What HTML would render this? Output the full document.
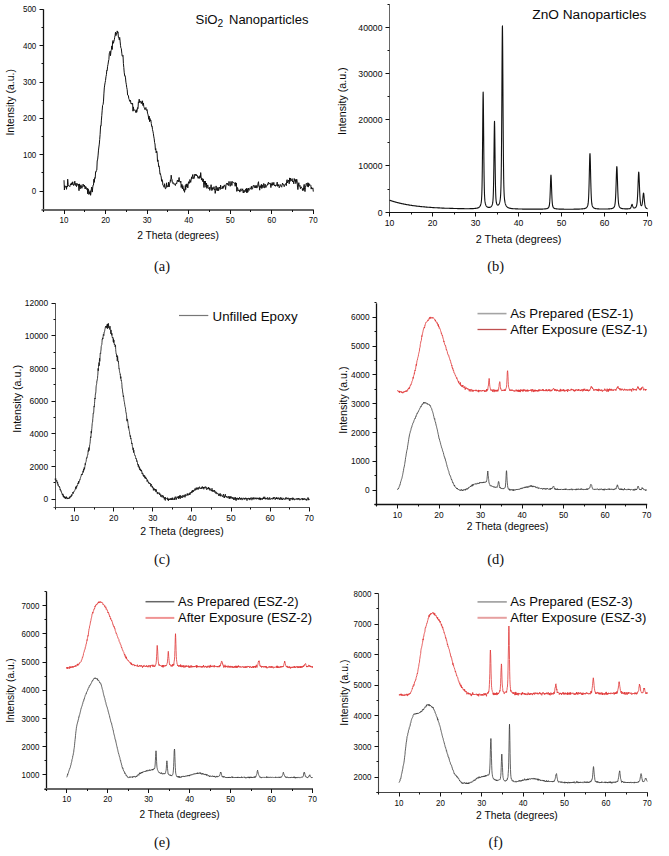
<!DOCTYPE html><html><head><meta charset="utf-8"><style>html,body{margin:0;padding:0;background:#fff;overflow:hidden;width:669px;height:856px}svg{display:block}text{font-family:"Liberation Sans", sans-serif;fill:#0a0a0a} text.cap{font-family:"Liberation Serif", serif;fill:#111}</style></head><body>
<svg width="669" height="856" viewBox="0 0 669 856">
<rect width="669" height="856" fill="#fff"/>
<line x1="43.5" y1="9.3" x2="43.5" y2="211.5" stroke="#111" stroke-width="1.3"/>
<line x1="41.5" y1="210" x2="313.8" y2="210" stroke="#666" stroke-width="1.8"/>
<line x1="39.5" y1="191.5" x2="43.5" y2="191.5" stroke="#111" stroke-width="1"/>
<text transform="translate(36.3,194.1) scale(1,1.12)" text-anchor="end" font-size="8">0</text>
<line x1="39.5" y1="154.5" x2="43.5" y2="154.5" stroke="#111" stroke-width="1"/>
<text transform="translate(36.3,157.7) scale(1,1.12)" text-anchor="end" font-size="8">100</text>
<line x1="39.5" y1="118.5" x2="43.5" y2="118.5" stroke="#111" stroke-width="1"/>
<text transform="translate(36.3,121.4) scale(1,1.12)" text-anchor="end" font-size="8">200</text>
<line x1="39.5" y1="82.5" x2="43.5" y2="82.5" stroke="#111" stroke-width="1"/>
<text transform="translate(36.3,85) scale(1,1.12)" text-anchor="end" font-size="8">300</text>
<line x1="39.5" y1="45.5" x2="43.5" y2="45.5" stroke="#111" stroke-width="1"/>
<text transform="translate(36.3,48.7) scale(1,1.12)" text-anchor="end" font-size="8">400</text>
<line x1="39.5" y1="9.5" x2="43.5" y2="9.5" stroke="#111" stroke-width="1"/>
<text transform="translate(36.3,12.3) scale(1,1.12)" text-anchor="end" font-size="8">500</text>
<line x1="41.5" y1="172.5" x2="43.5" y2="172.5" stroke="#111" stroke-width="1"/>
<line x1="41.5" y1="136.5" x2="43.5" y2="136.5" stroke="#111" stroke-width="1"/>
<line x1="41.5" y1="100.5" x2="43.5" y2="100.5" stroke="#111" stroke-width="1"/>
<line x1="41.5" y1="63.5" x2="43.5" y2="63.5" stroke="#111" stroke-width="1"/>
<line x1="41.5" y1="27.5" x2="43.5" y2="27.5" stroke="#111" stroke-width="1"/>
<line x1="64.5" y1="210" x2="64.5" y2="214" stroke="#111" stroke-width="1"/>
<text transform="translate(64,223.2) scale(1,1.12)" text-anchor="middle" font-size="8">10</text>
<line x1="105.5" y1="210" x2="105.5" y2="214" stroke="#111" stroke-width="1"/>
<text transform="translate(105.6,223.2) scale(1,1.12)" text-anchor="middle" font-size="8">20</text>
<line x1="147.5" y1="210" x2="147.5" y2="214" stroke="#111" stroke-width="1"/>
<text transform="translate(147.1,223.2) scale(1,1.12)" text-anchor="middle" font-size="8">30</text>
<line x1="188.5" y1="210" x2="188.5" y2="214" stroke="#111" stroke-width="1"/>
<text transform="translate(188.7,223.2) scale(1,1.12)" text-anchor="middle" font-size="8">40</text>
<line x1="230.5" y1="210" x2="230.5" y2="214" stroke="#111" stroke-width="1"/>
<text transform="translate(230.2,223.2) scale(1,1.12)" text-anchor="middle" font-size="8">50</text>
<line x1="271.5" y1="210" x2="271.5" y2="214" stroke="#111" stroke-width="1"/>
<text transform="translate(271.8,223.2) scale(1,1.12)" text-anchor="middle" font-size="8">60</text>
<line x1="313.5" y1="210" x2="313.5" y2="214" stroke="#111" stroke-width="1"/>
<text transform="translate(313.3,223.2) scale(1,1.12)" text-anchor="middle" font-size="8">70</text>
<line x1="43.5" y1="210" x2="43.5" y2="212" stroke="#111" stroke-width="1"/>
<line x1="84.5" y1="210" x2="84.5" y2="212" stroke="#111" stroke-width="1"/>
<line x1="126.5" y1="210" x2="126.5" y2="212" stroke="#111" stroke-width="1"/>
<line x1="167.5" y1="210" x2="167.5" y2="212" stroke="#111" stroke-width="1"/>
<line x1="209.5" y1="210" x2="209.5" y2="212" stroke="#111" stroke-width="1"/>
<line x1="250.5" y1="210" x2="250.5" y2="212" stroke="#111" stroke-width="1"/>
<line x1="292.5" y1="210" x2="292.5" y2="212" stroke="#111" stroke-width="1"/>
<polyline fill="none" stroke="#111" stroke-width="1.0" stroke-linejoin="round" points="64.0,180.2 64.4,190.0 64.8,185.6 65.2,187.2 65.7,186.8 66.1,186.2 66.5,189.3 66.9,186.0 67.3,187.0 67.7,179.2 68.2,184.7 68.6,185.7 69.0,185.5 69.4,186.1 69.8,186.7 70.2,185.4 70.6,183.8 71.1,185.0 71.5,182.8 71.9,184.9 72.3,184.5 72.7,181.8 73.1,183.6 73.6,185.5 74.0,185.0 74.4,183.7 74.8,181.2 75.2,185.3 75.6,185.3 76.0,183.1 76.5,186.6 76.9,185.7 77.3,183.6 77.7,184.3 78.1,185.2 78.5,184.3 79.0,190.7 79.4,183.9 79.8,187.6 80.2,188.9 80.6,185.5 81.0,184.8 81.5,187.0 81.9,188.3 82.3,186.4 82.7,186.6 83.1,184.1 83.5,185.4 83.9,186.5 84.4,185.0 84.8,187.6 85.2,189.0 85.6,186.5 86.0,186.7 86.4,188.3 86.9,189.6 87.3,188.2 87.7,193.8 88.1,188.8 88.5,189.9 88.9,194.5 89.3,191.9 89.8,193.9 90.2,190.7 90.6,195.3 91.0,192.6 91.4,188.8 91.8,187.0 92.3,192.1 92.7,187.9 93.1,185.0 93.5,185.0 93.9,179.2 94.3,182.4 94.7,177.7 95.2,178.3 95.6,171.8 96.0,172.2 96.4,170.4 96.8,170.2 97.2,161.0 97.7,159.1 98.1,155.1 98.5,150.1 98.9,147.0 99.3,144.1 99.7,139.5 100.1,134.6 100.6,125.8 101.0,126.2 101.4,120.1 101.8,115.3 102.2,110.2 102.6,105.3 103.1,104.4 103.5,101.1 103.9,93.9 104.3,87.9 104.7,85.1 105.1,82.7 105.5,80.6 106.0,76.5 106.4,74.7 106.8,70.1 107.2,70.5 107.6,66.3 108.0,64.4 108.5,61.0 108.9,59.5 109.3,53.2 109.7,53.1 110.1,51.2 110.5,55.7 111.0,50.8 111.4,49.6 111.8,45.9 112.2,49.5 112.6,41.7 113.0,40.5 113.4,43.3 113.9,41.4 114.3,39.8 114.7,37.3 115.1,35.4 115.5,32.2 115.9,35.7 116.4,33.4 116.8,34.1 117.2,30.9 117.6,32.7 118.0,31.9 118.4,37.4 118.8,37.2 119.3,39.9 119.7,37.4 120.1,41.1 120.5,45.3 120.9,47.9 121.3,48.6 121.8,53.2 122.2,56.1 122.6,56.2 123.0,55.4 123.4,63.4 123.8,67.5 124.2,72.2 124.7,75.9 125.1,75.6 125.5,77.9 125.9,82.2 126.3,84.3 126.7,87.3 127.2,89.7 127.6,95.0 128.0,95.0 128.4,95.6 128.8,98.7 129.2,99.4 129.6,101.2 130.1,101.4 130.5,100.3 130.9,103.5 131.3,104.0 131.7,103.1 132.1,104.3 132.6,103.3 133.0,111.2 133.4,106.9 133.8,110.4 134.2,110.3 134.6,110.0 135.1,110.3 135.5,110.9 135.9,112.6 136.3,109.7 136.7,112.3 137.1,110.8 137.5,107.6 138.0,108.5 138.4,101.9 138.8,102.5 139.2,99.2 139.6,102.4 140.0,102.7 140.5,101.8 140.9,100.9 141.3,103.6 141.7,102.2 142.1,103.3 142.5,100.8 142.9,105.5 143.4,103.0 143.8,106.6 144.2,107.8 144.6,108.0 145.0,109.7 145.4,108.1 145.9,107.5 146.3,110.2 146.7,110.4 147.1,109.6 147.5,113.1 147.9,114.2 148.3,116.0 148.8,119.4 149.2,116.1 149.6,121.7 150.0,118.5 150.4,120.9 150.8,120.0 151.3,123.6 151.7,126.4 152.1,126.0 152.5,129.7 152.9,131.2 153.3,133.3 153.7,136.1 154.2,138.8 154.6,142.6 155.0,144.0 155.4,149.9 155.8,148.6 156.2,152.9 156.7,151.0 157.1,153.1 157.5,161.4 157.9,159.9 158.3,162.7 158.7,166.6 159.1,165.9 159.6,169.8 160.0,174.2 160.4,173.6 160.8,175.5 161.2,177.0 161.6,181.3 162.1,179.6 162.5,180.7 162.9,185.3 163.3,185.6 163.7,185.6 164.1,187.3 164.6,183.7 165.0,186.7 165.4,188.9 165.8,188.5 166.2,187.1 166.6,182.8 167.0,187.2 167.5,186.5 167.9,185.6 168.3,186.5 168.7,182.1 169.1,187.0 169.5,183.7 170.0,182.9 170.4,179.8 170.8,181.3 171.2,175.2 171.6,178.9 172.0,179.5 172.4,182.5 172.9,183.5 173.3,182.6 173.7,183.0 174.1,184.3 174.5,183.8 174.9,184.6 175.4,185.5 175.8,183.6 176.2,183.4 176.6,184.0 177.0,181.8 177.4,180.1 177.8,181.4 178.3,182.0 178.7,179.7 179.1,177.5 179.5,181.5 179.9,181.7 180.3,182.5 180.8,181.0 181.2,187.5 181.6,184.6 182.0,184.2 182.4,188.9 182.8,185.6 183.2,188.0 183.7,190.5 184.1,189.3 184.5,192.3 184.9,190.3 185.3,185.4 185.7,189.7 186.2,184.0 186.6,186.7 187.0,183.8 187.4,184.7 187.8,187.9 188.2,184.0 188.6,181.7 189.1,183.4 189.5,183.1 189.9,179.5 190.3,180.9 190.7,182.4 191.1,180.2 191.6,176.9 192.0,178.9 192.4,176.0 192.8,174.5 193.2,176.9 193.6,178.6 194.1,178.6 194.5,176.0 194.9,174.1 195.3,175.0 195.7,174.3 196.1,176.0 196.5,174.6 197.0,176.0 197.4,175.7 197.8,177.6 198.2,178.4 198.6,176.7 199.0,178.1 199.5,178.3 199.9,175.7 200.3,177.6 200.7,172.6 201.1,176.8 201.5,180.1 201.9,178.1 202.4,179.3 202.8,181.7 203.2,178.9 203.6,182.8 204.0,187.5 204.4,181.1 204.9,184.3 205.3,181.1 205.7,185.7 206.1,187.3 206.5,183.0 206.9,188.4 207.3,186.6 207.8,184.9 208.2,187.8 208.6,188.5 209.0,188.5 209.4,187.3 209.8,190.4 210.3,187.8 210.7,187.9 211.1,184.7 211.5,189.5 211.9,190.6 212.3,187.5 212.7,189.6 213.2,188.3 213.6,188.6 214.0,186.7 214.4,190.0 214.8,189.0 215.2,193.4 215.7,190.4 216.1,185.9 216.5,189.9 216.9,189.9 217.3,190.8 217.7,187.5 218.2,188.2 218.6,190.7 219.0,187.2 219.4,187.9 219.8,187.0 220.2,189.5 220.6,185.1 221.1,187.5 221.5,188.4 221.9,189.0 222.3,188.5 222.7,186.4 223.1,188.4 223.6,185.9 224.0,186.6 224.4,184.9 224.8,185.5 225.2,186.6 225.6,189.5 226.0,184.9 226.5,183.5 226.9,184.2 227.3,183.1 227.7,184.8 228.1,184.5 228.5,185.5 229.0,181.4 229.4,183.6 229.8,184.8 230.2,186.3 230.6,184.2 231.0,181.4 231.4,183.2 231.9,185.5 232.3,181.6 232.7,181.7 233.1,182.6 233.5,183.0 233.9,182.5 234.4,183.7 234.8,183.4 235.2,186.3 235.6,182.5 236.0,185.4 236.4,183.0 236.8,191.4 237.3,187.4 237.7,187.8 238.1,191.0 238.5,190.1 238.9,189.7 239.3,190.0 239.8,192.1 240.2,191.3 240.6,189.2 241.0,188.7 241.4,190.7 241.8,190.7 242.2,190.4 242.7,188.8 243.1,192.6 243.5,193.0 243.9,190.2 244.3,192.4 244.7,191.3 245.2,190.0 245.6,189.2 246.0,191.9 246.4,188.3 246.8,192.9 247.2,188.5 247.7,192.3 248.1,191.6 248.5,188.0 248.9,189.8 249.3,190.3 249.7,189.6 250.1,187.8 250.6,188.6 251.0,188.4 251.4,186.3 251.8,189.4 252.2,188.8 252.6,188.8 253.1,185.6 253.5,185.8 253.9,185.2 254.3,187.5 254.7,187.6 255.1,185.6 255.5,187.8 256.0,185.5 256.4,185.6 256.8,188.1 257.2,186.9 257.6,186.8 258.0,183.4 258.5,181.7 258.9,186.5 259.3,186.2 259.7,190.2 260.1,185.6 260.5,185.9 260.9,187.8 261.4,184.3 261.8,188.5 262.2,185.9 262.6,185.2 263.0,187.7 263.4,183.8 263.9,183.4 264.3,187.8 264.7,187.8 265.1,184.2 265.5,185.3 265.9,187.5 266.3,185.8 266.8,185.5 267.2,185.6 267.6,183.8 268.0,184.6 268.4,182.1 268.8,182.8 269.3,184.1 269.7,183.4 270.1,183.0 270.5,184.1 270.9,187.6 271.3,183.8 271.7,185.3 272.2,182.5 272.6,185.3 273.0,184.5 273.4,184.9 273.8,182.4 274.2,185.2 274.7,186.0 275.1,184.9 275.5,186.3 275.9,185.2 276.3,185.6 276.7,185.1 277.2,182.1 277.6,186.3 278.0,185.5 278.4,186.0 278.8,184.4 279.2,187.8 279.6,186.9 280.1,185.7 280.5,184.6 280.9,185.7 281.3,186.6 281.7,187.2 282.1,184.7 282.6,183.0 283.0,184.9 283.4,185.0 283.8,184.4 284.2,186.7 284.6,185.3 285.0,184.9 285.5,183.6 285.9,183.9 286.3,185.7 286.7,181.1 287.1,179.7 287.5,182.9 288.0,181.3 288.4,181.2 288.8,180.0 289.2,183.8 289.6,177.9 290.0,181.5 290.4,178.1 290.9,180.2 291.3,180.9 291.7,180.4 292.1,178.6 292.5,181.9 292.9,181.1 293.4,181.4 293.8,183.8 294.2,178.5 294.6,180.1 295.0,181.4 295.4,179.5 295.8,183.6 296.3,182.3 296.7,179.2 297.1,180.9 297.5,187.1 297.9,189.6 298.3,186.0 298.8,182.7 299.2,186.1 299.6,186.3 300.0,185.4 300.4,188.7 300.8,187.3 301.3,186.8 301.7,187.9 302.1,188.4 302.5,190.5 302.9,188.6 303.3,190.4 303.7,187.1 304.2,184.4 304.6,189.8 305.0,191.6 305.4,187.7 305.8,185.5 306.2,183.6 306.7,183.1 307.1,186.3 307.5,186.4 307.9,182.7 308.3,187.1 308.7,183.2 309.1,185.8 309.6,184.3 310.0,184.7 310.4,184.9 310.8,185.3 311.2,189.1 311.6,187.3 312.1,188.5 312.5,188.7 312.9,187.9 313.3,191.6"/>
<text transform="translate(14.2,102.3) rotate(-90)" text-anchor="middle" font-size="10.5">Intensity (a.u.)</text>
<text x="178" y="239.1" text-anchor="middle" font-size="10.3">2 Theta (degrees)</text>
<text x="195.6" y="23.9" font-size="13.2">SiO<tspan font-size="10.2" dy="3.5">2</tspan></text>
<text x="229.0" y="23.9" font-size="13">Nanoparticles</text>
<text x="162" y="271" text-anchor="middle" class="cap" font-size="14.5">(a)</text>
<line x1="389.5" y1="4.3" x2="389.5" y2="214" stroke="#666" stroke-width="1.0"/>
<line x1="387.5" y1="212.5" x2="648" y2="212.5" stroke="#111" stroke-width="1.0"/>
<line x1="385.5" y1="212.5" x2="389.5" y2="212.5" stroke="#111" stroke-width="1"/>
<text transform="translate(382.5,215.5) scale(1,1.12)" text-anchor="end" font-size="8.7">0</text>
<line x1="385.5" y1="165.5" x2="389.5" y2="165.5" stroke="#111" stroke-width="1"/>
<text transform="translate(382.5,169.2) scale(1,1.12)" text-anchor="end" font-size="8.7">10000</text>
<line x1="385.5" y1="119.5" x2="389.5" y2="119.5" stroke="#111" stroke-width="1"/>
<text transform="translate(382.5,123) scale(1,1.12)" text-anchor="end" font-size="8.7">20000</text>
<line x1="385.5" y1="73.5" x2="389.5" y2="73.5" stroke="#111" stroke-width="1"/>
<text transform="translate(382.5,76.7) scale(1,1.12)" text-anchor="end" font-size="8.7">30000</text>
<line x1="385.5" y1="27.5" x2="389.5" y2="27.5" stroke="#111" stroke-width="1"/>
<text transform="translate(382.5,30.5) scale(1,1.12)" text-anchor="end" font-size="8.7">40000</text>
<line x1="387.5" y1="189.5" x2="389.5" y2="189.5" stroke="#111" stroke-width="1"/>
<line x1="387.5" y1="142.5" x2="389.5" y2="142.5" stroke="#111" stroke-width="1"/>
<line x1="387.5" y1="96.5" x2="389.5" y2="96.5" stroke="#111" stroke-width="1"/>
<line x1="387.5" y1="50.5" x2="389.5" y2="50.5" stroke="#111" stroke-width="1"/>
<line x1="387.5" y1="4.5" x2="389.5" y2="4.5" stroke="#111" stroke-width="1"/>
<line x1="389.5" y1="212.5" x2="389.5" y2="216.5" stroke="#111" stroke-width="1"/>
<text transform="translate(389.5,225.7) scale(1,1.12)" text-anchor="middle" font-size="8.7">10</text>
<line x1="432.5" y1="212.5" x2="432.5" y2="216.5" stroke="#111" stroke-width="1"/>
<text transform="translate(432.5,225.7) scale(1,1.12)" text-anchor="middle" font-size="8.7">20</text>
<line x1="475.5" y1="212.5" x2="475.5" y2="216.5" stroke="#111" stroke-width="1"/>
<text transform="translate(475.5,225.7) scale(1,1.12)" text-anchor="middle" font-size="8.7">30</text>
<line x1="518.5" y1="212.5" x2="518.5" y2="216.5" stroke="#111" stroke-width="1"/>
<text transform="translate(518.5,225.7) scale(1,1.12)" text-anchor="middle" font-size="8.7">40</text>
<line x1="561.5" y1="212.5" x2="561.5" y2="216.5" stroke="#111" stroke-width="1"/>
<text transform="translate(561.5,225.7) scale(1,1.12)" text-anchor="middle" font-size="8.7">50</text>
<line x1="604.5" y1="212.5" x2="604.5" y2="216.5" stroke="#111" stroke-width="1"/>
<text transform="translate(604.5,225.7) scale(1,1.12)" text-anchor="middle" font-size="8.7">60</text>
<line x1="647.5" y1="212.5" x2="647.5" y2="216.5" stroke="#111" stroke-width="1"/>
<text transform="translate(647.5,225.7) scale(1,1.12)" text-anchor="middle" font-size="8.7">70</text>
<line x1="411.5" y1="212.5" x2="411.5" y2="214.5" stroke="#111" stroke-width="1"/>
<line x1="454.5" y1="212.5" x2="454.5" y2="214.5" stroke="#111" stroke-width="1"/>
<line x1="497.5" y1="212.5" x2="497.5" y2="214.5" stroke="#111" stroke-width="1"/>
<line x1="540.5" y1="212.5" x2="540.5" y2="214.5" stroke="#111" stroke-width="1"/>
<line x1="583.5" y1="212.5" x2="583.5" y2="214.5" stroke="#111" stroke-width="1"/>
<line x1="626.5" y1="212.5" x2="626.5" y2="214.5" stroke="#111" stroke-width="1"/>
<polyline fill="none" stroke="#111" stroke-width="1.1" stroke-linejoin="round" points="389.50,200.2 389.59,200.2 389.67,200.2 389.76,200.3 389.84,200.3 389.93,200.3 390.02,200.3 390.10,200.4 390.19,200.4 390.27,200.4 390.36,200.5 390.45,200.5 390.53,200.5 390.62,200.6 390.70,200.6 390.79,200.6 390.88,200.6 390.96,200.7 391.05,200.7 391.13,200.7 391.22,200.8 391.31,200.8 391.39,200.8 391.48,200.8 391.56,200.9 391.65,200.9 391.74,200.9 391.82,200.9 391.91,201.0 391.99,201.0 392.08,201.0 392.17,201.1 392.25,201.1 392.34,201.1 392.42,201.1 392.51,201.2 392.60,201.2 392.68,201.2 392.77,201.2 392.85,201.3 392.94,201.3 393.03,201.3 393.11,201.4 393.20,201.4 393.28,201.4 393.37,201.4 393.46,201.5 393.54,201.5 393.63,201.5 393.71,201.5 393.80,201.6 393.89,201.6 393.97,201.6 394.06,201.6 394.14,201.7 394.23,201.7 394.32,201.7 394.40,201.7 394.49,201.8 394.57,201.8 394.66,201.8 394.75,201.8 394.83,201.9 394.92,201.9 395.00,201.9 395.09,201.9 395.18,202.0 395.26,202.0 395.35,202.0 395.43,202.0 395.52,202.1 395.61,202.1 395.69,202.1 395.78,202.1 395.86,202.2 395.95,202.2 396.04,202.2 396.12,202.2 396.21,202.2 396.29,202.3 396.38,202.3 396.47,202.3 396.55,202.3 396.64,202.4 396.72,202.4 396.81,202.4 396.90,202.4 396.98,202.5 397.07,202.5 397.15,202.5 397.24,202.5 397.33,202.5 397.41,202.6 397.50,202.6 397.58,202.6 397.67,202.6 397.76,202.7 397.84,202.7 397.93,202.7 398.01,202.7 398.10,202.7 398.19,202.8 398.27,202.8 398.36,202.8 398.44,202.8 398.53,202.9 398.62,202.9 398.70,202.9 398.79,202.9 398.87,202.9 398.96,203.0 399.05,203.0 399.13,203.0 399.22,203.0 399.30,203.0 399.39,203.1 399.48,203.1 399.56,203.1 399.65,203.1 399.73,203.1 399.82,203.2 399.91,203.2 399.99,203.2 400.08,203.2 400.16,203.2 400.25,203.3 400.34,203.3 400.42,203.3 400.51,203.3 400.59,203.3 400.68,203.4 400.77,203.4 400.85,203.4 400.94,203.4 401.02,203.4 401.11,203.5 401.20,203.5 401.28,203.5 401.37,203.5 401.45,203.5 401.54,203.6 401.63,203.6 401.71,203.6 401.80,203.6 401.88,203.6 401.97,203.7 402.06,203.7 402.14,203.7 402.23,203.7 402.31,203.7 402.40,203.7 402.49,203.8 402.57,203.8 402.66,203.8 402.74,203.8 402.83,203.8 402.92,203.9 403.00,203.9 403.09,203.9 403.17,203.9 403.26,203.9 403.35,203.9 403.43,204.0 403.52,204.0 403.60,204.0 403.69,204.0 403.78,204.0 403.86,204.1 403.95,204.1 404.03,204.1 404.12,204.1 404.21,204.1 404.29,204.1 404.38,204.2 404.46,204.2 404.55,204.2 404.64,204.2 404.72,204.2 404.81,204.2 404.89,204.3 404.98,204.3 405.07,204.3 405.15,204.3 405.24,204.3 405.32,204.3 405.41,204.4 405.50,204.4 405.58,204.4 405.67,204.4 405.75,204.4 405.84,204.4 405.93,204.5 406.01,204.5 406.10,204.5 406.18,204.5 406.27,204.5 406.36,204.5 406.44,204.5 406.53,204.6 406.61,204.6 406.70,204.6 406.79,204.6 406.87,204.6 406.96,204.6 407.04,204.7 407.13,204.7 407.22,204.7 407.30,204.7 407.39,204.7 407.47,204.7 407.56,204.7 407.65,204.8 407.73,204.8 407.82,204.8 407.90,204.8 407.99,204.8 408.08,204.8 408.16,204.9 408.25,204.9 408.33,204.9 408.42,204.9 408.51,204.9 408.59,204.9 408.68,204.9 408.76,205.0 408.85,205.0 408.94,205.0 409.02,205.0 409.11,205.0 409.19,205.0 409.28,205.0 409.37,205.1 409.45,205.1 409.54,205.1 409.62,205.1 409.71,205.1 409.80,205.1 409.88,205.1 409.97,205.1 410.05,205.2 410.14,205.2 410.23,205.2 410.31,205.2 410.40,205.2 410.48,205.2 410.57,205.2 410.66,205.3 410.74,205.3 410.83,205.3 410.91,205.3 411.00,205.3 411.09,205.3 411.17,205.3 411.26,205.4 411.34,205.4 411.43,205.4 411.52,205.4 411.60,205.4 411.69,205.4 411.77,205.4 411.86,205.4 411.95,205.5 412.03,205.5 412.12,205.5 412.20,205.5 412.29,205.5 412.38,205.5 412.46,205.5 412.55,205.5 412.63,205.6 412.72,205.6 412.81,205.6 412.89,205.6 412.98,205.6 413.06,205.6 413.15,205.6 413.24,205.6 413.32,205.7 413.41,205.7 413.49,205.7 413.58,205.7 413.67,205.7 413.75,205.7 413.84,205.7 413.92,205.7 414.01,205.7 414.10,205.8 414.18,205.8 414.27,205.8 414.35,205.8 414.44,205.8 414.53,205.8 414.61,205.8 414.70,205.8 414.78,205.8 414.87,205.9 414.96,205.9 415.04,205.9 415.13,205.9 415.21,205.9 415.30,205.9 415.39,205.9 415.47,205.9 415.56,206.0 415.64,206.0 415.73,206.0 415.82,206.0 415.90,206.0 415.99,206.0 416.07,206.0 416.16,206.0 416.25,206.0 416.33,206.0 416.42,206.1 416.50,206.1 416.59,206.1 416.68,206.1 416.76,206.1 416.85,206.1 416.93,206.1 417.02,206.1 417.11,206.1 417.19,206.2 417.28,206.2 417.36,206.2 417.45,206.2 417.54,206.2 417.62,206.2 417.71,206.2 417.79,206.2 417.88,206.2 417.97,206.2 418.05,206.3 418.14,206.3 418.22,206.3 418.31,206.3 418.40,206.3 418.48,206.3 418.57,206.3 418.65,206.3 418.74,206.3 418.83,206.3 418.91,206.4 419.00,206.4 419.08,206.4 419.17,206.4 419.26,206.4 419.34,206.4 419.43,206.4 419.51,206.4 419.60,206.4 419.69,206.4 419.77,206.4 419.86,206.5 419.94,206.5 420.03,206.5 420.12,206.5 420.20,206.5 420.29,206.5 420.37,206.5 420.46,206.5 420.55,206.5 420.63,206.5 420.72,206.5 420.80,206.6 420.89,206.6 420.98,206.6 421.06,206.6 421.15,206.6 421.23,206.6 421.32,206.6 421.41,206.6 421.49,206.6 421.58,206.6 421.66,206.6 421.75,206.7 421.84,206.7 421.92,206.7 422.01,206.7 422.09,206.7 422.18,206.7 422.27,206.7 422.35,206.7 422.44,206.7 422.52,206.7 422.61,206.7 422.70,206.7 422.78,206.8 422.87,206.8 422.95,206.8 423.04,206.8 423.13,206.8 423.21,206.8 423.30,206.8 423.38,206.8 423.47,206.8 423.56,206.8 423.64,206.8 423.73,206.8 423.81,206.9 423.90,206.9 423.99,206.9 424.07,206.9 424.16,206.9 424.24,206.9 424.33,206.9 424.42,206.9 424.50,206.9 424.59,206.9 424.67,206.9 424.76,206.9 424.85,206.9 424.93,207.0 425.02,207.0 425.10,207.0 425.19,207.0 425.28,207.0 425.36,207.0 425.45,207.0 425.53,207.0 425.62,207.0 425.71,207.0 425.79,207.0 425.88,207.0 425.96,207.0 426.05,207.1 426.14,207.1 426.22,207.1 426.31,207.1 426.39,207.1 426.48,207.1 426.57,207.1 426.65,207.1 426.74,207.1 426.82,207.1 426.91,207.1 427.00,207.1 427.08,207.1 427.17,207.1 427.25,207.2 427.34,207.2 427.43,207.2 427.51,207.2 427.60,207.2 427.68,207.2 427.77,207.2 427.86,207.2 427.94,207.2 428.03,207.2 428.11,207.2 428.20,207.2 428.29,207.2 428.37,207.2 428.46,207.2 428.54,207.3 428.63,207.3 428.72,207.3 428.80,207.3 428.89,207.3 428.97,207.3 429.06,207.3 429.15,207.3 429.23,207.3 429.32,207.3 429.40,207.3 429.49,207.3 429.58,207.3 429.66,207.3 429.75,207.3 429.83,207.4 429.92,207.4 430.01,207.4 430.09,207.4 430.18,207.4 430.26,207.4 430.35,207.4 430.44,207.4 430.52,207.4 430.61,207.4 430.69,207.4 430.78,207.4 430.87,207.4 430.95,207.4 431.04,207.4 431.12,207.4 431.21,207.5 431.30,207.5 431.38,207.5 431.47,207.5 431.55,207.5 431.64,207.5 431.73,207.5 431.81,207.5 431.90,207.5 431.98,207.5 432.07,207.5 432.16,207.5 432.24,207.5 432.33,207.5 432.41,207.5 432.50,207.5 432.59,207.5 432.67,207.5 432.76,207.6 432.84,207.6 432.93,207.6 433.02,207.6 433.10,207.6 433.19,207.6 433.27,207.6 433.36,207.6 433.45,207.6 433.53,207.6 433.62,207.6 433.70,207.6 433.79,207.6 433.88,207.6 433.96,207.6 434.05,207.6 434.13,207.6 434.22,207.6 434.31,207.7 434.39,207.7 434.48,207.7 434.56,207.7 434.65,207.7 434.74,207.7 434.82,207.7 434.91,207.7 434.99,207.7 435.08,207.7 435.17,207.7 435.25,207.7 435.34,207.7 435.42,207.7 435.51,207.7 435.60,207.7 435.68,207.7 435.77,207.7 435.85,207.7 435.94,207.7 436.03,207.8 436.11,207.8 436.20,207.8 436.28,207.8 436.37,207.8 436.46,207.8 436.54,207.8 436.63,207.8 436.71,207.8 436.80,207.8 436.89,207.8 436.97,207.8 437.06,207.8 437.14,207.8 437.23,207.8 437.32,207.8 437.40,207.8 437.49,207.8 437.57,207.8 437.66,207.8 437.75,207.8 437.83,207.9 437.92,207.9 438.00,207.9 438.09,207.9 438.18,207.9 438.26,207.9 438.35,207.9 438.43,207.9 438.52,207.9 438.61,207.9 438.69,207.9 438.78,207.9 438.86,207.9 438.95,207.9 439.04,207.9 439.12,207.9 439.21,207.9 439.29,207.9 439.38,207.9 439.47,207.9 439.55,207.9 439.64,207.9 439.72,207.9 439.81,208.0 439.90,208.0 439.98,208.0 440.07,208.0 440.15,208.0 440.24,208.0 440.33,208.0 440.41,208.0 440.50,208.0 440.58,208.0 440.67,208.0 440.76,208.0 440.84,208.0 440.93,208.0 441.01,208.0 441.10,208.0 441.19,208.0 441.27,208.0 441.36,208.0 441.44,208.0 441.53,208.0 441.62,208.0 441.70,208.0 441.79,208.0 441.87,208.1 441.96,208.1 442.05,208.1 442.13,208.1 442.22,208.1 442.30,208.1 442.39,208.1 442.48,208.1 442.56,208.1 442.65,208.1 442.73,208.1 442.82,208.1 442.91,208.1 442.99,208.1 443.08,208.1 443.16,208.1 443.25,208.1 443.34,208.1 443.42,208.1 443.51,208.1 443.59,208.1 443.68,208.1 443.77,208.1 443.85,208.1 443.94,208.1 444.02,208.1 444.11,208.1 444.20,208.1 444.28,208.2 444.37,208.2 444.45,208.2 444.54,208.2 444.63,208.2 444.71,208.2 444.80,208.2 444.88,208.2 444.97,208.2 445.06,208.2 445.14,208.2 445.23,208.2 445.31,208.2 445.40,208.2 445.49,208.2 445.57,208.2 445.66,208.2 445.74,208.2 445.83,208.2 445.92,208.2 446.00,208.2 446.09,208.2 446.17,208.2 446.26,208.2 446.35,208.2 446.43,208.2 446.52,208.2 446.60,208.2 446.69,208.2 446.78,208.2 446.86,208.3 446.95,208.3 447.03,208.3 447.12,208.3 447.21,208.3 447.29,208.3 447.38,208.3 447.46,208.3 447.55,208.3 447.64,208.3 447.72,208.3 447.81,208.3 447.89,208.3 447.98,208.3 448.07,208.3 448.15,208.3 448.24,208.3 448.32,208.3 448.41,208.3 448.50,208.3 448.58,208.3 448.67,208.3 448.75,208.3 448.84,208.3 448.93,208.3 449.01,208.3 449.10,208.3 449.18,208.3 449.27,208.3 449.36,208.3 449.44,208.3 449.53,208.3 449.61,208.3 449.70,208.3 449.79,208.4 449.87,208.4 449.96,208.4 450.04,208.4 450.13,208.4 450.22,208.4 450.30,208.4 450.39,208.4 450.47,208.4 450.56,208.4 450.65,208.4 450.73,208.4 450.82,208.4 450.90,208.4 450.99,208.4 451.08,208.4 451.16,208.4 451.25,208.4 451.33,208.4 451.42,208.4 451.51,208.4 451.59,208.4 451.68,208.4 451.76,208.4 451.85,208.4 451.94,208.4 452.02,208.4 452.11,208.4 452.19,208.4 452.28,208.4 452.37,208.4 452.45,208.4 452.54,208.4 452.62,208.4 452.71,208.4 452.80,208.4 452.88,208.4 452.97,208.4 453.05,208.4 453.14,208.4 453.23,208.5 453.31,208.5 453.40,208.5 453.48,208.5 453.57,208.5 453.66,208.5 453.74,208.5 453.83,208.5 453.91,208.5 454.00,208.5 454.09,208.5 454.17,208.5 454.26,208.5 454.34,208.5 454.43,208.5 454.52,208.5 454.60,208.5 454.69,208.5 454.77,208.5 454.86,208.5 454.95,208.5 455.03,208.5 455.12,208.5 455.20,208.5 455.29,208.5 455.38,208.5 455.46,208.5 455.55,208.5 455.63,208.5 455.72,208.5 455.81,208.5 455.89,208.5 455.98,208.5 456.06,208.5 456.15,208.5 456.24,208.5 456.32,208.5 456.41,208.5 456.49,208.5 456.58,208.5 456.67,208.5 456.75,208.5 456.84,208.5 456.92,208.5 457.01,208.5 457.10,208.5 457.18,208.5 457.27,208.5 457.35,208.5 457.44,208.5 457.53,208.6 457.61,208.6 457.70,208.6 457.78,208.6 457.87,208.6 457.96,208.6 458.04,208.6 458.13,208.6 458.21,208.6 458.30,208.6 458.39,208.6 458.47,208.6 458.56,208.6 458.64,208.6 458.73,208.6 458.82,208.6 458.90,208.6 458.99,208.6 459.07,208.6 459.16,208.6 459.25,208.6 459.33,208.6 459.42,208.6 459.50,208.6 459.59,208.6 459.68,208.6 459.76,208.6 459.85,208.6 459.93,208.6 460.02,208.6 460.11,208.6 460.19,208.6 460.28,208.6 460.36,208.6 460.45,208.6 460.54,208.6 460.62,208.6 460.71,208.6 460.79,208.6 460.88,208.6 460.97,208.6 461.05,208.6 461.14,208.6 461.22,208.6 461.31,208.6 461.40,208.6 461.48,208.6 461.57,208.6 461.65,208.6 461.74,208.6 461.83,208.6 461.91,208.6 462.00,208.6 462.08,208.6 462.17,208.6 462.26,208.6 462.34,208.6 462.43,208.6 462.51,208.6 462.60,208.6 462.69,208.6 462.77,208.6 462.86,208.6 462.94,208.6 463.03,208.6 463.12,208.6 463.20,208.6 463.29,208.6 463.37,208.6 463.46,208.6 463.55,208.6 463.63,208.6 463.72,208.6 463.80,208.6 463.89,208.6 463.98,208.6 464.06,208.6 464.15,208.6 464.23,208.7 464.32,208.7 464.41,208.7 464.49,208.7 464.58,208.7 464.66,208.7 464.75,208.7 464.84,208.7 464.92,208.7 465.01,208.7 465.09,208.7 465.18,208.7 465.27,208.7 465.35,208.7 465.44,208.7 465.52,208.7 465.61,208.7 465.70,208.7 465.78,208.7 465.87,208.7 465.95,208.7 466.04,208.7 466.13,208.7 466.21,208.7 466.30,208.7 466.38,208.7 466.47,208.7 466.56,208.7 466.64,208.7 466.73,208.7 466.81,208.7 466.90,208.7 466.99,208.7 467.07,208.7 467.16,208.7 467.24,208.7 467.33,208.7 467.42,208.7 467.50,208.7 467.59,208.7 467.67,208.7 467.76,208.7 467.85,208.7 467.93,208.7 468.02,208.7 468.10,208.7 468.19,208.7 468.28,208.7 468.36,208.7 468.45,208.7 468.53,208.7 468.62,208.7 468.71,208.7 468.79,208.7 468.88,208.7 468.96,208.7 469.05,208.7 469.14,208.7 469.22,208.7 469.31,208.7 469.39,208.7 469.48,208.7 469.57,208.7 469.65,208.7 469.74,208.7 469.82,208.6 469.91,208.6 470.00,208.6 470.08,208.6 470.17,208.6 470.25,208.6 470.34,208.6 470.43,208.6 470.51,208.6 470.60,208.6 470.68,208.6 470.77,208.6 470.86,208.6 470.94,208.6 471.03,208.6 471.11,208.6 471.20,208.6 471.29,208.6 471.37,208.6 471.46,208.6 471.54,208.6 471.63,208.6 471.72,208.6 471.80,208.6 471.89,208.6 471.97,208.6 472.06,208.6 472.15,208.6 472.23,208.6 472.32,208.6 472.40,208.6 472.49,208.6 472.58,208.6 472.66,208.6 472.75,208.6 472.83,208.6 472.92,208.6 473.01,208.6 473.09,208.6 473.18,208.6 473.26,208.6 473.35,208.6 473.44,208.5 473.52,208.5 473.61,208.5 473.69,208.5 473.78,208.5 473.87,208.5 473.95,208.5 474.04,208.5 474.12,208.5 474.21,208.5 474.30,208.5 474.38,208.5 474.47,208.5 474.55,208.5 474.64,208.5 474.73,208.5 474.81,208.5 474.90,208.4 474.98,208.4 475.07,208.4 475.16,208.4 475.24,208.4 475.33,208.4 475.41,208.4 475.50,208.4 475.59,208.4 475.67,208.4 475.76,208.4 475.84,208.3 475.93,208.3 476.02,208.3 476.10,208.3 476.19,208.3 476.27,208.3 476.36,208.3 476.45,208.2 476.53,208.2 476.62,208.2 476.70,208.2 476.79,208.2 476.88,208.2 476.96,208.1 477.05,208.1 477.13,208.1 477.22,208.1 477.31,208.1 477.39,208.0 477.48,208.0 477.56,208.0 477.65,208.0 477.74,207.9 477.82,207.9 477.91,207.9 477.99,207.8 478.08,207.8 478.17,207.8 478.25,207.7 478.34,207.7 478.42,207.7 478.51,207.6 478.60,207.6 478.68,207.5 478.77,207.5 478.85,207.4 478.94,207.4 479.03,207.3 479.11,207.2 479.20,207.2 479.28,207.1 479.37,207.0 479.46,206.9 479.54,206.8 479.63,206.7 479.71,206.6 479.80,206.5 479.89,206.4 479.97,206.3 480.06,206.1 480.14,206.0 480.23,205.8 480.32,205.7 480.40,205.5 480.49,205.3 480.57,205.0 480.66,204.8 480.75,204.5 480.83,204.2 480.92,203.9 481.00,203.5 481.09,203.0 481.18,202.6 481.26,202.0 481.35,201.3 481.43,200.5 481.52,199.5 481.61,198.3 481.69,196.8 481.78,195.0 481.86,192.7 481.95,189.8 482.04,186.2 482.12,181.8 482.21,176.6 482.29,170.3 482.38,163.1 482.47,154.8 482.55,145.7 482.64,135.9 482.72,125.7 482.81,115.6 482.90,106.4 482.98,98.8 483.07,93.7 483.15,92.0 483.24,93.7 483.33,98.8 483.41,106.3 483.50,115.6 483.58,125.7 483.67,135.9 483.76,145.7 483.84,154.8 483.93,163.0 484.01,170.3 484.10,176.5 484.19,181.8 484.27,186.1 484.36,189.7 484.44,192.6 484.53,194.9 484.62,196.7 484.70,198.2 484.79,199.4 484.87,200.4 484.96,201.2 485.05,201.9 485.13,202.4 485.22,202.9 485.30,203.3 485.39,203.7 485.48,204.0 485.56,204.3 485.65,204.6 485.73,204.9 485.82,205.1 485.91,205.3 485.99,205.5 486.08,205.6 486.16,205.8 486.25,205.9 486.34,206.1 486.42,206.2 486.51,206.3 486.59,206.4 486.68,206.5 486.77,206.6 486.85,206.6 486.94,206.7 487.02,206.8 487.11,206.8 487.20,206.9 487.28,207.0 487.37,207.0 487.45,207.1 487.54,207.1 487.63,207.1 487.71,207.2 487.80,207.2 487.88,207.2 487.97,207.3 488.06,207.3 488.14,207.3 488.23,207.3 488.31,207.3 488.40,207.4 488.49,207.4 488.57,207.4 488.66,207.4 488.74,207.4 488.83,207.4 488.92,207.4 489.00,207.4 489.09,207.4 489.17,207.4 489.26,207.4 489.35,207.4 489.43,207.4 489.52,207.4 489.60,207.4 489.69,207.3 489.78,207.3 489.86,207.3 489.95,207.3 490.03,207.3 490.12,207.2 490.21,207.2 490.29,207.2 490.38,207.1 490.46,207.1 490.55,207.0 490.64,207.0 490.72,206.9 490.81,206.9 490.89,206.8 490.98,206.8 491.07,206.7 491.15,206.6 491.24,206.5 491.32,206.4 491.41,206.3 491.50,206.2 491.58,206.1 491.67,206.0 491.75,205.8 491.84,205.7 491.93,205.5 492.01,205.3 492.10,205.1 492.18,204.9 492.27,204.7 492.36,204.4 492.44,204.1 492.53,203.7 492.61,203.3 492.70,202.8 492.79,202.2 492.87,201.4 492.96,200.5 493.04,199.4 493.13,198.0 493.22,196.3 493.30,194.2 493.39,191.5 493.47,188.3 493.56,184.3 493.65,179.7 493.73,174.3 493.82,168.2 493.90,161.4 493.99,154.1 494.08,146.5 494.16,139.0 494.25,132.2 494.33,126.5 494.42,122.8 494.51,121.4 494.59,122.7 494.68,126.5 494.76,132.1 494.85,138.9 494.94,146.4 495.02,153.9 495.11,161.2 495.19,168.0 495.28,174.1 495.37,179.4 495.45,184.1 495.54,187.9 495.62,191.2 495.71,193.8 495.80,195.9 495.88,197.6 495.97,199.0 496.05,200.0 496.14,200.9 496.23,201.6 496.31,202.2 496.40,202.6 496.48,203.0 496.57,203.3 496.66,203.6 496.74,203.9 496.83,204.1 496.91,204.3 497.00,204.4 497.09,204.5 497.17,204.7 497.26,204.8 497.34,204.8 497.43,204.9 497.52,205.0 497.60,205.0 497.69,205.0 497.77,205.1 497.86,205.1 497.95,205.1 498.03,205.1 498.12,205.0 498.20,205.0 498.29,205.0 498.38,204.9 498.46,204.8 498.55,204.8 498.63,204.7 498.72,204.6 498.81,204.5 498.89,204.3 498.98,204.2 499.06,204.0 499.15,203.9 499.24,203.7 499.32,203.5 499.41,203.2 499.49,203.0 499.58,202.7 499.67,202.4 499.75,202.1 499.84,201.7 499.92,201.3 500.01,200.8 500.10,200.3 500.18,199.7 500.27,199.0 500.35,198.3 500.44,197.4 500.53,196.3 500.61,195.1 500.70,193.6 500.78,191.8 500.87,189.5 500.96,186.8 501.04,183.3 501.13,179.1 501.21,174.0 501.30,167.8 501.39,160.4 501.47,151.7 501.56,141.6 501.64,130.1 501.73,117.2 501.82,103.3 501.90,88.6 501.99,73.6 502.07,59.0 502.16,45.9 502.25,35.2 502.33,28.3 502.42,25.9 502.50,28.3 502.59,35.3 502.68,45.9 502.76,59.1 502.85,73.7 502.93,88.7 503.02,103.4 503.11,117.4 503.19,130.2 503.28,141.7 503.36,151.8 503.45,160.6 503.54,168.0 503.62,174.2 503.71,179.4 503.79,183.6 503.88,187.0 503.97,189.8 504.05,192.1 504.14,193.9 504.22,195.5 504.31,196.7 504.40,197.8 504.48,198.7 504.57,199.5 504.65,200.2 504.74,200.8 504.83,201.3 504.91,201.8 505.00,202.3 505.08,202.7 505.17,203.0 505.26,203.4 505.34,203.7 505.43,204.0 505.51,204.2 505.60,204.5 505.69,204.7 505.77,204.9 505.86,205.1 505.94,205.3 506.03,205.5 506.12,205.6 506.20,205.8 506.29,205.9 506.37,206.0 506.46,206.2 506.55,206.3 506.63,206.4 506.72,206.5 506.80,206.6 506.89,206.7 506.98,206.8 507.06,206.8 507.15,206.9 507.23,207.0 507.32,207.1 507.41,207.1 507.49,207.2 507.58,207.3 507.66,207.3 507.75,207.4 507.84,207.4 507.92,207.5 508.01,207.5 508.09,207.6 508.18,207.6 508.27,207.7 508.35,207.7 508.44,207.7 508.52,207.8 508.61,207.8 508.70,207.9 508.78,207.9 508.87,207.9 508.95,207.9 509.04,208.0 509.13,208.0 509.21,208.0 509.30,208.1 509.38,208.1 509.47,208.1 509.56,208.1 509.64,208.2 509.73,208.2 509.81,208.2 509.90,208.2 509.99,208.2 510.07,208.3 510.16,208.3 510.24,208.3 510.33,208.3 510.42,208.3 510.50,208.4 510.59,208.4 510.67,208.4 510.76,208.4 510.85,208.4 510.93,208.4 511.02,208.4 511.10,208.5 511.19,208.5 511.28,208.5 511.36,208.5 511.45,208.5 511.53,208.5 511.62,208.5 511.71,208.5 511.79,208.6 511.88,208.6 511.96,208.6 512.05,208.6 512.14,208.6 512.22,208.6 512.31,208.6 512.39,208.6 512.48,208.6 512.57,208.6 512.65,208.7 512.74,208.7 512.82,208.7 512.91,208.7 513.00,208.7 513.08,208.7 513.17,208.7 513.25,208.7 513.34,208.7 513.43,208.7 513.51,208.7 513.60,208.7 513.68,208.7 513.77,208.7 513.86,208.8 513.94,208.8 514.03,208.8 514.11,208.8 514.20,208.8 514.29,208.8 514.37,208.8 514.46,208.8 514.54,208.8 514.63,208.8 514.72,208.8 514.80,208.8 514.89,208.8 514.97,208.8 515.06,208.8 515.15,208.8 515.23,208.8 515.32,208.8 515.40,208.8 515.49,208.9 515.58,208.9 515.66,208.9 515.75,208.9 515.83,208.9 515.92,208.9 516.01,208.9 516.09,208.9 516.18,208.9 516.26,208.9 516.35,208.9 516.44,208.9 516.52,208.9 516.61,208.9 516.69,208.9 516.78,208.9 516.87,208.9 516.95,208.9 517.04,208.9 517.12,208.9 517.21,208.9 517.30,208.9 517.38,208.9 517.47,208.9 517.55,208.9 517.64,208.9 517.73,208.9 517.81,208.9 517.90,208.9 517.98,209.0 518.07,209.0 518.16,209.0 518.24,209.0 518.33,209.0 518.41,209.0 518.50,209.0 518.59,209.0 518.67,209.0 518.76,209.0 518.84,209.0 518.93,209.0 519.02,209.0 519.10,209.0 519.19,209.0 519.27,209.0 519.36,209.0 519.45,209.0 519.53,209.0 519.62,209.0 519.70,209.0 519.79,209.0 519.88,209.0 519.96,209.0 520.05,209.0 520.13,209.0 520.22,209.0 520.31,209.0 520.39,209.0 520.48,209.0 520.56,209.0 520.65,209.0 520.74,209.0 520.82,209.0 520.91,209.0 520.99,209.0 521.08,209.0 521.17,209.0 521.25,209.0 521.34,209.0 521.42,209.0 521.51,209.0 521.60,209.0 521.68,209.0 521.77,209.0 521.85,209.0 521.94,209.0 522.03,209.0 522.11,209.0 522.20,209.0 522.28,209.0 522.37,209.0 522.46,209.1 522.54,209.1 522.63,209.1 522.71,209.1 522.80,209.1 522.89,209.1 522.97,209.1 523.06,209.1 523.14,209.1 523.23,209.1 523.32,209.1 523.40,209.1 523.49,209.1 523.57,209.1 523.66,209.1 523.75,209.1 523.83,209.1 523.92,209.1 524.00,209.1 524.09,209.1 524.18,209.1 524.26,209.1 524.35,209.1 524.43,209.1 524.52,209.1 524.61,209.1 524.69,209.1 524.78,209.1 524.86,209.1 524.95,209.1 525.04,209.1 525.12,209.1 525.21,209.1 525.29,209.1 525.38,209.1 525.47,209.1 525.55,209.1 525.64,209.1 525.72,209.1 525.81,209.1 525.90,209.1 525.98,209.1 526.07,209.1 526.15,209.1 526.24,209.1 526.33,209.1 526.41,209.1 526.50,209.1 526.58,209.1 526.67,209.1 526.76,209.1 526.84,209.1 526.93,209.1 527.01,209.1 527.10,209.1 527.19,209.1 527.27,209.1 527.36,209.1 527.44,209.1 527.53,209.1 527.62,209.1 527.70,209.1 527.79,209.1 527.87,209.1 527.96,209.1 528.05,209.1 528.13,209.1 528.22,209.1 528.30,209.1 528.39,209.1 528.48,209.1 528.56,209.1 528.65,209.1 528.73,209.1 528.82,209.1 528.91,209.1 528.99,209.1 529.08,209.1 529.16,209.1 529.25,209.1 529.34,209.1 529.42,209.1 529.51,209.1 529.59,209.1 529.68,209.1 529.77,209.1 529.85,209.1 529.94,209.1 530.02,209.1 530.11,209.1 530.20,209.1 530.28,209.1 530.37,209.1 530.45,209.1 530.54,209.1 530.63,209.1 530.71,209.1 530.80,209.1 530.88,209.1 530.97,209.1 531.06,209.1 531.14,209.1 531.23,209.1 531.31,209.1 531.40,209.1 531.49,209.1 531.57,209.1 531.66,209.1 531.74,209.1 531.83,209.1 531.92,209.1 532.00,209.1 532.09,209.1 532.17,209.1 532.26,209.1 532.35,209.1 532.43,209.1 532.52,209.1 532.60,209.1 532.69,209.1 532.78,209.1 532.86,209.1 532.95,209.1 533.03,209.1 533.12,209.1 533.21,209.1 533.29,209.1 533.38,209.1 533.46,209.1 533.55,209.1 533.64,209.1 533.72,209.1 533.81,209.1 533.89,209.1 533.98,209.1 534.07,209.1 534.15,209.1 534.24,209.1 534.32,209.1 534.41,209.1 534.50,209.1 534.58,209.1 534.67,209.1 534.75,209.1 534.84,209.1 534.93,209.1 535.01,209.1 535.10,209.1 535.18,209.1 535.27,209.1 535.36,209.1 535.44,209.1 535.53,209.1 535.61,209.1 535.70,209.1 535.79,209.1 535.87,209.1 535.96,209.1 536.04,209.1 536.13,209.1 536.22,209.1 536.30,209.1 536.39,209.1 536.47,209.1 536.56,209.1 536.65,209.1 536.73,209.1 536.82,209.1 536.90,209.1 536.99,209.1 537.08,209.1 537.16,209.1 537.25,209.1 537.33,209.1 537.42,209.1 537.51,209.1 537.59,209.1 537.68,209.1 537.76,209.1 537.85,209.1 537.94,209.1 538.02,209.1 538.11,209.1 538.19,209.1 538.28,209.1 538.37,209.1 538.45,209.1 538.54,209.1 538.62,209.1 538.71,209.1 538.80,209.1 538.88,209.1 538.97,209.1 539.05,209.1 539.14,209.1 539.23,209.1 539.31,209.1 539.40,209.1 539.48,209.1 539.57,209.1 539.66,209.1 539.74,209.1 539.83,209.1 539.91,209.1 540.00,209.1 540.09,209.1 540.17,209.1 540.26,209.1 540.34,209.1 540.43,209.1 540.52,209.1 540.60,209.1 540.69,209.1 540.77,209.1 540.86,209.1 540.95,209.1 541.03,209.1 541.12,209.1 541.20,209.1 541.29,209.1 541.38,209.1 541.46,209.1 541.55,209.1 541.63,209.1 541.72,209.1 541.81,209.1 541.89,209.1 541.98,209.1 542.06,209.1 542.15,209.1 542.24,209.1 542.32,209.1 542.41,209.1 542.49,209.1 542.58,209.1 542.67,209.0 542.75,209.0 542.84,209.0 542.92,209.0 543.01,209.0 543.10,209.0 543.18,209.0 543.27,209.0 543.35,209.0 543.44,209.0 543.53,209.0 543.61,209.0 543.70,209.0 543.78,209.0 543.87,209.0 543.96,209.0 544.04,209.0 544.13,209.0 544.21,209.0 544.30,209.0 544.39,209.0 544.47,209.0 544.56,208.9 544.64,208.9 544.73,208.9 544.82,208.9 544.90,208.9 544.99,208.9 545.07,208.9 545.16,208.9 545.25,208.9 545.33,208.9 545.42,208.9 545.50,208.9 545.59,208.8 545.68,208.8 545.76,208.8 545.85,208.8 545.93,208.8 546.02,208.8 546.11,208.8 546.19,208.8 546.28,208.7 546.36,208.7 546.45,208.7 546.54,208.7 546.62,208.7 546.71,208.6 546.79,208.6 546.88,208.6 546.97,208.6 547.05,208.5 547.14,208.5 547.22,208.5 547.31,208.4 547.40,208.4 547.48,208.4 547.57,208.3 547.65,208.3 547.74,208.2 547.83,208.2 547.91,208.1 548.00,208.1 548.08,208.0 548.17,207.9 548.26,207.9 548.34,207.8 548.43,207.7 548.51,207.6 548.60,207.5 548.69,207.3 548.77,207.2 548.86,207.0 548.94,206.8 549.03,206.6 549.12,206.3 549.20,206.0 549.29,205.6 549.37,205.1 549.46,204.5 549.55,203.8 549.63,202.9 549.72,201.9 549.80,200.7 549.89,199.3 549.98,197.7 550.06,195.8 550.15,193.8 550.23,191.5 550.32,189.1 550.41,186.6 550.49,184.0 550.58,181.5 550.66,179.2 550.75,177.3 550.84,175.8 550.92,175.1 551.01,175.1 551.09,175.8 551.18,177.3 551.27,179.2 551.35,181.5 551.44,184.0 551.52,186.6 551.61,189.1 551.70,191.5 551.78,193.8 551.87,195.8 551.95,197.7 552.04,199.3 552.13,200.7 552.21,201.9 552.30,202.9 552.38,203.8 552.47,204.5 552.56,205.1 552.64,205.6 552.73,206.0 552.81,206.3 552.90,206.6 552.99,206.8 553.07,207.0 553.16,207.2 553.24,207.3 553.33,207.5 553.42,207.6 553.50,207.7 553.59,207.8 553.67,207.9 553.76,207.9 553.85,208.0 553.93,208.1 554.02,208.1 554.10,208.2 554.19,208.2 554.28,208.3 554.36,208.3 554.45,208.4 554.53,208.4 554.62,208.5 554.71,208.5 554.79,208.5 554.88,208.5 554.96,208.6 555.05,208.6 555.14,208.6 555.22,208.6 555.31,208.7 555.39,208.7 555.48,208.7 555.57,208.7 555.65,208.7 555.74,208.8 555.82,208.8 555.91,208.8 556.00,208.8 556.08,208.8 556.17,208.8 556.25,208.8 556.34,208.9 556.43,208.9 556.51,208.9 556.60,208.9 556.68,208.9 556.77,208.9 556.86,208.9 556.94,208.9 557.03,208.9 557.11,208.9 557.20,208.9 557.29,209.0 557.37,209.0 557.46,209.0 557.54,209.0 557.63,209.0 557.72,209.0 557.80,209.0 557.89,209.0 557.97,209.0 558.06,209.0 558.15,209.0 558.23,209.0 558.32,209.0 558.40,209.0 558.49,209.0 558.58,209.0 558.66,209.0 558.75,209.0 558.83,209.0 558.92,209.1 559.01,209.1 559.09,209.1 559.18,209.1 559.26,209.1 559.35,209.1 559.44,209.1 559.52,209.1 559.61,209.1 559.69,209.1 559.78,209.1 559.87,209.1 559.95,209.1 560.04,209.1 560.12,209.1 560.21,209.1 560.30,209.1 560.38,209.1 560.47,209.1 560.55,209.1 560.64,209.1 560.73,209.1 560.81,209.1 560.90,209.1 560.98,209.1 561.07,209.1 561.16,209.1 561.24,209.1 561.33,209.1 561.41,209.1 561.50,209.1 561.59,209.1 561.67,209.1 561.76,209.1 561.84,209.1 561.93,209.1 562.02,209.1 562.10,209.1 562.19,209.1 562.27,209.1 562.36,209.1 562.45,209.1 562.53,209.1 562.62,209.1 562.70,209.1 562.79,209.1 562.88,209.1 562.96,209.1 563.05,209.1 563.13,209.1 563.22,209.1 563.31,209.1 563.39,209.1 563.48,209.1 563.56,209.1 563.65,209.1 563.74,209.1 563.82,209.2 563.91,209.2 563.99,209.2 564.08,209.2 564.17,209.2 564.25,209.2 564.34,209.2 564.42,209.2 564.51,209.2 564.60,209.2 564.68,209.2 564.77,209.2 564.85,209.2 564.94,209.2 565.03,209.2 565.11,209.2 565.20,209.2 565.28,209.2 565.37,209.2 565.46,209.2 565.54,209.2 565.63,209.2 565.71,209.2 565.80,209.2 565.89,209.2 565.97,209.2 566.06,209.2 566.14,209.2 566.23,209.2 566.32,209.2 566.40,209.2 566.49,209.2 566.57,209.2 566.66,209.2 566.75,209.2 566.83,209.2 566.92,209.2 567.00,209.2 567.09,209.2 567.18,209.2 567.26,209.2 567.35,209.2 567.43,209.2 567.52,209.2 567.61,209.2 567.69,209.2 567.78,209.2 567.86,209.2 567.95,209.2 568.04,209.2 568.12,209.2 568.21,209.2 568.29,209.2 568.38,209.2 568.47,209.2 568.55,209.2 568.64,209.2 568.72,209.2 568.81,209.2 568.90,209.2 568.98,209.2 569.07,209.2 569.15,209.2 569.24,209.2 569.33,209.2 569.41,209.2 569.50,209.2 569.58,209.2 569.67,209.2 569.76,209.2 569.84,209.2 569.93,209.2 570.01,209.2 570.10,209.2 570.19,209.2 570.27,209.2 570.36,209.2 570.44,209.2 570.53,209.2 570.62,209.2 570.70,209.2 570.79,209.2 570.87,209.2 570.96,209.2 571.05,209.2 571.13,209.2 571.22,209.2 571.30,209.2 571.39,209.2 571.48,209.2 571.56,209.2 571.65,209.2 571.73,209.2 571.82,209.2 571.91,209.2 571.99,209.2 572.08,209.2 572.16,209.2 572.25,209.2 572.34,209.2 572.42,209.2 572.51,209.2 572.59,209.2 572.68,209.2 572.77,209.2 572.85,209.2 572.94,209.2 573.02,209.2 573.11,209.2 573.20,209.2 573.28,209.2 573.37,209.2 573.45,209.2 573.54,209.2 573.63,209.2 573.71,209.2 573.80,209.1 573.88,209.1 573.97,209.1 574.06,209.1 574.14,209.1 574.23,209.1 574.31,209.1 574.40,209.1 574.49,209.1 574.57,209.1 574.66,209.1 574.74,209.1 574.83,209.1 574.92,209.1 575.00,209.1 575.09,209.1 575.17,209.1 575.26,209.1 575.35,209.1 575.43,209.1 575.52,209.1 575.60,209.1 575.69,209.1 575.78,209.1 575.86,209.1 575.95,209.1 576.03,209.1 576.12,209.1 576.21,209.1 576.29,209.1 576.38,209.1 576.46,209.1 576.55,209.1 576.64,209.1 576.72,209.1 576.81,209.1 576.89,209.1 576.98,209.1 577.07,209.1 577.15,209.1 577.24,209.1 577.32,209.1 577.41,209.1 577.50,209.1 577.58,209.1 577.67,209.1 577.75,209.1 577.84,209.1 577.93,209.1 578.01,209.1 578.10,209.1 578.18,209.1 578.27,209.1 578.36,209.1 578.44,209.1 578.53,209.1 578.61,209.1 578.70,209.1 578.79,209.1 578.87,209.1 578.96,209.1 579.04,209.1 579.13,209.1 579.22,209.1 579.30,209.1 579.39,209.1 579.47,209.0 579.56,209.0 579.65,209.0 579.73,209.0 579.82,209.0 579.90,209.0 579.99,209.0 580.08,209.0 580.16,209.0 580.25,209.0 580.33,209.0 580.42,209.0 580.51,209.0 580.59,209.0 580.68,209.0 580.76,209.0 580.85,209.0 580.94,209.0 581.02,209.0 581.11,209.0 581.19,209.0 581.28,209.0 581.37,209.0 581.45,209.0 581.54,208.9 581.62,208.9 581.71,208.9 581.80,208.9 581.88,208.9 581.97,208.9 582.05,208.9 582.14,208.9 582.23,208.9 582.31,208.9 582.40,208.9 582.48,208.9 582.57,208.9 582.66,208.9 582.74,208.8 582.83,208.8 582.91,208.8 583.00,208.8 583.09,208.8 583.17,208.8 583.26,208.8 583.34,208.8 583.43,208.8 583.52,208.8 583.60,208.7 583.69,208.7 583.77,208.7 583.86,208.7 583.95,208.7 584.03,208.7 584.12,208.6 584.20,208.6 584.29,208.6 584.38,208.6 584.46,208.6 584.55,208.6 584.63,208.5 584.72,208.5 584.81,208.5 584.89,208.5 584.98,208.4 585.06,208.4 585.15,208.4 585.24,208.3 585.32,208.3 585.41,208.3 585.49,208.2 585.58,208.2 585.67,208.2 585.75,208.1 585.84,208.1 585.92,208.0 586.01,208.0 586.10,207.9 586.18,207.9 586.27,207.8 586.35,207.7 586.44,207.7 586.53,207.6 586.61,207.5 586.70,207.4 586.78,207.3 586.87,207.2 586.96,207.1 587.04,207.0 587.13,206.9 587.21,206.7 587.30,206.6 587.39,206.4 587.47,206.2 587.56,206.0 587.64,205.8 587.73,205.5 587.82,205.2 587.90,204.8 587.99,204.3 588.07,203.8 588.16,203.2 588.25,202.4 588.33,201.5 588.42,200.5 588.50,199.2 588.59,197.7 588.68,196.0 588.76,194.0 588.85,191.7 588.93,189.1 589.02,186.2 589.11,183.1 589.19,179.6 589.28,176.0 589.36,172.2 589.45,168.3 589.54,164.5 589.62,161.0 589.71,158.0 589.79,155.6 589.88,154.0 589.97,153.5 590.05,154.0 590.14,155.6 590.22,158.0 590.31,161.0 590.40,164.5 590.48,168.3 590.57,172.1 590.65,176.0 590.74,179.6 590.83,183.1 590.91,186.2 591.00,189.1 591.08,191.7 591.17,194.0 591.26,196.0 591.34,197.7 591.43,199.2 591.51,200.5 591.60,201.5 591.69,202.4 591.77,203.2 591.86,203.8 591.94,204.3 592.03,204.8 592.12,205.2 592.20,205.5 592.29,205.8 592.37,206.0 592.46,206.2 592.55,206.4 592.63,206.6 592.72,206.7 592.80,206.9 592.89,207.0 592.98,207.1 593.06,207.2 593.15,207.3 593.23,207.4 593.32,207.5 593.41,207.6 593.49,207.7 593.58,207.7 593.66,207.8 593.75,207.9 593.84,207.9 593.92,208.0 594.01,208.0 594.09,208.1 594.18,208.1 594.27,208.2 594.35,208.2 594.44,208.2 594.52,208.3 594.61,208.3 594.70,208.3 594.78,208.4 594.87,208.4 594.95,208.4 595.04,208.4 595.13,208.5 595.21,208.5 595.30,208.5 595.38,208.5 595.47,208.6 595.56,208.6 595.64,208.6 595.73,208.6 595.81,208.6 595.90,208.6 595.99,208.7 596.07,208.7 596.16,208.7 596.24,208.7 596.33,208.7 596.42,208.7 596.50,208.7 596.59,208.8 596.67,208.8 596.76,208.8 596.85,208.8 596.93,208.8 597.02,208.8 597.10,208.8 597.19,208.8 597.28,208.8 597.36,208.8 597.45,208.8 597.53,208.9 597.62,208.9 597.71,208.9 597.79,208.9 597.88,208.9 597.96,208.9 598.05,208.9 598.14,208.9 598.22,208.9 598.31,208.9 598.39,208.9 598.48,208.9 598.57,208.9 598.65,208.9 598.74,208.9 598.82,208.9 598.91,208.9 599.00,209.0 599.08,209.0 599.17,209.0 599.25,209.0 599.34,209.0 599.43,209.0 599.51,209.0 599.60,209.0 599.68,209.0 599.77,209.0 599.86,209.0 599.94,209.0 600.03,209.0 600.11,209.0 600.20,209.0 600.29,209.0 600.37,209.0 600.46,209.0 600.54,209.0 600.63,209.0 600.72,209.0 600.80,209.0 600.89,209.0 600.97,209.0 601.06,209.0 601.15,209.0 601.23,209.0 601.32,209.0 601.40,209.0 601.49,209.0 601.58,209.0 601.66,209.0 601.75,209.0 601.83,209.0 601.92,209.0 602.01,209.0 602.09,209.0 602.18,209.0 602.26,209.0 602.35,209.0 602.44,209.0 602.52,209.0 602.61,209.0 602.69,209.0 602.78,209.0 602.87,209.0 602.95,209.0 603.04,209.0 603.12,209.0 603.21,209.0 603.30,209.0 603.38,209.0 603.47,209.0 603.55,209.0 603.64,209.0 603.73,209.0 603.81,209.0 603.90,209.0 603.98,209.0 604.07,209.0 604.16,209.0 604.24,209.0 604.33,209.0 604.41,209.0 604.50,209.0 604.59,209.0 604.67,209.0 604.76,209.0 604.84,209.0 604.93,209.0 605.02,209.0 605.10,209.0 605.19,209.0 605.27,209.0 605.36,209.0 605.45,209.0 605.53,209.0 605.62,209.0 605.70,209.0 605.79,209.0 605.88,209.0 605.96,209.0 606.05,209.0 606.13,209.0 606.22,209.0 606.31,209.0 606.39,209.0 606.48,209.0 606.56,209.0 606.65,209.0 606.74,209.0 606.82,209.0 606.91,209.0 606.99,209.0 607.08,209.0 607.17,209.0 607.25,209.0 607.34,209.0 607.42,209.0 607.51,209.0 607.60,209.0 607.68,209.0 607.77,209.0 607.85,209.0 607.94,209.0 608.03,209.0 608.11,209.0 608.20,209.0 608.28,209.0 608.37,208.9 608.46,208.9 608.54,208.9 608.63,208.9 608.71,208.9 608.80,208.9 608.89,208.9 608.97,208.9 609.06,208.9 609.14,208.9 609.23,208.9 609.32,208.9 609.40,208.9 609.49,208.9 609.57,208.9 609.66,208.9 609.75,208.9 609.83,208.8 609.92,208.8 610.00,208.8 610.09,208.8 610.18,208.8 610.26,208.8 610.35,208.8 610.43,208.8 610.52,208.8 610.61,208.8 610.69,208.7 610.78,208.7 610.86,208.7 610.95,208.7 611.04,208.7 611.12,208.7 611.21,208.7 611.29,208.6 611.38,208.6 611.47,208.6 611.55,208.6 611.64,208.6 611.72,208.6 611.81,208.5 611.90,208.5 611.98,208.5 612.07,208.5 612.15,208.4 612.24,208.4 612.33,208.4 612.41,208.3 612.50,208.3 612.58,208.3 612.67,208.2 612.76,208.2 612.84,208.2 612.93,208.1 613.01,208.1 613.10,208.0 613.19,208.0 613.27,207.9 613.36,207.8 613.44,207.8 613.53,207.7 613.62,207.6 613.70,207.6 613.79,207.5 613.87,207.4 613.96,207.3 614.05,207.2 614.13,207.0 614.22,206.9 614.30,206.7 614.39,206.6 614.48,206.3 614.56,206.1 614.65,205.9 614.73,205.5 614.82,205.2 614.91,204.7 614.99,204.2 615.08,203.6 615.16,202.9 615.25,202.1 615.34,201.1 615.42,200.0 615.51,198.6 615.59,197.1 615.68,195.4 615.77,193.5 615.85,191.4 615.94,189.0 616.02,186.5 616.11,183.9 616.20,181.1 616.28,178.3 616.37,175.5 616.45,172.9 616.54,170.6 616.63,168.6 616.71,167.2 616.80,166.5 616.88,166.5 616.97,167.2 617.06,168.6 617.14,170.5 617.23,172.9 617.31,175.5 617.40,178.3 617.49,181.1 617.57,183.9 617.66,186.5 617.74,189.0 617.83,191.4 617.92,193.5 618.00,195.4 618.09,197.1 618.17,198.6 618.26,200.0 618.35,201.1 618.43,202.1 618.52,202.9 618.60,203.6 618.69,204.2 618.78,204.7 618.86,205.2 618.95,205.5 619.03,205.8 619.12,206.1 619.21,206.3 619.29,206.5 619.38,206.7 619.46,206.9 619.55,207.0 619.64,207.1 619.72,207.3 619.81,207.4 619.89,207.5 619.98,207.5 620.07,207.6 620.15,207.7 620.24,207.8 620.32,207.8 620.41,207.9 620.50,207.9 620.58,208.0 620.67,208.0 620.75,208.1 620.84,208.1 620.93,208.2 621.01,208.2 621.10,208.3 621.18,208.3 621.27,208.3 621.36,208.3 621.44,208.4 621.53,208.4 621.61,208.4 621.70,208.5 621.79,208.5 621.87,208.5 621.96,208.5 622.04,208.5 622.13,208.6 622.22,208.6 622.30,208.6 622.39,208.6 622.47,208.6 622.56,208.6 622.65,208.7 622.73,208.7 622.82,208.7 622.90,208.7 622.99,208.7 623.08,208.7 623.16,208.7 623.25,208.7 623.33,208.7 623.42,208.8 623.51,208.8 623.59,208.8 623.68,208.8 623.76,208.8 623.85,208.8 623.94,208.8 624.02,208.8 624.11,208.8 624.19,208.8 624.28,208.8 624.37,208.8 624.45,208.8 624.54,208.8 624.62,208.8 624.71,208.8 624.80,208.9 624.88,208.9 624.97,208.9 625.05,208.9 625.14,208.9 625.23,208.9 625.31,208.9 625.40,208.9 625.48,208.9 625.57,208.9 625.66,208.9 625.74,208.9 625.83,208.9 625.91,208.9 626.00,208.9 626.09,208.9 626.17,208.9 626.26,208.9 626.34,208.9 626.43,208.9 626.52,208.9 626.60,208.9 626.69,208.9 626.77,208.9 626.86,208.9 626.95,208.9 627.03,208.9 627.12,208.9 627.20,208.9 627.29,208.9 627.38,208.9 627.46,208.9 627.55,208.9 627.63,208.9 627.72,208.9 627.81,208.9 627.89,208.9 627.98,208.8 628.06,208.8 628.15,208.8 628.24,208.8 628.32,208.8 628.41,208.8 628.49,208.8 628.58,208.8 628.67,208.8 628.75,208.8 628.84,208.8 628.92,208.8 629.01,208.8 629.10,208.7 629.18,208.7 629.27,208.7 629.35,208.7 629.44,208.7 629.53,208.7 629.61,208.6 629.70,208.6 629.78,208.6 629.87,208.6 629.96,208.5 630.04,208.5 630.13,208.4 630.21,208.4 630.30,208.3 630.39,208.2 630.47,208.1 630.56,208.0 630.64,207.9 630.73,207.7 630.82,207.6 630.90,207.4 630.99,207.1 631.07,206.9 631.16,206.7 631.25,206.4 631.33,206.1 631.42,205.8 631.50,205.5 631.59,205.2 631.68,205.0 631.76,204.7 631.85,204.6 631.93,204.4 632.02,204.4 632.11,204.4 632.19,204.5 632.28,204.7 632.36,204.9 632.45,205.1 632.54,205.4 632.62,205.7 632.71,206.0 632.79,206.2 632.88,206.5 632.97,206.7 633.05,206.9 633.14,207.1 633.22,207.3 633.31,207.4 633.40,207.6 633.48,207.7 633.57,207.8 633.65,207.8 633.74,207.9 633.83,207.9 633.91,208.0 634.00,208.0 634.08,208.0 634.17,208.0 634.26,208.0 634.34,208.0 634.43,208.0 634.51,208.0 634.60,208.0 634.69,207.9 634.77,207.9 634.86,207.9 634.94,207.8 635.03,207.8 635.12,207.8 635.20,207.7 635.29,207.7 635.37,207.6 635.46,207.5 635.55,207.5 635.63,207.4 635.72,207.3 635.80,207.2 635.89,207.1 635.98,207.0 636.06,206.9 636.15,206.7 636.23,206.6 636.32,206.4 636.41,206.2 636.49,205.9 636.58,205.6 636.66,205.3 636.75,204.9 636.84,204.5 636.92,203.9 637.01,203.3 637.09,202.6 637.18,201.7 637.27,200.7 637.35,199.6 637.44,198.3 637.52,196.9 637.61,195.3 637.70,193.5 637.78,191.6 637.87,189.5 637.95,187.4 638.04,185.1 638.13,182.8 638.21,180.5 638.30,178.3 638.38,176.3 638.47,174.6 638.56,173.3 638.64,172.4 638.73,172.1 638.81,172.4 638.90,173.2 638.99,174.5 639.07,176.2 639.16,178.2 639.24,180.4 639.33,182.7 639.42,185.0 639.50,187.2 639.59,189.4 639.67,191.4 639.76,193.3 639.85,195.0 639.93,196.6 640.02,198.0 640.10,199.3 640.19,200.4 640.28,201.3 640.36,202.1 640.45,202.8 640.53,203.4 640.62,203.9 640.71,204.3 640.79,204.7 640.88,205.0 640.96,205.2 641.05,205.4 641.14,205.5 641.22,205.6 641.31,205.7 641.39,205.7 641.48,205.7 641.57,205.6 641.65,205.5 641.74,205.4 641.82,205.2 641.91,205.0 642.00,204.7 642.08,204.4 642.17,204.0 642.25,203.5 642.34,202.9 642.43,202.3 642.51,201.6 642.60,200.9 642.68,200.0 642.77,199.2 642.86,198.3 642.94,197.3 643.03,196.4 643.11,195.5 643.20,194.7 643.29,194.0 643.37,193.5 643.46,193.2 643.54,193.1 643.63,193.2 643.72,193.6 643.80,194.1 643.89,194.9 643.97,195.8 644.06,196.7 644.15,197.7 644.23,198.7 644.32,199.6 644.40,200.6 644.49,201.4 644.58,202.3 644.66,203.0 644.75,203.7 644.83,204.3 644.92,204.9 645.01,205.3 645.09,205.8 645.18,206.1 645.26,206.5 645.35,206.7 645.44,207.0 645.52,207.2 645.61,207.3 645.69,207.5 645.78,207.6 645.87,207.7 645.95,207.8 646.04,207.9 646.12,208.0 646.21,208.1 646.30,208.1 646.38,208.2 646.47,208.2 646.55,208.3 646.64,208.3 646.73,208.4 646.81,208.4 646.90,208.4 646.98,208.5 647.07,208.5 647.16,208.5 647.24,208.5 647.33,208.6 647.41,208.6 647.50,208.6"/>
<text transform="translate(346.2,101.2) rotate(-90)" text-anchor="middle" font-size="10.7">Intensity (a.u.)</text>
<text x="518.6" y="243.2" text-anchor="middle" font-size="10.8">2 Theta (degrees)</text>
<text x="532.3" y="18.9" font-size="13.7">ZnO Nanoparticles</text>
<text x="495.7" y="271" text-anchor="middle" class="cap" font-size="14.5">(b)</text>
<line x1="55.5" y1="303.3" x2="55.5" y2="509" stroke="#555" stroke-width="1.0"/>
<line x1="53.5" y1="507.5" x2="309.7" y2="507.5" stroke="#555" stroke-width="1.0"/>
<line x1="51.5" y1="499.5" x2="55.5" y2="499.5" stroke="#111" stroke-width="1"/>
<text transform="translate(48.2,502.3) scale(1,1.12)" text-anchor="end" font-size="8.4">0</text>
<line x1="51.5" y1="466.5" x2="55.5" y2="466.5" stroke="#111" stroke-width="1"/>
<text transform="translate(48.2,469.7) scale(1,1.12)" text-anchor="end" font-size="8.4">2000</text>
<line x1="51.5" y1="433.5" x2="55.5" y2="433.5" stroke="#111" stroke-width="1"/>
<text transform="translate(48.2,437) scale(1,1.12)" text-anchor="end" font-size="8.4">4000</text>
<line x1="51.5" y1="401.5" x2="55.5" y2="401.5" stroke="#111" stroke-width="1"/>
<text transform="translate(48.2,404.4) scale(1,1.12)" text-anchor="end" font-size="8.4">6000</text>
<line x1="51.5" y1="368.5" x2="55.5" y2="368.5" stroke="#111" stroke-width="1"/>
<text transform="translate(48.2,371.8) scale(1,1.12)" text-anchor="end" font-size="8.4">8000</text>
<line x1="51.5" y1="335.5" x2="55.5" y2="335.5" stroke="#111" stroke-width="1"/>
<text transform="translate(48.2,339.1) scale(1,1.12)" text-anchor="end" font-size="8.4">10000</text>
<line x1="51.5" y1="303.5" x2="55.5" y2="303.5" stroke="#111" stroke-width="1"/>
<text transform="translate(48.2,306.4) scale(1,1.12)" text-anchor="end" font-size="8.4">12000</text>
<line x1="53.5" y1="482.5" x2="55.5" y2="482.5" stroke="#111" stroke-width="1"/>
<line x1="53.5" y1="450.5" x2="55.5" y2="450.5" stroke="#111" stroke-width="1"/>
<line x1="53.5" y1="417.5" x2="55.5" y2="417.5" stroke="#111" stroke-width="1"/>
<line x1="53.5" y1="384.5" x2="55.5" y2="384.5" stroke="#111" stroke-width="1"/>
<line x1="53.5" y1="352.5" x2="55.5" y2="352.5" stroke="#111" stroke-width="1"/>
<line x1="53.5" y1="319.5" x2="55.5" y2="319.5" stroke="#111" stroke-width="1"/>
<line x1="74.5" y1="507.5" x2="74.5" y2="511.5" stroke="#111" stroke-width="1"/>
<text transform="translate(74.6,520.5) scale(1,1.12)" text-anchor="middle" font-size="8.4">10</text>
<line x1="113.5" y1="507.5" x2="113.5" y2="511.5" stroke="#111" stroke-width="1"/>
<text transform="translate(113.7,520.5) scale(1,1.12)" text-anchor="middle" font-size="8.4">20</text>
<line x1="152.5" y1="507.5" x2="152.5" y2="511.5" stroke="#111" stroke-width="1"/>
<text transform="translate(152.8,520.5) scale(1,1.12)" text-anchor="middle" font-size="8.4">30</text>
<line x1="191.5" y1="507.5" x2="191.5" y2="511.5" stroke="#111" stroke-width="1"/>
<text transform="translate(191.9,520.5) scale(1,1.12)" text-anchor="middle" font-size="8.4">40</text>
<line x1="231.5" y1="507.5" x2="231.5" y2="511.5" stroke="#111" stroke-width="1"/>
<text transform="translate(231,520.5) scale(1,1.12)" text-anchor="middle" font-size="8.4">50</text>
<line x1="270.5" y1="507.5" x2="270.5" y2="511.5" stroke="#111" stroke-width="1"/>
<text transform="translate(270.1,520.5) scale(1,1.12)" text-anchor="middle" font-size="8.4">60</text>
<line x1="309.5" y1="507.5" x2="309.5" y2="511.5" stroke="#111" stroke-width="1"/>
<text transform="translate(309.2,520.5) scale(1,1.12)" text-anchor="middle" font-size="8.4">70</text>
<line x1="55.5" y1="507.5" x2="55.5" y2="509.5" stroke="#111" stroke-width="1"/>
<line x1="94.5" y1="507.5" x2="94.5" y2="509.5" stroke="#111" stroke-width="1"/>
<line x1="133.5" y1="507.5" x2="133.5" y2="509.5" stroke="#111" stroke-width="1"/>
<line x1="172.5" y1="507.5" x2="172.5" y2="509.5" stroke="#111" stroke-width="1"/>
<line x1="211.5" y1="507.5" x2="211.5" y2="509.5" stroke="#111" stroke-width="1"/>
<line x1="250.5" y1="507.5" x2="250.5" y2="509.5" stroke="#111" stroke-width="1"/>
<line x1="289.5" y1="507.5" x2="289.5" y2="509.5" stroke="#111" stroke-width="1"/>
<polyline fill="none" stroke="#111" stroke-width="0.8" stroke-linejoin="round" points="55.0,478.7 55.2,479.5 55.4,479.0 55.6,478.8 55.8,478.6 56.0,479.9 56.2,480.8 56.4,481.4 56.6,480.5 56.8,480.2 57.0,481.7 57.2,483.4 57.4,483.5 57.6,481.9 57.8,483.4 58.0,485.4 58.2,484.5 58.4,485.7 58.6,485.7 58.8,486.0 59.0,486.6 59.2,486.0 59.4,486.9 59.5,487.7 59.7,487.4 59.9,487.4 60.1,489.8 60.3,489.1 60.5,490.2 60.7,490.0 60.9,491.3 61.1,490.8 61.3,491.3 61.5,492.0 61.7,493.1 61.9,493.1 62.1,494.1 62.3,494.7 62.5,493.9 62.7,495.3 62.9,493.9 63.1,494.6 63.3,496.9 63.5,495.4 63.7,496.7 63.8,496.1 64.0,496.3 64.2,498.0 64.4,496.9 64.6,497.2 64.8,496.5 65.0,498.3 65.2,497.0 65.4,498.6 65.6,498.1 65.8,498.7 66.0,497.1 66.2,497.9 66.4,496.6 66.6,498.1 66.8,498.0 67.0,498.0 67.2,499.1 67.4,498.8 67.6,497.7 67.8,499.0 68.0,498.5 68.1,498.5 68.3,498.0 68.5,498.6 68.7,498.3 68.9,497.8 69.1,497.8 69.3,498.3 69.5,496.8 69.7,498.3 69.9,498.0 70.1,497.9 70.3,496.1 70.5,496.8 70.7,497.1 70.9,496.9 71.1,495.5 71.3,496.4 71.5,496.2 71.7,494.5 71.9,495.6 72.1,494.6 72.3,494.1 72.4,494.1 72.6,493.5 72.8,492.1 73.0,493.2 73.2,493.4 73.4,493.6 73.6,492.0 73.8,491.8 74.0,491.0 74.2,491.2 74.4,490.9 74.6,490.8 74.8,490.3 75.0,489.5 75.2,489.5 75.4,488.8 75.6,487.1 75.8,487.8 76.0,489.1 76.2,486.1 76.4,486.9 76.6,487.5 76.8,485.7 76.9,486.0 77.1,486.2 77.3,485.8 77.5,485.7 77.7,484.5 77.9,483.2 78.1,483.9 78.3,482.9 78.5,481.3 78.7,483.4 78.9,481.7 79.1,481.7 79.3,481.8 79.5,481.4 79.7,480.0 79.9,479.2 80.1,479.5 80.3,478.5 80.5,477.5 80.7,477.4 80.9,476.4 81.1,476.3 81.2,475.8 81.4,474.2 81.6,474.8 81.8,474.8 82.0,473.9 82.2,474.8 82.4,473.9 82.6,472.4 82.8,472.1 83.0,470.8 83.2,471.6 83.4,472.4 83.6,468.9 83.8,469.0 84.0,470.3 84.2,467.5 84.4,468.0 84.6,468.9 84.8,466.8 85.0,466.1 85.2,463.4 85.4,464.7 85.5,463.4 85.7,462.6 85.9,461.9 86.1,461.5 86.3,459.7 86.5,458.0 86.7,457.6 86.9,458.2 87.1,457.6 87.3,455.6 87.5,455.5 87.7,454.6 87.9,454.7 88.1,450.4 88.3,450.5 88.5,451.5 88.7,448.8 88.9,447.6 89.1,450.6 89.3,448.0 89.5,446.9 89.7,444.8 89.8,444.4 90.0,443.3 90.2,441.8 90.4,438.4 90.6,436.6 90.8,437.8 91.0,436.6 91.2,431.1 91.4,433.2 91.6,431.0 91.8,428.5 92.0,426.2 92.2,423.7 92.4,422.5 92.6,422.0 92.8,418.6 93.0,417.0 93.2,413.2 93.4,413.5 93.6,413.2 93.8,411.0 94.0,406.3 94.1,406.9 94.3,407.1 94.5,403.6 94.7,401.2 94.9,398.0 95.1,399.0 95.3,395.2 95.5,393.4 95.7,393.5 95.9,391.2 96.1,386.9 96.3,385.3 96.5,384.6 96.7,383.6 96.9,380.8 97.1,380.8 97.3,379.0 97.5,378.4 97.7,375.5 97.9,374.0 98.1,368.4 98.3,370.8 98.5,367.2 98.6,365.5 98.8,366.0 99.0,362.5 99.2,365.6 99.4,360.9 99.6,358.2 99.8,361.4 100.0,358.2 100.2,353.5 100.4,354.0 100.6,353.8 100.8,351.2 101.0,350.0 101.2,346.7 101.4,345.6 101.6,345.3 101.8,344.6 102.0,342.3 102.2,339.0 102.4,339.3 102.6,337.8 102.8,338.0 102.9,338.9 103.1,337.2 103.3,334.3 103.5,334.4 103.7,335.2 103.9,335.6 104.1,332.1 104.3,332.2 104.5,331.6 104.7,330.9 104.9,329.4 105.1,328.9 105.3,327.4 105.5,327.0 105.7,326.0 105.9,326.5 106.1,328.0 106.3,327.3 106.5,326.2 106.7,327.2 106.9,325.6 107.1,324.4 107.2,327.4 107.4,328.8 107.6,323.9 107.8,325.8 108.0,324.7 108.2,328.1 108.4,323.3 108.6,325.1 108.8,326.6 109.0,327.2 109.2,326.8 109.4,327.5 109.6,327.9 109.8,329.6 110.0,326.1 110.2,328.6 110.4,328.9 110.6,329.4 110.8,333.9 111.0,330.0 111.2,332.1 111.4,332.7 111.5,332.9 111.7,335.3 111.9,333.3 112.1,336.4 112.3,337.5 112.5,338.1 112.7,337.3 112.9,337.1 113.1,339.8 113.3,341.9 113.5,338.7 113.7,342.7 113.9,340.0 114.1,342.6 114.3,344.4 114.5,345.0 114.7,344.2 114.9,344.3 115.1,346.8 115.3,346.0 115.5,345.2 115.7,349.5 115.9,351.8 116.0,352.6 116.2,354.1 116.4,354.0 116.6,355.1 116.8,357.0 117.0,355.3 117.2,360.9 117.4,360.1 117.6,356.4 117.8,358.9 118.0,360.8 118.2,362.0 118.4,361.3 118.6,364.2 118.8,366.0 119.0,368.9 119.2,368.5 119.4,370.5 119.6,371.7 119.8,372.8 120.0,373.1 120.2,374.6 120.3,374.2 120.5,378.4 120.7,378.0 120.9,376.6 121.1,380.3 121.3,380.0 121.5,381.4 121.7,382.5 121.9,384.5 122.1,388.6 122.3,388.5 122.5,389.9 122.7,392.7 122.9,392.6 123.1,394.9 123.3,396.8 123.5,395.7 123.7,397.3 123.9,399.4 124.1,401.0 124.3,401.7 124.5,402.8 124.6,404.0 124.8,404.8 125.0,406.5 125.2,406.7 125.4,407.8 125.6,409.2 125.8,411.7 126.0,412.8 126.2,412.8 126.4,414.8 126.6,415.8 126.8,419.8 127.0,421.2 127.2,418.9 127.4,420.1 127.6,420.1 127.8,422.0 128.0,423.7 128.2,425.1 128.4,427.8 128.6,426.3 128.8,429.0 128.9,428.9 129.1,430.2 129.3,431.2 129.5,431.5 129.7,434.0 129.9,434.8 130.1,436.3 130.3,436.8 130.5,435.6 130.7,438.7 130.9,438.0 131.1,439.4 131.3,440.4 131.5,441.2 131.7,444.0 131.9,443.5 132.1,443.1 132.3,446.3 132.5,446.5 132.7,447.9 132.9,447.7 133.1,449.9 133.2,448.0 133.4,450.7 133.6,452.6 133.8,450.1 134.0,451.6 134.2,452.7 134.4,453.3 134.6,454.8 134.8,455.4 135.0,455.1 135.2,455.6 135.4,456.2 135.6,457.5 135.8,458.7 136.0,459.0 136.2,458.4 136.4,458.7 136.6,460.9 136.8,461.6 137.0,460.6 137.2,461.6 137.4,462.2 137.6,464.5 137.7,464.2 137.9,464.8 138.1,464.6 138.3,466.8 138.5,464.6 138.7,466.0 138.9,466.3 139.1,468.2 139.3,467.6 139.5,466.8 139.7,469.8 139.9,468.6 140.1,468.6 140.3,470.2 140.5,469.3 140.7,470.7 140.9,469.7 141.1,470.7 141.3,471.3 141.5,470.1 141.7,471.5 141.9,471.4 142.0,473.9 142.2,473.8 142.4,472.8 142.6,473.1 142.8,474.2 143.0,473.8 143.2,475.7 143.4,474.9 143.6,476.4 143.8,475.4 144.0,476.4 144.2,476.9 144.4,476.6 144.6,475.4 144.8,478.1 145.0,478.0 145.2,476.9 145.4,478.4 145.6,476.8 145.8,478.4 146.0,478.8 146.2,478.8 146.3,477.9 146.5,479.1 146.7,479.5 146.9,480.0 147.1,481.7 147.3,481.4 147.5,479.7 147.7,480.5 147.9,481.1 148.1,481.2 148.3,482.4 148.5,482.0 148.7,483.2 148.9,482.4 149.1,483.6 149.3,483.4 149.5,483.1 149.7,484.0 149.9,483.4 150.1,483.8 150.3,484.2 150.5,483.6 150.6,486.1 150.8,486.4 151.0,484.9 151.2,484.9 151.4,484.2 151.6,485.5 151.8,485.6 152.0,487.2 152.2,486.1 152.4,486.4 152.6,488.0 152.8,488.1 153.0,487.7 153.2,487.6 153.4,490.4 153.6,488.2 153.8,488.3 154.0,488.8 154.2,488.7 154.4,488.7 154.6,490.1 154.8,489.2 155.0,489.9 155.1,490.6 155.3,489.9 155.5,489.1 155.7,491.6 155.9,492.0 156.1,492.1 156.3,489.5 156.5,491.4 156.7,491.5 156.9,492.2 157.1,492.5 157.3,493.6 157.5,492.0 157.7,492.2 157.9,494.1 158.1,493.5 158.3,493.5 158.5,493.1 158.7,493.1 158.9,492.6 159.1,492.6 159.3,493.0 159.4,493.0 159.6,495.0 159.8,494.7 160.0,493.6 160.2,494.4 160.4,494.8 160.6,496.5 160.8,496.5 161.0,494.7 161.2,495.2 161.4,495.8 161.6,496.1 161.8,497.2 162.0,495.7 162.2,495.4 162.4,495.1 162.6,496.4 162.8,496.7 163.0,497.5 163.2,495.9 163.4,495.7 163.6,497.5 163.7,497.0 163.9,497.2 164.1,497.8 164.3,499.4 164.5,497.9 164.7,497.3 164.9,498.9 165.1,498.6 165.3,500.5 165.5,497.2 165.7,497.9 165.9,498.3 166.1,498.6 166.3,499.0 166.5,498.6 166.7,498.8 166.9,498.9 167.1,498.8 167.3,498.7 167.5,497.7 167.7,500.0 167.9,498.8 168.0,499.5 168.2,499.9 168.4,500.9 168.6,498.7 168.8,499.9 169.0,499.8 169.2,498.9 169.4,500.0 169.6,499.2 169.8,499.3 170.0,498.6 170.2,498.4 170.4,499.8 170.6,498.5 170.8,499.2 171.0,499.1 171.2,499.3 171.4,498.5 171.6,500.0 171.8,498.9 172.0,498.2 172.2,499.3 172.3,497.6 172.5,499.6 172.7,498.8 172.9,499.3 173.1,499.4 173.3,499.7 173.5,499.3 173.7,498.9 173.9,499.4 174.1,498.1 174.3,497.6 174.5,499.8 174.7,498.0 174.9,498.4 175.1,498.3 175.3,496.6 175.5,497.5 175.7,498.1 175.9,498.2 176.1,499.9 176.3,497.6 176.5,498.7 176.7,498.0 176.8,498.0 177.0,497.3 177.2,496.5 177.4,497.2 177.6,497.0 177.8,498.0 178.0,497.5 178.2,497.2 178.4,498.8 178.6,496.2 178.8,498.2 179.0,498.5 179.2,496.3 179.4,495.9 179.6,498.0 179.8,497.9 180.0,495.1 180.2,497.2 180.4,498.7 180.6,497.7 180.8,495.7 181.0,496.6 181.1,496.5 181.3,496.1 181.5,496.5 181.7,497.2 181.9,498.0 182.1,496.5 182.3,497.6 182.5,496.7 182.7,495.3 182.9,496.1 183.1,496.4 183.3,496.4 183.5,495.8 183.7,495.6 183.9,497.2 184.1,496.0 184.3,494.8 184.5,495.4 184.7,496.5 184.9,496.4 185.1,497.3 185.3,496.3 185.4,494.4 185.6,495.6 185.8,496.1 186.0,495.8 186.2,495.3 186.4,495.2 186.6,495.3 186.8,495.5 187.0,494.4 187.2,493.6 187.4,495.1 187.6,495.0 187.8,493.6 188.0,495.5 188.2,494.7 188.4,494.4 188.6,493.9 188.8,494.1 189.0,494.5 189.2,493.5 189.4,494.5 189.6,494.8 189.7,494.9 189.9,492.7 190.1,494.5 190.3,492.7 190.5,492.4 190.7,492.2 190.9,492.8 191.1,493.0 191.3,492.4 191.5,492.8 191.7,493.1 191.9,491.0 192.1,492.5 192.3,490.3 192.5,491.1 192.7,491.7 192.9,490.8 193.1,490.0 193.3,491.9 193.5,491.4 193.7,491.3 193.9,490.2 194.1,489.9 194.2,490.0 194.4,490.5 194.6,490.2 194.8,488.7 195.0,488.6 195.2,489.3 195.4,490.3 195.6,488.7 195.8,488.9 196.0,488.9 196.2,487.7 196.4,488.3 196.6,489.7 196.8,489.6 197.0,487.7 197.2,488.6 197.4,488.0 197.6,488.8 197.8,489.4 198.0,488.3 198.2,487.3 198.4,488.2 198.5,489.3 198.7,488.6 198.9,488.7 199.1,488.2 199.3,487.4 199.5,486.7 199.7,488.0 199.9,488.5 200.1,488.0 200.3,488.0 200.5,488.4 200.7,488.0 200.9,488.0 201.1,488.9 201.3,487.5 201.5,488.2 201.7,488.6 201.9,487.4 202.1,488.2 202.3,486.4 202.5,487.4 202.7,487.7 202.8,488.3 203.0,488.0 203.2,487.0 203.4,488.2 203.6,487.0 203.8,489.3 204.0,487.5 204.2,487.0 204.4,487.3 204.6,487.6 204.8,486.8 205.0,488.2 205.2,488.3 205.4,487.5 205.6,486.6 205.8,487.2 206.0,487.7 206.2,487.3 206.4,487.2 206.6,488.6 206.8,489.9 207.0,488.5 207.1,489.0 207.3,488.3 207.5,488.9 207.7,488.7 207.9,487.8 208.1,488.2 208.3,488.4 208.5,487.1 208.7,488.9 208.9,489.0 209.1,487.8 209.3,489.8 209.5,490.3 209.7,488.2 209.9,489.0 210.1,489.0 210.3,489.0 210.5,489.0 210.7,490.1 210.9,489.9 211.1,490.8 211.3,490.0 211.4,490.0 211.6,490.6 211.8,489.9 212.0,488.2 212.2,491.5 212.4,490.0 212.6,490.1 212.8,490.1 213.0,491.6 213.2,490.2 213.4,490.7 213.6,491.4 213.8,491.7 214.0,491.4 214.2,490.9 214.4,491.1 214.6,490.1 214.8,492.3 215.0,491.6 215.2,492.5 215.4,491.7 215.6,492.3 215.8,493.0 215.9,493.7 216.1,493.4 216.3,492.7 216.5,491.9 216.7,492.5 216.9,494.1 217.1,493.7 217.3,493.4 217.5,493.6 217.7,493.6 217.9,493.1 218.1,493.6 218.3,494.4 218.5,495.5 218.7,494.4 218.9,495.5 219.1,494.4 219.3,494.1 219.5,495.5 219.7,494.6 219.9,494.9 220.1,493.2 220.2,494.4 220.4,496.3 220.6,494.6 220.8,494.7 221.0,495.2 221.2,495.4 221.4,494.7 221.6,494.8 221.8,495.0 222.0,496.2 222.2,495.7 222.4,496.7 222.6,496.7 222.8,496.1 223.0,496.5 223.2,496.1 223.4,494.0 223.6,495.5 223.8,496.6 224.0,497.7 224.2,496.7 224.4,497.2 224.5,497.9 224.7,495.7 224.9,496.7 225.1,496.1 225.3,494.1 225.5,496.3 225.7,496.5 225.9,496.4 226.1,496.9 226.3,497.3 226.5,496.9 226.7,496.0 226.9,497.1 227.1,497.9 227.3,497.9 227.5,497.8 227.7,497.1 227.9,496.7 228.1,496.8 228.3,496.3 228.5,497.4 228.7,496.7 228.8,497.1 229.0,496.8 229.2,498.8 229.4,496.5 229.6,498.6 229.8,498.4 230.0,497.0 230.2,497.9 230.4,496.3 230.6,497.6 230.8,498.5 231.0,497.7 231.2,498.1 231.4,496.7 231.6,496.7 231.8,497.4 232.0,498.3 232.2,498.0 232.4,497.3 232.6,498.7 232.8,498.8 233.0,497.6 233.2,497.7 233.3,498.5 233.5,498.6 233.7,499.9 233.9,497.6 234.1,498.6 234.3,499.6 234.5,499.4 234.7,499.3 234.9,497.4 235.1,498.2 235.3,499.7 235.5,497.4 235.7,497.8 235.9,499.6 236.1,500.8 236.3,498.1 236.5,499.3 236.7,499.0 236.9,499.3 237.1,497.9 237.3,497.8 237.5,498.3 237.6,499.0 237.8,498.7 238.0,498.4 238.2,500.0 238.4,498.0 238.6,499.1 238.8,498.7 239.0,498.8 239.2,498.2 239.4,498.1 239.6,497.2 239.8,499.1 240.0,499.5 240.2,498.8 240.4,499.3 240.6,498.2 240.8,499.4 241.0,498.7 241.2,498.2 241.4,498.1 241.6,498.7 241.8,497.8 241.9,497.9 242.1,500.1 242.3,498.6 242.5,498.7 242.7,499.0 242.9,499.3 243.1,498.8 243.3,498.5 243.5,498.6 243.7,497.8 243.9,498.1 244.1,499.2 244.3,499.4 244.5,498.2 244.7,499.3 244.9,498.7 245.1,498.4 245.3,498.0 245.5,498.4 245.7,497.7 245.9,499.1 246.1,498.3 246.2,499.3 246.4,498.6 246.6,498.7 246.8,499.5 247.0,500.7 247.2,498.1 247.4,498.5 247.6,498.7 247.8,499.3 248.0,499.0 248.2,498.4 248.4,498.7 248.6,497.9 248.8,498.7 249.0,499.3 249.2,498.3 249.4,499.2 249.6,498.6 249.8,500.1 250.0,499.0 250.2,498.3 250.4,499.2 250.5,498.7 250.7,498.3 250.9,498.7 251.1,497.4 251.3,498.9 251.5,498.9 251.7,498.8 251.9,500.2 252.1,499.8 252.3,498.3 252.5,499.0 252.7,497.7 252.9,498.8 253.1,498.8 253.3,497.9 253.5,498.5 253.7,497.5 253.9,499.5 254.1,498.4 254.3,498.2 254.5,498.3 254.7,497.8 254.9,497.9 255.0,498.7 255.2,499.1 255.4,497.9 255.6,498.6 255.8,498.0 256.0,497.7 256.2,498.5 256.4,499.3 256.6,498.8 256.8,498.1 257.0,498.8 257.2,497.8 257.4,498.6 257.6,498.5 257.8,499.1 258.0,498.7 258.2,497.8 258.4,498.9 258.6,498.8 258.8,499.2 259.0,498.0 259.2,499.7 259.3,499.1 259.5,497.9 259.7,497.5 259.9,498.8 260.1,497.9 260.3,500.1 260.5,498.0 260.7,498.4 260.9,499.5 261.1,499.9 261.3,499.0 261.5,498.4 261.7,498.3 261.9,498.5 262.1,498.0 262.3,498.1 262.5,499.6 262.7,498.9 262.9,499.0 263.1,497.8 263.3,498.9 263.5,497.8 263.6,498.5 263.8,496.8 264.0,498.6 264.2,498.6 264.4,498.6 264.6,498.5 264.8,496.8 265.0,498.9 265.2,499.2 265.4,498.7 265.6,498.1 265.8,499.3 266.0,498.0 266.2,498.0 266.4,498.7 266.6,498.7 266.8,499.1 267.0,498.7 267.2,499.1 267.4,497.6 267.6,497.3 267.8,498.7 267.9,498.6 268.1,499.9 268.3,498.9 268.5,498.3 268.7,498.3 268.9,498.4 269.1,497.9 269.3,498.5 269.5,498.8 269.7,497.4 269.9,499.9 270.1,499.4 270.3,499.1 270.5,499.1 270.7,499.1 270.9,498.7 271.1,499.1 271.3,498.6 271.5,498.1 271.7,498.5 271.9,498.4 272.1,499.2 272.3,499.4 272.4,498.8 272.6,497.9 272.8,498.3 273.0,497.7 273.2,497.8 273.4,497.7 273.6,499.1 273.8,497.6 274.0,498.0 274.2,497.0 274.4,498.1 274.6,498.3 274.8,498.6 275.0,498.4 275.2,499.8 275.4,498.7 275.6,498.6 275.8,497.8 276.0,499.0 276.2,498.5 276.4,497.2 276.6,499.0 276.7,498.0 276.9,499.0 277.1,498.7 277.3,498.3 277.5,497.9 277.7,499.0 277.9,499.4 278.1,497.5 278.3,498.5 278.5,498.0 278.7,498.0 278.9,498.1 279.1,498.8 279.3,498.7 279.5,499.8 279.7,498.5 279.9,499.0 280.1,498.7 280.3,497.3 280.5,498.2 280.7,498.7 280.9,499.7 281.0,498.2 281.2,497.6 281.4,499.3 281.6,498.4 281.8,499.1 282.0,498.8 282.2,499.0 282.4,499.9 282.6,499.1 282.8,499.9 283.0,497.8 283.2,498.0 283.4,498.8 283.6,498.6 283.8,498.8 284.0,498.7 284.2,498.7 284.4,499.0 284.6,498.9 284.8,499.8 285.0,499.6 285.2,499.3 285.3,498.7 285.5,499.1 285.7,497.5 285.9,499.0 286.1,499.1 286.3,498.6 286.5,498.1 286.7,497.5 286.9,498.2 287.1,499.3 287.3,499.0 287.5,498.1 287.7,498.7 287.9,498.3 288.1,499.0 288.3,497.8 288.5,497.9 288.7,498.1 288.9,498.8 289.1,500.1 289.3,499.9 289.5,498.7 289.6,498.5 289.8,501.0 290.0,499.3 290.2,498.1 290.4,498.3 290.6,499.3 290.8,498.5 291.0,498.9 291.2,499.1 291.4,498.2 291.6,498.1 291.8,499.3 292.0,499.6 292.2,499.9 292.4,500.0 292.6,498.0 292.8,497.6 293.0,498.8 293.2,498.2 293.4,499.5 293.6,499.0 293.8,498.3 294.0,498.8 294.1,499.0 294.3,500.2 294.5,500.0 294.7,499.3 294.9,499.4 295.1,499.0 295.3,499.5 295.5,499.2 295.7,499.0 295.9,498.6 296.1,499.0 296.3,499.4 296.5,499.2 296.7,498.4 296.9,499.2 297.1,499.7 297.3,499.7 297.5,498.8 297.7,498.6 297.9,498.2 298.1,499.3 298.3,498.0 298.4,499.3 298.6,499.2 298.8,499.4 299.0,498.7 299.2,498.3 299.4,499.1 299.6,499.4 299.8,500.2 300.0,498.9 300.2,499.3 300.4,499.2 300.6,499.5 300.8,499.7 301.0,499.4 301.2,498.7 301.4,498.4 301.6,499.1 301.8,498.8 302.0,499.2 302.2,499.2 302.4,500.1 302.6,498.4 302.7,498.7 302.9,498.0 303.1,499.5 303.3,499.0 303.5,499.7 303.7,498.9 303.9,499.2 304.1,498.6 304.3,499.2 304.5,498.6 304.7,499.4 304.9,498.7 305.1,499.3 305.3,499.4 305.5,499.0 305.7,498.8 305.9,500.1 306.1,500.2 306.3,499.0 306.5,499.1 306.7,500.5 306.9,500.3 307.0,499.6 307.2,498.9 307.4,499.0 307.6,498.4 307.8,498.3 308.0,497.4 308.2,500.1 308.4,499.1 308.6,498.3 308.8,500.0 309.0,500.1 309.2,499.0"/>
<text transform="translate(20.7,398.9) rotate(-90)" text-anchor="middle" font-size="10.7">Intensity (a.u.)</text>
<text x="182" y="535" text-anchor="middle" font-size="10.5">2 Theta (degrees)</text>
<line x1="179" y1="315.5" x2="208.3" y2="315.5" stroke="#777" stroke-width="1.2"/>
<text x="212.6" y="320.7" font-size="13.3">Unfilled Epoxy</text>
<text x="162" y="563.6" text-anchor="middle" class="cap" font-size="14.5">(c)</text>
<line x1="376.5" y1="303.3" x2="376.5" y2="506" stroke="#111" stroke-width="1.3"/>
<line x1="374.5" y1="504.5" x2="647.2" y2="504.5" stroke="#111" stroke-width="1.3"/>
<line x1="372.5" y1="490.5" x2="376.5" y2="490.5" stroke="#111" stroke-width="1"/>
<text transform="translate(369.6,493.1) scale(1,1.12)" text-anchor="end" font-size="8.35">0</text>
<line x1="372.5" y1="461.5" x2="376.5" y2="461.5" stroke="#111" stroke-width="1"/>
<text transform="translate(369.6,464.3) scale(1,1.12)" text-anchor="end" font-size="8.35">1000</text>
<line x1="372.5" y1="432.5" x2="376.5" y2="432.5" stroke="#111" stroke-width="1"/>
<text transform="translate(369.6,435.5) scale(1,1.12)" text-anchor="end" font-size="8.35">2000</text>
<line x1="372.5" y1="403.5" x2="376.5" y2="403.5" stroke="#111" stroke-width="1"/>
<text transform="translate(369.6,406.7) scale(1,1.12)" text-anchor="end" font-size="8.35">3000</text>
<line x1="372.5" y1="374.5" x2="376.5" y2="374.5" stroke="#111" stroke-width="1"/>
<text transform="translate(369.6,377.9) scale(1,1.12)" text-anchor="end" font-size="8.35">4000</text>
<line x1="372.5" y1="346.5" x2="376.5" y2="346.5" stroke="#111" stroke-width="1"/>
<text transform="translate(369.6,349.1) scale(1,1.12)" text-anchor="end" font-size="8.35">5000</text>
<line x1="372.5" y1="317.5" x2="376.5" y2="317.5" stroke="#111" stroke-width="1"/>
<text transform="translate(369.6,320.3) scale(1,1.12)" text-anchor="end" font-size="8.35">6000</text>
<line x1="374.5" y1="504.5" x2="376.5" y2="504.5" stroke="#111" stroke-width="1"/>
<line x1="374.5" y1="475.5" x2="376.5" y2="475.5" stroke="#111" stroke-width="1"/>
<line x1="374.5" y1="446.5" x2="376.5" y2="446.5" stroke="#111" stroke-width="1"/>
<line x1="374.5" y1="418.5" x2="376.5" y2="418.5" stroke="#111" stroke-width="1"/>
<line x1="374.5" y1="389.5" x2="376.5" y2="389.5" stroke="#111" stroke-width="1"/>
<line x1="374.5" y1="360.5" x2="376.5" y2="360.5" stroke="#111" stroke-width="1"/>
<line x1="374.5" y1="331.5" x2="376.5" y2="331.5" stroke="#111" stroke-width="1"/>
<line x1="374.5" y1="302.5" x2="376.5" y2="302.5" stroke="#111" stroke-width="1"/>
<line x1="397.5" y1="504.5" x2="397.5" y2="508.5" stroke="#111" stroke-width="1"/>
<text transform="translate(397.5,517.8) scale(1,1.12)" text-anchor="middle" font-size="8.35">10</text>
<line x1="439.5" y1="504.5" x2="439.5" y2="508.5" stroke="#111" stroke-width="1"/>
<text transform="translate(439,517.8) scale(1,1.12)" text-anchor="middle" font-size="8.35">20</text>
<line x1="480.5" y1="504.5" x2="480.5" y2="508.5" stroke="#111" stroke-width="1"/>
<text transform="translate(480.6,517.8) scale(1,1.12)" text-anchor="middle" font-size="8.35">30</text>
<line x1="522.5" y1="504.5" x2="522.5" y2="508.5" stroke="#111" stroke-width="1"/>
<text transform="translate(522.1,517.8) scale(1,1.12)" text-anchor="middle" font-size="8.35">40</text>
<line x1="563.5" y1="504.5" x2="563.5" y2="508.5" stroke="#111" stroke-width="1"/>
<text transform="translate(563.6,517.8) scale(1,1.12)" text-anchor="middle" font-size="8.35">50</text>
<line x1="605.5" y1="504.5" x2="605.5" y2="508.5" stroke="#111" stroke-width="1"/>
<text transform="translate(605.1,517.8) scale(1,1.12)" text-anchor="middle" font-size="8.35">60</text>
<line x1="646.5" y1="504.5" x2="646.5" y2="508.5" stroke="#111" stroke-width="1"/>
<text transform="translate(646.7,517.8) scale(1,1.12)" text-anchor="middle" font-size="8.35">70</text>
<line x1="376.5" y1="504.5" x2="376.5" y2="506.5" stroke="#111" stroke-width="1"/>
<line x1="418.5" y1="504.5" x2="418.5" y2="506.5" stroke="#111" stroke-width="1"/>
<line x1="459.5" y1="504.5" x2="459.5" y2="506.5" stroke="#111" stroke-width="1"/>
<line x1="501.5" y1="504.5" x2="501.5" y2="506.5" stroke="#111" stroke-width="1"/>
<line x1="542.5" y1="504.5" x2="542.5" y2="506.5" stroke="#111" stroke-width="1"/>
<line x1="584.5" y1="504.5" x2="584.5" y2="506.5" stroke="#111" stroke-width="1"/>
<line x1="625.5" y1="504.5" x2="625.5" y2="506.5" stroke="#111" stroke-width="1"/>
<polyline fill="none" stroke="#e03535" stroke-width="0.8" stroke-linejoin="round" points="397.5,390.9 397.7,390.3 397.9,390.5 398.1,391.6 398.3,391.5 398.5,391.7 398.7,391.2 399.0,391.6 399.2,391.2 399.4,392.8 399.6,390.9 399.8,391.9 400.0,391.5 400.2,392.0 400.4,392.2 400.6,391.7 400.8,391.5 401.0,392.1 401.2,392.1 401.4,391.6 401.7,392.6 401.9,392.9 402.1,391.8 402.3,392.5 402.5,393.2 402.7,392.5 402.9,392.3 403.1,392.8 403.3,392.9 403.5,392.1 403.7,391.5 403.9,392.2 404.1,392.4 404.4,391.7 404.6,391.4 404.8,391.9 405.0,391.4 405.2,391.0 405.4,391.6 405.6,391.8 405.8,391.0 406.0,391.0 406.2,390.3 406.4,391.6 406.6,391.1 406.8,391.0 407.1,391.4 407.3,390.1 407.5,389.8 407.7,390.3 407.9,388.9 408.1,389.0 408.3,388.9 408.5,388.7 408.7,388.1 408.9,389.1 409.1,387.7 409.3,387.4 409.5,388.4 409.8,386.8 410.0,386.7 410.2,385.7 410.4,386.0 410.6,385.4 410.8,384.7 411.0,385.0 411.2,383.7 411.4,383.6 411.6,382.7 411.8,382.7 412.0,381.2 412.2,380.8 412.5,380.5 412.7,379.4 412.9,378.3 413.1,377.2 413.3,378.4 413.5,376.2 413.7,375.7 413.9,375.3 414.1,375.0 414.3,372.9 414.5,373.5 414.7,371.6 414.9,370.3 415.2,371.0 415.4,369.4 415.6,369.1 415.8,367.2 416.0,365.6 416.2,364.3 416.4,365.6 416.6,363.9 416.8,362.2 417.0,360.7 417.2,360.4 417.4,360.1 417.6,358.5 417.8,357.7 418.1,356.8 418.3,356.2 418.5,354.5 418.7,353.6 418.9,352.8 419.1,351.9 419.3,351.5 419.5,350.0 419.7,347.9 419.9,347.6 420.1,347.2 420.3,344.4 420.5,343.7 420.8,341.6 421.0,341.6 421.2,340.8 421.4,340.2 421.6,337.5 421.8,335.6 422.0,336.5 422.2,335.3 422.4,333.6 422.6,333.5 422.8,332.2 423.0,331.4 423.2,330.3 423.5,329.1 423.7,329.0 423.9,327.9 424.1,328.0 424.3,327.0 424.5,327.9 424.7,326.9 424.9,325.1 425.1,325.3 425.3,324.1 425.5,323.6 425.7,322.7 425.9,322.6 426.2,322.0 426.4,322.2 426.6,322.2 426.8,321.9 427.0,321.4 427.2,321.4 427.4,320.8 427.6,320.3 427.8,319.9 428.0,320.1 428.2,320.8 428.4,319.6 428.6,319.2 428.9,318.5 429.1,318.7 429.3,319.2 429.5,319.1 429.7,317.4 429.9,318.0 430.1,317.2 430.3,316.9 430.5,318.5 430.7,317.7 430.9,317.6 431.1,317.4 431.3,317.4 431.6,317.5 431.8,317.5 432.0,318.5 432.2,317.7 432.4,318.1 432.6,317.6 432.8,318.0 433.0,317.5 433.2,317.6 433.4,318.0 433.6,318.2 433.8,318.5 434.0,319.0 434.3,319.1 434.5,319.5 434.7,319.3 434.9,319.8 435.1,319.7 435.3,321.1 435.5,320.1 435.7,321.4 435.9,321.6 436.1,321.6 436.3,322.1 436.5,321.9 436.7,322.7 437.0,323.3 437.2,323.6 437.4,322.7 437.6,323.8 437.8,324.9 438.0,324.7 438.2,326.0 438.4,324.5 438.6,326.9 438.8,326.2 439.0,326.7 439.2,328.3 439.4,327.8 439.7,327.9 439.9,328.7 440.1,329.4 440.3,329.5 440.5,330.5 440.7,330.9 440.9,331.8 441.1,331.9 441.3,333.4 441.5,333.0 441.7,334.4 441.9,335.3 442.1,335.1 442.4,335.0 442.6,336.1 442.8,337.6 443.0,337.5 443.2,338.9 443.4,339.4 443.6,339.9 443.8,342.0 444.0,341.2 444.2,342.6 444.4,343.1 444.6,344.2 444.8,344.9 445.1,345.3 445.3,345.0 445.5,345.2 445.7,346.8 445.9,346.8 446.1,348.3 446.3,349.9 446.5,349.4 446.7,349.9 446.9,351.0 447.1,351.2 447.3,351.7 447.5,353.2 447.8,354.1 448.0,354.0 448.2,354.7 448.4,355.4 448.6,355.2 448.8,355.5 449.0,357.3 449.2,357.3 449.4,357.8 449.6,358.6 449.8,359.1 450.0,360.6 450.2,360.6 450.5,360.5 450.7,361.8 450.9,363.3 451.1,363.2 451.3,363.5 451.5,364.6 451.7,365.8 451.9,365.2 452.1,367.4 452.3,367.1 452.5,368.0 452.7,369.2 452.9,368.5 453.2,369.6 453.4,371.0 453.6,370.6 453.8,371.7 454.0,373.1 454.2,373.0 454.4,373.0 454.6,373.3 454.8,374.0 455.0,374.6 455.2,374.9 455.4,375.7 455.6,375.4 455.8,376.4 456.1,376.8 456.3,377.0 456.5,378.4 456.7,378.6 456.9,377.7 457.1,378.8 457.3,379.6 457.5,379.6 457.7,380.5 457.9,380.5 458.1,381.4 458.3,381.2 458.5,382.7 458.8,381.3 459.0,382.8 459.2,383.7 459.4,383.2 459.6,383.6 459.8,383.6 460.0,384.7 460.2,384.0 460.4,382.4 460.6,385.5 460.8,384.8 461.0,385.3 461.2,385.2 461.5,386.6 461.7,386.4 461.9,385.6 462.1,386.1 462.3,385.3 462.5,386.8 462.7,386.4 462.9,385.0 463.1,387.3 463.3,387.5 463.5,387.2 463.7,387.3 463.9,386.9 464.2,387.5 464.4,388.1 464.6,387.7 464.8,386.4 465.0,387.3 465.2,389.7 465.4,388.3 465.6,388.9 465.8,388.1 466.0,388.6 466.2,387.5 466.4,388.2 466.6,388.3 466.9,388.8 467.1,389.0 467.3,388.9 467.5,388.4 467.7,388.9 467.9,389.5 468.1,388.6 468.3,389.3 468.5,389.5 468.7,390.0 468.9,389.9 469.1,390.0 469.3,391.3 469.6,389.2 469.8,389.5 470.0,390.0 470.2,389.3 470.4,389.7 470.6,389.8 470.8,391.5 471.0,390.2 471.2,389.8 471.4,389.3 471.6,389.2 471.8,389.5 472.0,391.0 472.3,391.6 472.5,390.1 472.7,390.4 472.9,389.9 473.1,390.6 473.3,390.4 473.5,391.4 473.7,390.3 473.9,390.8 474.1,390.4 474.3,390.4 474.5,390.7 474.7,390.5 475.0,390.7 475.2,390.2 475.4,390.4 475.6,391.0 475.8,391.1 476.0,389.7 476.2,390.8 476.4,390.2 476.6,390.5 476.8,391.1 477.0,391.2 477.2,390.7 477.4,390.7 477.7,390.5 477.9,391.6 478.1,391.2 478.3,390.9 478.5,389.9 478.7,392.2 478.9,390.6 479.1,391.2 479.3,390.6 479.5,391.2 479.7,390.7 479.9,390.0 480.1,390.7 480.4,390.6 480.6,390.7 480.8,391.3 481.0,390.6 481.2,391.0 481.4,391.3 481.6,390.9 481.8,391.0 482.0,390.4 482.2,390.9 482.4,391.2 482.6,390.0 482.8,390.3 483.1,390.1 483.3,390.5 483.5,390.9 483.7,391.0 483.9,391.0 484.1,390.2 484.3,390.7 484.5,391.6 484.7,390.8 484.9,391.6 485.1,390.6 485.3,391.4 485.5,391.4 485.8,390.6 486.0,390.6 486.2,391.5 486.4,390.1 486.6,389.2 486.8,391.2 487.0,389.2 487.2,390.5 487.4,390.2 487.6,389.7 487.8,389.9 488.0,387.4 488.2,386.4 488.5,385.0 488.7,382.0 488.9,380.2 489.1,378.4 489.3,378.8 489.5,382.9 489.7,384.8 489.9,386.6 490.1,387.5 490.3,388.2 490.5,389.8 490.7,390.3 490.9,389.8 491.2,390.4 491.4,390.5 491.6,389.8 491.8,389.5 492.0,390.3 492.2,390.6 492.4,390.2 492.6,391.7 492.8,390.6 493.0,391.2 493.2,389.3 493.4,390.2 493.6,390.6 493.8,390.8 494.1,392.1 494.3,390.3 494.5,389.7 494.7,391.1 494.9,390.3 495.1,390.2 495.3,391.5 495.5,390.1 495.7,389.9 495.9,390.5 496.1,390.6 496.3,390.1 496.5,391.4 496.8,390.5 497.0,389.9 497.2,391.2 497.4,389.8 497.6,390.5 497.8,391.4 498.0,390.1 498.2,390.4 498.4,389.2 498.6,389.4 498.8,387.1 499.0,386.6 499.2,384.0 499.5,382.7 499.7,381.7 499.9,381.7 500.1,384.1 500.3,386.3 500.5,388.4 500.7,388.0 500.9,388.9 501.1,389.9 501.3,389.8 501.5,390.7 501.7,390.8 501.9,390.7 502.2,390.1 502.4,390.2 502.6,390.8 502.8,390.0 503.0,389.9 503.2,390.3 503.4,389.8 503.6,390.5 503.8,390.4 504.0,390.0 504.2,390.3 504.4,389.8 504.6,390.9 504.9,389.3 505.1,390.5 505.3,390.0 505.5,390.5 505.7,389.2 505.9,388.5 506.1,388.1 506.3,387.4 506.5,387.3 506.7,384.6 506.9,381.0 507.1,377.2 507.3,372.0 507.6,370.7 507.8,372.6 508.0,376.3 508.2,381.3 508.4,384.6 508.6,386.9 508.8,387.6 509.0,388.5 509.2,388.9 509.4,388.9 509.6,390.5 509.8,390.2 510.0,389.9 510.3,390.9 510.5,390.5 510.7,389.7 510.9,389.7 511.1,389.7 511.3,390.4 511.5,390.5 511.7,389.8 511.9,390.7 512.1,390.3 512.3,389.7 512.5,390.7 512.7,390.9 513.0,390.5 513.2,390.2 513.4,390.3 513.6,390.5 513.8,390.3 514.0,391.5 514.2,391.1 514.4,390.5 514.6,391.1 514.8,391.4 515.0,391.3 515.2,391.1 515.4,390.7 515.7,391.2 515.9,390.5 516.1,389.6 516.3,390.7 516.5,389.9 516.7,390.4 516.9,391.3 517.1,390.8 517.3,391.2 517.5,390.2 517.7,391.3 517.9,389.9 518.1,390.3 518.4,391.8 518.6,390.2 518.8,389.7 519.0,391.1 519.2,390.0 519.4,391.7 519.6,390.5 519.8,391.6 520.0,390.3 520.2,391.6 520.4,392.1 520.6,390.4 520.8,389.3 521.1,391.0 521.3,390.1 521.5,390.5 521.7,390.8 521.9,390.3 522.1,389.7 522.3,391.3 522.5,390.3 522.7,390.4 522.9,391.4 523.1,389.7 523.3,389.5 523.5,391.2 523.8,389.6 524.0,390.6 524.2,390.7 524.4,389.7 524.6,390.5 524.8,390.4 525.0,389.7 525.2,389.9 525.4,390.1 525.6,391.4 525.8,391.5 526.0,389.9 526.2,391.1 526.5,390.5 526.7,391.2 526.9,390.7 527.1,391.3 527.3,389.6 527.5,391.2 527.7,390.7 527.9,390.7 528.1,389.9 528.3,391.4 528.5,390.6 528.7,390.7 528.9,390.3 529.2,390.3 529.4,390.8 529.6,390.4 529.8,390.8 530.0,390.3 530.2,390.6 530.4,390.9 530.6,390.6 530.8,390.4 531.0,389.3 531.2,390.8 531.4,390.4 531.6,389.7 531.8,391.8 532.1,391.6 532.3,391.2 532.5,390.6 532.7,389.1 532.9,390.3 533.1,389.9 533.3,390.7 533.5,392.0 533.7,391.9 533.9,390.0 534.1,390.4 534.3,391.3 534.5,389.9 534.8,391.4 535.0,389.9 535.2,389.7 535.4,391.0 535.6,391.2 535.8,390.0 536.0,391.2 536.2,390.0 536.4,391.2 536.6,390.1 536.8,390.5 537.0,390.8 537.2,391.0 537.5,390.4 537.7,391.6 537.9,390.7 538.1,390.7 538.3,390.1 538.5,391.2 538.7,389.5 538.9,390.7 539.1,391.2 539.3,389.7 539.5,389.5 539.7,390.6 539.9,391.0 540.2,390.5 540.4,390.9 540.6,390.7 540.8,389.6 541.0,390.3 541.2,390.4 541.4,390.3 541.6,390.5 541.8,390.0 542.0,390.0 542.2,390.7 542.4,390.4 542.6,389.1 542.9,390.2 543.1,390.6 543.3,389.3 543.5,390.5 543.7,391.1 543.9,390.1 544.1,391.0 544.3,390.8 544.5,390.3 544.7,390.5 544.9,390.9 545.1,390.8 545.3,390.8 545.6,389.8 545.8,390.9 546.0,390.8 546.2,389.3 546.4,390.8 546.6,389.6 546.8,389.7 547.0,390.5 547.2,391.3 547.4,390.2 547.6,390.1 547.8,389.9 548.0,390.4 548.3,389.7 548.5,389.6 548.7,391.0 548.9,389.6 549.1,390.3 549.3,390.7 549.5,390.6 549.7,389.3 549.9,389.8 550.1,391.4 550.3,390.3 550.5,390.4 550.7,390.5 551.0,390.6 551.2,391.2 551.4,389.8 551.6,390.8 551.8,390.5 552.0,390.5 552.2,390.5 552.4,389.5 552.6,389.6 552.8,389.9 553.0,389.8 553.2,389.3 553.4,388.2 553.7,388.6 553.9,388.6 554.1,389.2 554.3,389.4 554.5,389.4 554.7,390.8 554.9,389.0 555.1,390.5 555.3,390.5 555.5,389.4 555.7,390.1 555.9,390.3 556.1,390.6 556.4,391.2 556.6,390.2 556.8,389.6 557.0,390.9 557.2,389.6 557.4,391.0 557.6,390.8 557.8,390.1 558.0,390.3 558.2,390.0 558.4,390.8 558.6,390.9 558.8,391.4 559.1,391.0 559.3,391.0 559.5,391.2 559.7,390.2 559.9,390.7 560.1,391.5 560.3,388.9 560.5,390.8 560.7,391.1 560.9,389.6 561.1,389.7 561.3,391.0 561.5,391.2 561.8,390.9 562.0,389.7 562.2,390.5 562.4,390.8 562.6,390.4 562.8,389.7 563.0,391.1 563.2,390.6 563.4,391.1 563.6,389.1 563.8,389.3 564.0,389.8 564.2,390.4 564.5,390.0 564.7,391.5 564.9,390.2 565.1,391.1 565.3,391.1 565.5,390.7 565.7,390.5 565.9,390.0 566.1,389.9 566.3,390.2 566.5,390.9 566.7,389.9 566.9,390.4 567.2,389.6 567.4,390.8 567.6,391.9 567.8,390.6 568.0,389.1 568.2,390.0 568.4,390.4 568.6,389.8 568.8,390.0 569.0,390.0 569.2,390.6 569.4,390.3 569.6,390.2 569.8,390.7 570.1,390.9 570.3,390.2 570.5,389.7 570.7,389.9 570.9,390.0 571.1,390.0 571.3,388.8 571.5,390.1 571.7,389.7 571.9,389.2 572.1,390.3 572.3,390.1 572.5,389.7 572.8,389.3 573.0,390.1 573.2,390.1 573.4,390.2 573.6,391.0 573.8,389.6 574.0,390.4 574.2,391.3 574.4,390.4 574.6,391.3 574.8,390.8 575.0,390.3 575.2,390.8 575.5,389.6 575.7,391.1 575.9,390.1 576.1,389.9 576.3,389.4 576.5,389.7 576.7,390.1 576.9,390.2 577.1,390.3 577.3,389.6 577.5,390.6 577.7,389.9 577.9,390.3 578.2,390.1 578.4,390.4 578.6,389.0 578.8,390.6 579.0,390.1 579.2,390.1 579.4,389.9 579.6,390.0 579.8,390.0 580.0,389.7 580.2,391.1 580.4,390.2 580.6,390.9 580.9,390.1 581.1,390.9 581.3,390.8 581.5,390.2 581.7,389.4 581.9,389.9 582.1,390.0 582.3,389.4 582.5,390.7 582.7,391.4 582.9,390.4 583.1,390.4 583.3,389.5 583.6,389.0 583.8,391.0 584.0,388.8 584.2,389.3 584.4,389.7 584.6,390.0 584.8,388.8 585.0,390.1 585.2,390.4 585.4,390.1 585.6,390.9 585.8,389.9 586.0,390.2 586.3,389.9 586.5,389.9 586.7,390.7 586.9,389.4 587.1,390.7 587.3,389.6 587.5,391.0 587.7,389.9 587.9,390.5 588.1,390.0 588.3,390.4 588.5,391.3 588.7,390.6 589.0,389.9 589.2,389.5 589.4,390.7 589.6,391.0 589.8,390.1 590.0,389.6 590.2,389.5 590.4,389.2 590.6,387.8 590.8,387.2 591.0,386.7 591.2,387.2 591.4,386.4 591.7,386.7 591.9,387.9 592.1,387.2 592.3,388.2 592.5,389.0 592.7,388.3 592.9,389.0 593.1,389.1 593.3,389.0 593.5,389.4 593.7,390.6 593.9,390.1 594.1,389.4 594.4,390.4 594.6,390.0 594.8,389.8 595.0,389.2 595.2,389.3 595.4,389.5 595.6,390.2 595.8,389.5 596.0,389.8 596.2,390.2 596.4,389.3 596.6,389.8 596.8,390.5 597.1,389.3 597.3,390.2 597.5,389.7 597.7,391.0 597.9,390.1 598.1,390.6 598.3,390.6 598.5,391.2 598.7,388.8 598.9,390.2 599.1,389.9 599.3,389.4 599.5,390.1 599.8,389.8 600.0,390.9 600.2,390.0 600.4,390.3 600.6,389.8 600.8,390.0 601.0,390.9 601.2,391.1 601.4,390.7 601.6,389.6 601.8,389.8 602.0,389.8 602.2,391.2 602.5,391.6 602.7,390.4 602.9,390.3 603.1,390.4 603.3,389.9 603.5,390.2 603.7,390.7 603.9,390.6 604.1,390.0 604.3,390.0 604.5,390.1 604.7,388.7 604.9,390.2 605.2,390.0 605.4,390.6 605.6,390.2 605.8,389.7 606.0,389.7 606.2,390.1 606.4,389.8 606.6,390.0 606.8,391.1 607.0,391.9 607.2,388.7 607.4,389.5 607.6,390.1 607.8,391.0 608.1,390.7 608.3,389.2 608.5,391.6 608.7,390.2 608.9,389.5 609.1,389.9 609.3,389.6 609.5,390.1 609.7,388.6 609.9,390.6 610.1,390.8 610.3,389.8 610.5,389.2 610.8,390.0 611.0,389.4 611.2,390.3 611.4,390.6 611.6,389.1 611.8,389.0 612.0,389.1 612.2,390.2 612.4,390.6 612.6,390.6 612.8,390.1 613.0,389.6 613.2,389.6 613.5,390.7 613.7,389.8 613.9,389.9 614.1,389.8 614.3,389.9 614.5,389.9 614.7,389.5 614.9,389.7 615.1,389.6 615.3,390.1 615.5,389.4 615.7,389.7 615.9,390.7 616.2,389.0 616.4,389.2 616.6,388.2 616.8,388.4 617.0,387.9 617.2,387.2 617.4,386.9 617.6,387.0 617.8,387.9 618.0,386.3 618.2,388.7 618.4,388.5 618.6,388.4 618.9,388.8 619.1,389.0 619.3,389.0 619.5,388.8 619.7,389.4 619.9,388.0 620.1,390.3 620.3,389.6 620.5,389.9 620.7,390.1 620.9,389.6 621.1,388.9 621.3,390.2 621.6,390.2 621.8,389.4 622.0,389.5 622.2,388.7 622.4,389.2 622.6,389.7 622.8,390.0 623.0,389.7 623.2,389.9 623.4,390.6 623.6,389.8 623.8,389.9 624.0,389.9 624.3,390.0 624.5,388.8 624.7,389.4 624.9,389.3 625.1,390.1 625.3,390.4 625.5,390.0 625.7,389.6 625.9,390.0 626.1,389.9 626.3,389.2 626.5,389.6 626.7,390.3 627.0,390.0 627.2,390.2 627.4,389.7 627.6,390.4 627.8,389.9 628.0,389.4 628.2,389.7 628.4,390.3 628.6,390.1 628.8,389.7 629.0,389.5 629.2,389.3 629.4,389.8 629.7,390.5 629.9,388.9 630.1,389.6 630.3,389.5 630.5,389.5 630.7,390.3 630.9,389.9 631.1,389.6 631.3,389.1 631.5,389.7 631.7,391.5 631.9,389.8 632.1,389.5 632.4,388.9 632.6,389.3 632.8,388.2 633.0,388.8 633.2,388.9 633.4,389.1 633.6,390.4 633.8,389.1 634.0,389.3 634.2,389.9 634.4,389.3 634.6,389.3 634.8,389.8 635.1,389.6 635.3,389.7 635.5,389.4 635.7,389.7 635.9,389.1 636.1,390.5 636.3,389.5 636.5,390.2 636.7,389.3 636.9,388.5 637.1,388.5 637.3,388.2 637.5,387.7 637.8,386.5 638.0,387.9 638.2,386.9 638.4,388.6 638.6,388.3 638.8,388.3 639.0,389.2 639.2,388.8 639.4,388.7 639.6,389.9 639.8,389.3 640.0,389.5 640.2,390.4 640.5,389.4 640.7,389.7 640.9,388.4 641.1,389.6 641.3,388.0 641.5,389.1 641.7,387.4 641.9,387.9 642.1,387.6 642.3,387.1 642.5,387.0 642.7,386.8 642.9,386.9 643.1,388.4 643.4,389.2 643.6,390.3 643.8,389.2 644.0,388.7 644.2,389.0 644.4,389.2 644.6,389.5 644.8,389.7 645.0,389.5 645.2,389.2 645.4,390.4 645.6,389.0 645.8,390.3 646.1,389.5 646.3,389.8 646.5,389.6 646.7,390.0"/>
<polyline fill="none" stroke="#3a3a3a" stroke-width="0.8" stroke-linejoin="round" points="397.5,490.0 397.7,489.3 397.9,489.1 398.1,488.8 398.3,488.1 398.5,488.6 398.7,487.9 399.0,487.7 399.2,486.8 399.4,485.8 399.6,485.6 399.8,484.9 400.0,485.1 400.2,483.8 400.4,483.5 400.6,481.9 400.8,481.6 401.0,480.9 401.2,480.5 401.4,479.6 401.7,478.8 401.9,478.3 402.1,477.4 402.3,476.4 402.5,475.6 402.7,474.6 402.9,473.4 403.1,472.5 403.3,470.9 403.5,470.7 403.7,468.7 403.9,468.1 404.1,467.0 404.4,466.1 404.6,464.6 404.8,463.4 405.0,462.0 405.2,461.0 405.4,459.5 405.6,457.6 405.8,456.8 406.0,455.9 406.2,454.1 406.4,453.2 406.6,451.8 406.8,450.6 407.1,449.7 407.3,449.0 407.5,447.3 407.7,445.7 407.9,444.8 408.1,443.3 408.3,441.9 408.5,441.2 408.7,439.4 408.9,438.1 409.1,437.1 409.3,436.0 409.5,434.9 409.8,433.5 410.0,433.2 410.2,432.3 410.4,431.2 410.6,430.9 410.8,430.3 411.0,429.4 411.2,428.2 411.4,427.5 411.6,427.6 411.8,427.1 412.0,425.9 412.2,425.3 412.5,424.7 412.7,423.9 412.9,423.1 413.1,422.9 413.3,422.3 413.5,422.4 413.7,421.9 413.9,420.9 414.1,420.3 414.3,419.8 414.5,419.3 414.7,418.8 414.9,418.3 415.2,418.7 415.4,417.9 415.6,417.0 415.8,416.4 416.0,416.7 416.2,415.3 416.4,415.4 416.6,414.9 416.8,414.2 417.0,413.6 417.2,413.9 417.4,412.7 417.6,412.6 417.8,412.5 418.1,411.9 418.3,412.1 418.5,411.2 418.7,410.6 418.9,410.5 419.1,410.0 419.3,409.6 419.5,409.2 419.7,408.5 419.9,408.5 420.1,408.2 420.3,407.6 420.5,406.7 420.8,407.1 421.0,406.5 421.2,406.8 421.4,405.4 421.6,405.3 421.8,404.8 422.0,404.9 422.2,405.0 422.4,404.0 422.6,403.8 422.8,404.1 423.0,404.1 423.2,403.2 423.5,403.2 423.7,402.1 423.9,403.1 424.1,403.0 424.3,402.8 424.5,403.3 424.7,403.0 424.9,402.2 425.1,402.8 425.3,403.0 425.5,403.3 425.7,402.7 425.9,402.7 426.2,402.9 426.4,403.2 426.6,403.1 426.8,403.1 427.0,403.6 427.2,403.2 427.4,404.3 427.6,404.1 427.8,403.9 428.0,404.0 428.2,404.5 428.4,404.1 428.6,404.0 428.9,404.3 429.1,404.6 429.3,404.5 429.5,404.8 429.7,405.5 429.9,405.4 430.1,405.1 430.3,406.2 430.5,406.1 430.7,406.7 430.9,407.3 431.1,407.8 431.3,408.0 431.6,408.5 431.8,409.1 432.0,410.3 432.2,410.6 432.4,411.1 432.6,411.6 432.8,412.4 433.0,413.1 433.2,413.7 433.4,414.6 433.6,415.9 433.8,416.4 434.0,417.4 434.3,418.7 434.5,419.2 434.7,418.6 434.9,420.4 435.1,421.6 435.3,421.8 435.5,421.9 435.7,423.3 435.9,424.0 436.1,425.1 436.3,425.9 436.5,426.4 436.7,427.4 437.0,428.7 437.2,429.3 437.4,430.1 437.6,431.5 437.8,432.2 438.0,433.2 438.2,434.4 438.4,434.7 438.6,436.0 438.8,437.1 439.0,438.3 439.2,439.0 439.4,438.9 439.7,440.6 439.9,440.9 440.1,441.9 440.3,442.4 440.5,443.1 440.7,444.4 440.9,444.9 441.1,445.5 441.3,446.3 441.5,447.0 441.7,447.9 441.9,448.2 442.1,448.7 442.4,449.7 442.6,450.8 442.8,451.1 443.0,452.0 443.2,452.5 443.4,452.7 443.6,454.1 443.8,454.7 444.0,455.7 444.2,456.2 444.4,457.0 444.6,456.9 444.8,458.1 445.1,459.0 445.3,458.9 445.5,460.7 445.7,460.6 445.9,461.3 446.1,462.1 446.3,463.1 446.5,463.8 446.7,464.6 446.9,465.0 447.1,466.8 447.3,466.9 447.5,467.4 447.8,468.4 448.0,469.5 448.2,469.7 448.4,470.6 448.6,470.8 448.8,471.3 449.0,472.5 449.2,473.8 449.4,473.9 449.6,474.8 449.8,474.9 450.0,475.2 450.2,476.2 450.5,476.2 450.7,476.9 450.9,477.7 451.1,478.8 451.3,478.9 451.5,479.9 451.7,479.5 451.9,480.3 452.1,480.4 452.3,481.2 452.5,482.5 452.7,482.0 452.9,482.4 453.2,482.6 453.4,483.9 453.6,484.3 453.8,484.4 454.0,485.2 454.2,485.7 454.4,486.0 454.6,485.0 454.8,486.5 455.0,487.0 455.2,487.1 455.4,487.2 455.6,487.0 455.8,487.4 456.1,487.6 456.3,488.1 456.5,488.2 456.7,488.6 456.9,489.0 457.1,488.0 457.3,489.0 457.5,488.6 457.7,489.2 457.9,489.2 458.1,489.4 458.3,489.9 458.5,489.6 458.8,489.5 459.0,489.5 459.2,489.7 459.4,489.6 459.6,489.9 459.8,490.1 460.0,490.8 460.2,490.3 460.4,489.7 460.6,490.2 460.8,490.0 461.0,490.3 461.2,490.5 461.5,489.5 461.7,490.1 461.9,489.7 462.1,490.0 462.3,490.3 462.5,490.9 462.7,490.1 462.9,490.6 463.1,490.8 463.3,489.5 463.5,489.7 463.7,489.7 463.9,489.8 464.2,489.8 464.4,489.6 464.6,489.6 464.8,489.6 465.0,489.3 465.2,490.4 465.4,489.1 465.6,489.6 465.8,489.0 466.0,488.8 466.2,489.5 466.4,488.8 466.6,488.7 466.9,489.1 467.1,489.0 467.3,488.6 467.5,489.3 467.7,488.6 467.9,488.2 468.1,488.3 468.3,488.6 468.5,488.0 468.7,487.2 468.9,487.1 469.1,487.5 469.3,487.5 469.6,487.1 469.8,486.9 470.0,487.0 470.2,486.7 470.4,486.3 470.6,486.0 470.8,487.0 471.0,485.7 471.2,485.8 471.4,485.3 471.6,485.6 471.8,485.3 472.0,484.7 472.3,486.2 472.5,484.5 472.7,484.8 472.9,485.4 473.1,485.6 473.3,484.5 473.5,484.9 473.7,484.1 473.9,484.3 474.1,484.3 474.3,483.9 474.5,484.1 474.7,483.9 475.0,483.8 475.2,483.9 475.4,483.7 475.6,483.6 475.8,484.3 476.0,483.9 476.2,483.8 476.4,483.8 476.6,484.2 476.8,483.8 477.0,483.4 477.2,483.5 477.4,482.9 477.7,483.6 477.9,483.5 478.1,483.5 478.3,483.4 478.5,483.5 478.7,483.9 478.9,483.0 479.1,482.8 479.3,482.7 479.5,483.4 479.7,483.1 479.9,482.3 480.1,483.0 480.4,482.8 480.6,482.9 480.8,482.5 481.0,482.5 481.2,482.0 481.4,482.6 481.6,482.5 481.8,483.1 482.0,482.8 482.2,482.8 482.4,482.7 482.6,483.0 482.8,482.1 483.1,482.8 483.3,482.4 483.5,482.9 483.7,482.3 483.9,481.8 484.1,482.6 484.3,482.2 484.5,482.3 484.7,482.1 484.9,482.0 485.1,482.3 485.3,482.1 485.5,482.2 485.8,482.2 486.0,482.2 486.2,481.3 486.4,481.7 486.6,480.8 486.8,480.0 487.0,479.3 487.2,476.7 487.4,475.0 487.6,472.2 487.8,471.0 488.0,473.0 488.2,475.7 488.5,478.4 488.7,479.4 488.9,481.9 489.1,483.3 489.3,483.3 489.5,484.1 489.7,484.4 489.9,485.0 490.1,485.7 490.3,485.4 490.5,485.7 490.7,486.1 490.9,486.0 491.2,486.1 491.4,485.6 491.6,485.7 491.8,485.9 492.0,486.4 492.2,486.7 492.4,486.3 492.6,486.3 492.8,486.2 493.0,486.6 493.2,486.7 493.4,486.6 493.6,487.1 493.8,487.1 494.1,486.7 494.3,487.4 494.5,487.1 494.7,486.8 494.9,487.1 495.1,487.0 495.3,487.6 495.5,487.3 495.7,487.4 495.9,487.1 496.1,487.2 496.3,487.4 496.5,486.7 496.8,487.1 497.0,487.4 497.2,487.3 497.4,486.9 497.6,486.6 497.8,485.1 498.0,484.3 498.2,483.1 498.4,481.8 498.6,481.4 498.8,481.8 499.0,482.7 499.2,484.4 499.5,486.0 499.7,486.8 499.9,488.0 500.1,487.5 500.3,488.0 500.5,487.6 500.7,488.3 500.9,488.5 501.1,488.3 501.3,488.7 501.5,488.0 501.7,488.4 501.9,488.4 502.2,488.5 502.4,488.7 502.6,488.5 502.8,488.6 503.0,488.0 503.2,488.6 503.4,488.5 503.6,488.8 503.8,488.7 504.0,488.6 504.2,488.0 504.4,488.2 504.6,487.8 504.9,487.9 505.1,487.5 505.3,487.2 505.5,485.0 505.7,482.4 505.9,480.0 506.1,475.5 506.3,471.9 506.5,470.7 506.7,472.0 506.9,476.4 507.1,480.2 507.3,482.9 507.6,485.5 507.8,487.3 508.0,487.3 508.2,488.7 508.4,488.7 508.6,489.0 508.8,489.1 509.0,489.5 509.2,489.9 509.4,488.8 509.6,489.9 509.8,490.0 510.0,490.6 510.3,489.8 510.5,489.4 510.7,489.4 510.9,489.0 511.1,489.5 511.3,489.9 511.5,490.0 511.7,489.6 511.9,490.1 512.1,490.0 512.3,490.4 512.5,490.1 512.7,489.4 513.0,490.1 513.2,489.9 513.4,490.9 513.6,489.6 513.8,489.9 514.0,489.5 514.2,489.9 514.4,490.2 514.6,490.4 514.8,489.7 515.0,489.9 515.2,490.2 515.4,489.8 515.7,490.0 515.9,489.5 516.1,489.8 516.3,490.0 516.5,489.6 516.7,489.7 516.9,489.0 517.1,489.6 517.3,489.9 517.5,489.4 517.7,489.4 517.9,489.2 518.1,489.1 518.4,489.5 518.6,489.1 518.8,489.1 519.0,489.4 519.2,489.1 519.4,488.8 519.6,489.4 519.8,489.2 520.0,488.9 520.2,488.7 520.4,488.5 520.6,489.1 520.8,488.4 521.1,488.3 521.3,487.9 521.5,488.6 521.7,488.7 521.9,488.8 522.1,488.1 522.3,487.8 522.5,488.4 522.7,488.0 522.9,487.8 523.1,487.7 523.3,488.1 523.5,487.7 523.8,487.9 524.0,488.1 524.2,487.6 524.4,487.5 524.6,487.9 524.8,487.4 525.0,486.8 525.2,487.9 525.4,487.1 525.6,487.0 525.8,487.2 526.0,487.1 526.2,487.2 526.5,486.6 526.7,487.3 526.9,487.0 527.1,487.6 527.3,486.7 527.5,486.7 527.7,487.3 527.9,487.0 528.1,486.5 528.3,486.8 528.5,487.0 528.7,487.4 528.9,486.4 529.2,485.8 529.4,486.6 529.6,486.2 529.8,486.2 530.0,486.4 530.2,486.3 530.4,486.3 530.6,486.6 530.8,485.4 531.0,485.3 531.2,486.2 531.4,485.6 531.6,486.6 531.8,486.4 532.1,485.9 532.3,486.7 532.5,486.8 532.7,486.2 532.9,487.1 533.1,485.8 533.3,486.2 533.5,486.4 533.7,486.3 533.9,486.9 534.1,487.0 534.3,486.4 534.5,486.4 534.8,486.7 535.0,486.9 535.2,487.1 535.4,486.5 535.6,487.5 535.8,487.4 536.0,487.3 536.2,487.7 536.4,487.7 536.6,487.7 536.8,487.0 537.0,486.8 537.2,487.4 537.5,488.2 537.7,487.9 537.9,487.8 538.1,487.9 538.3,488.0 538.5,487.7 538.7,488.7 538.9,488.2 539.1,488.0 539.3,487.9 539.5,488.1 539.7,488.3 539.9,488.4 540.2,488.6 540.4,488.4 540.6,488.6 540.8,488.8 541.0,488.2 541.2,488.2 541.4,488.8 541.6,488.5 541.8,488.3 542.0,488.7 542.2,488.7 542.4,488.6 542.6,489.4 542.9,489.3 543.1,488.6 543.3,488.7 543.5,488.4 543.7,489.0 543.9,488.5 544.1,488.5 544.3,488.2 544.5,489.2 544.7,489.0 544.9,488.8 545.1,488.8 545.3,489.3 545.6,489.1 545.8,489.4 546.0,488.2 546.2,489.0 546.4,489.0 546.6,489.2 546.8,489.0 547.0,488.7 547.2,489.1 547.4,489.0 547.6,488.3 547.8,488.7 548.0,488.9 548.3,489.2 548.5,489.0 548.7,489.3 548.9,488.9 549.1,489.3 549.3,489.3 549.5,489.2 549.7,489.4 549.9,489.0 550.1,488.2 550.3,489.2 550.5,489.6 550.7,488.7 551.0,489.0 551.2,488.2 551.4,488.7 551.6,488.4 551.8,488.9 552.0,488.9 552.2,488.1 552.4,487.4 552.6,487.5 552.8,487.2 553.0,486.5 553.2,486.3 553.4,486.4 553.7,486.7 553.9,486.4 554.1,487.7 554.3,488.3 554.5,488.8 554.7,488.4 554.9,489.4 555.1,488.5 555.3,489.1 555.5,489.6 555.7,489.1 555.9,489.2 556.1,488.8 556.4,489.8 556.6,489.2 556.8,489.3 557.0,489.0 557.2,489.7 557.4,489.6 557.6,488.6 557.8,489.1 558.0,489.9 558.2,489.2 558.4,489.6 558.6,489.6 558.8,489.8 559.1,489.0 559.3,489.6 559.5,489.3 559.7,489.4 559.9,489.9 560.1,489.7 560.3,489.1 560.5,489.9 560.7,489.3 560.9,489.4 561.1,489.2 561.3,489.2 561.5,489.1 561.8,489.4 562.0,489.3 562.2,489.7 562.4,489.6 562.6,489.1 562.8,489.6 563.0,489.1 563.2,489.1 563.4,489.7 563.6,489.2 563.8,489.7 564.0,489.3 564.2,489.7 564.5,489.3 564.7,489.4 564.9,489.8 565.1,488.7 565.3,489.1 565.5,490.0 565.7,489.3 565.9,489.6 566.1,488.7 566.3,489.4 566.5,489.3 566.7,489.5 566.9,489.2 567.2,489.6 567.4,489.7 567.6,489.6 567.8,489.6 568.0,489.2 568.2,489.4 568.4,489.6 568.6,489.6 568.8,489.7 569.0,489.4 569.2,490.1 569.4,489.5 569.6,489.0 569.8,489.5 570.1,489.6 570.3,489.4 570.5,489.7 570.7,489.7 570.9,489.2 571.1,489.6 571.3,488.7 571.5,489.2 571.7,489.5 571.9,489.6 572.1,489.5 572.3,490.2 572.5,489.3 572.8,489.1 573.0,489.2 573.2,489.6 573.4,489.2 573.6,489.2 573.8,489.5 574.0,489.3 574.2,489.1 574.4,489.3 574.6,489.6 574.8,489.4 575.0,489.4 575.2,490.0 575.5,489.4 575.7,489.5 575.9,490.2 576.1,490.0 576.3,488.8 576.5,489.4 576.7,489.0 576.9,489.5 577.1,488.9 577.3,489.2 577.5,489.7 577.7,489.3 577.9,488.9 578.2,488.6 578.4,489.2 578.6,489.6 578.8,489.7 579.0,489.2 579.2,489.0 579.4,489.4 579.6,489.4 579.8,489.1 580.0,489.2 580.2,489.3 580.4,489.9 580.6,489.5 580.9,488.7 581.1,489.4 581.3,488.6 581.5,489.3 581.7,489.5 581.9,489.3 582.1,489.2 582.3,489.6 582.5,489.3 582.7,489.5 582.9,488.9 583.1,489.5 583.3,489.3 583.6,489.9 583.8,489.8 584.0,489.4 584.2,489.7 584.4,489.5 584.6,489.3 584.8,489.2 585.0,489.8 585.2,489.4 585.4,489.1 585.6,489.6 585.8,489.8 586.0,489.6 586.3,488.8 586.5,489.3 586.7,488.8 586.9,489.4 587.1,488.9 587.3,489.8 587.5,489.3 587.7,489.2 587.9,488.6 588.1,489.0 588.3,488.7 588.5,489.2 588.7,489.1 589.0,488.5 589.2,488.3 589.4,488.2 589.6,487.9 589.8,488.0 590.0,486.5 590.2,486.5 590.4,485.2 590.6,484.5 590.8,484.6 591.0,484.3 591.2,484.5 591.4,484.7 591.7,485.3 591.9,486.6 592.1,487.0 592.3,488.3 592.5,488.5 592.7,488.9 592.9,488.8 593.1,489.3 593.3,489.0 593.5,488.9 593.7,489.3 593.9,489.5 594.1,489.3 594.4,489.6 594.6,489.6 594.8,489.0 595.0,489.2 595.2,489.8 595.4,489.4 595.6,489.1 595.8,489.0 596.0,489.1 596.2,489.0 596.4,489.3 596.6,489.3 596.8,489.4 597.1,489.0 597.3,489.1 597.5,488.7 597.7,489.0 597.9,489.6 598.1,489.9 598.3,489.9 598.5,489.7 598.7,489.2 598.9,489.9 599.1,490.1 599.3,489.4 599.5,489.1 599.8,489.1 600.0,488.8 600.2,489.4 600.4,489.6 600.6,489.5 600.8,489.9 601.0,489.6 601.2,489.0 601.4,488.7 601.6,489.0 601.8,489.3 602.0,489.5 602.2,489.3 602.5,490.1 602.7,489.2 602.9,489.1 603.1,489.5 603.3,489.4 603.5,490.0 603.7,489.1 603.9,489.1 604.1,490.4 604.3,489.6 604.5,489.3 604.7,488.8 604.9,489.7 605.2,489.4 605.4,488.9 605.6,489.2 605.8,489.5 606.0,489.6 606.2,489.4 606.4,489.7 606.6,489.1 606.8,489.7 607.0,489.2 607.2,489.1 607.4,489.0 607.6,489.4 607.8,489.4 608.1,489.3 608.3,489.3 608.5,489.0 608.7,489.4 608.9,488.7 609.1,488.4 609.3,489.6 609.5,489.2 609.7,489.8 609.9,489.1 610.1,489.2 610.3,489.4 610.5,489.7 610.8,489.4 611.0,488.7 611.2,488.8 611.4,489.2 611.6,489.6 611.8,489.4 612.0,489.6 612.2,489.8 612.4,489.7 612.6,489.1 612.8,489.2 613.0,489.3 613.2,489.7 613.5,489.8 613.7,489.0 613.9,489.4 614.1,488.9 614.3,489.5 614.5,488.9 614.7,489.1 614.9,489.3 615.1,489.3 615.3,488.4 615.5,488.7 615.7,488.9 615.9,488.6 616.2,488.8 616.4,487.3 616.6,486.8 616.8,486.8 617.0,485.8 617.2,486.3 617.4,484.8 617.6,485.2 617.8,485.9 618.0,486.4 618.2,487.2 618.4,488.2 618.6,488.6 618.9,488.7 619.1,488.6 619.3,489.0 619.5,489.4 619.7,489.1 619.9,489.7 620.1,488.6 620.3,489.2 620.5,489.7 620.7,489.3 620.9,489.0 621.1,489.2 621.3,488.7 621.6,489.9 621.8,488.9 622.0,489.5 622.2,489.2 622.4,488.9 622.6,489.9 622.8,490.0 623.0,489.6 623.2,490.1 623.4,490.2 623.6,489.5 623.8,489.1 624.0,489.7 624.3,489.4 624.5,488.3 624.7,489.4 624.9,489.6 625.1,489.6 625.3,489.4 625.5,489.7 625.7,489.3 625.9,489.5 626.1,489.2 626.3,489.5 626.5,489.6 626.7,489.9 627.0,490.1 627.2,489.7 627.4,489.7 627.6,489.5 627.8,489.6 628.0,489.7 628.2,488.8 628.4,489.5 628.6,489.2 628.8,490.0 629.0,489.3 629.2,489.2 629.4,489.5 629.7,489.9 629.9,489.2 630.1,489.9 630.3,490.2 630.5,490.2 630.7,489.6 630.9,489.8 631.1,489.4 631.3,489.4 631.5,489.2 631.7,489.5 631.9,489.6 632.1,489.7 632.4,489.9 632.6,489.9 632.8,489.9 633.0,489.6 633.2,490.0 633.4,489.7 633.6,489.3 633.8,490.5 634.0,490.0 634.2,490.0 634.4,489.7 634.6,490.2 634.8,489.9 635.1,488.8 635.3,490.1 635.5,489.6 635.7,489.5 635.9,489.6 636.1,489.9 636.3,489.1 636.5,490.0 636.7,489.5 636.9,489.0 637.1,488.8 637.3,487.8 637.5,487.8 637.8,486.6 638.0,486.8 638.2,486.1 638.4,486.7 638.6,487.3 638.8,487.8 639.0,487.9 639.2,488.8 639.4,489.0 639.6,489.5 639.8,490.0 640.0,489.2 640.2,489.3 640.5,489.9 640.7,489.4 640.9,489.6 641.1,490.1 641.3,489.7 641.5,488.9 641.7,488.6 641.9,488.6 642.1,487.5 642.3,488.1 642.5,488.4 642.7,488.8 642.9,488.0 643.1,488.9 643.4,489.2 643.6,489.6 643.8,489.7 644.0,489.7 644.2,489.5 644.4,489.6 644.6,489.7 644.8,489.5 645.0,490.0 645.2,490.2 645.4,489.9 645.6,490.6 645.8,489.6 646.1,489.7 646.3,489.7 646.5,490.3 646.7,490.1"/>
<text transform="translate(346.6,400.1) rotate(-90)" text-anchor="middle" font-size="10.6">Intensity (a.u.)</text>
<text x="507.6" y="530.1" text-anchor="middle" font-size="10.3">2 Theta (degrees)</text>
<line x1="477.5" y1="313.6" x2="506.5" y2="313.6" stroke="#a4a4a4" stroke-width="1.6"/>
<text x="510.3" y="317.8" font-size="13.2">As Prepared (ESZ-1)</text>
<line x1="477.5" y1="329.5" x2="506.5" y2="329.5" stroke="#c05050" stroke-width="1.3"/>
<text x="510.3" y="334.3" font-size="13.2">After Exposure (ESZ-1)</text>
<text x="495.7" y="563.6" text-anchor="middle" class="cap" font-size="14.5">(d)</text>
<line x1="46.5" y1="591.5" x2="46.5" y2="790.5" stroke="#111" stroke-width="1.3"/>
<line x1="44.5" y1="789" x2="313" y2="789" stroke="#666" stroke-width="1.8"/>
<line x1="42.5" y1="774.5" x2="46.5" y2="774.5" stroke="#111" stroke-width="1"/>
<text transform="translate(39.4,777.9) scale(1,1.12)" text-anchor="end" font-size="8">1000</text>
<line x1="42.5" y1="746.5" x2="46.5" y2="746.5" stroke="#111" stroke-width="1"/>
<text transform="translate(39.4,749.7) scale(1,1.12)" text-anchor="end" font-size="8">2000</text>
<line x1="42.5" y1="718.5" x2="46.5" y2="718.5" stroke="#111" stroke-width="1"/>
<text transform="translate(39.4,721.5) scale(1,1.12)" text-anchor="end" font-size="8">3000</text>
<line x1="42.5" y1="690.5" x2="46.5" y2="690.5" stroke="#111" stroke-width="1"/>
<text transform="translate(39.4,693.3) scale(1,1.12)" text-anchor="end" font-size="8">4000</text>
<line x1="42.5" y1="662.5" x2="46.5" y2="662.5" stroke="#111" stroke-width="1"/>
<text transform="translate(39.4,665.1) scale(1,1.12)" text-anchor="end" font-size="8">5000</text>
<line x1="42.5" y1="633.5" x2="46.5" y2="633.5" stroke="#111" stroke-width="1"/>
<text transform="translate(39.4,636.8) scale(1,1.12)" text-anchor="end" font-size="8">6000</text>
<line x1="42.5" y1="605.5" x2="46.5" y2="605.5" stroke="#111" stroke-width="1"/>
<text transform="translate(39.4,608.6) scale(1,1.12)" text-anchor="end" font-size="8">7000</text>
<line x1="44.5" y1="789.5" x2="46.5" y2="789.5" stroke="#111" stroke-width="1"/>
<line x1="44.5" y1="760.5" x2="46.5" y2="760.5" stroke="#111" stroke-width="1"/>
<line x1="44.5" y1="732.5" x2="46.5" y2="732.5" stroke="#111" stroke-width="1"/>
<line x1="44.5" y1="704.5" x2="46.5" y2="704.5" stroke="#111" stroke-width="1"/>
<line x1="44.5" y1="676.5" x2="46.5" y2="676.5" stroke="#111" stroke-width="1"/>
<line x1="44.5" y1="647.5" x2="46.5" y2="647.5" stroke="#111" stroke-width="1"/>
<line x1="44.5" y1="619.5" x2="46.5" y2="619.5" stroke="#111" stroke-width="1"/>
<line x1="44.5" y1="591.5" x2="46.5" y2="591.5" stroke="#111" stroke-width="1"/>
<line x1="66.5" y1="789" x2="66.5" y2="793" stroke="#111" stroke-width="1"/>
<text transform="translate(66.7,802.2) scale(1,1.12)" text-anchor="middle" font-size="8">10</text>
<line x1="107.5" y1="789" x2="107.5" y2="793" stroke="#111" stroke-width="1"/>
<text transform="translate(107.7,802.2) scale(1,1.12)" text-anchor="middle" font-size="8">20</text>
<line x1="148.5" y1="789" x2="148.5" y2="793" stroke="#111" stroke-width="1"/>
<text transform="translate(148.6,802.2) scale(1,1.12)" text-anchor="middle" font-size="8">30</text>
<line x1="189.5" y1="789" x2="189.5" y2="793" stroke="#111" stroke-width="1"/>
<text transform="translate(189.6,802.2) scale(1,1.12)" text-anchor="middle" font-size="8">40</text>
<line x1="230.5" y1="789" x2="230.5" y2="793" stroke="#111" stroke-width="1"/>
<text transform="translate(230.6,802.2) scale(1,1.12)" text-anchor="middle" font-size="8">50</text>
<line x1="271.5" y1="789" x2="271.5" y2="793" stroke="#111" stroke-width="1"/>
<text transform="translate(271.6,802.2) scale(1,1.12)" text-anchor="middle" font-size="8">60</text>
<line x1="312.5" y1="789" x2="312.5" y2="793" stroke="#111" stroke-width="1"/>
<text transform="translate(312.5,802.2) scale(1,1.12)" text-anchor="middle" font-size="8">70</text>
<line x1="46.5" y1="789" x2="46.5" y2="791" stroke="#111" stroke-width="1"/>
<line x1="87.5" y1="789" x2="87.5" y2="791" stroke="#111" stroke-width="1"/>
<line x1="128.5" y1="789" x2="128.5" y2="791" stroke="#111" stroke-width="1"/>
<line x1="169.5" y1="789" x2="169.5" y2="791" stroke="#111" stroke-width="1"/>
<line x1="210.5" y1="789" x2="210.5" y2="791" stroke="#111" stroke-width="1"/>
<line x1="251.5" y1="789" x2="251.5" y2="791" stroke="#111" stroke-width="1"/>
<line x1="292.5" y1="789" x2="292.5" y2="791" stroke="#111" stroke-width="1"/>
<polyline fill="none" stroke="#e03535" stroke-width="0.8" stroke-linejoin="round" points="66.7,667.8 66.9,667.1 67.1,669.0 67.3,667.0 67.5,668.0 67.7,668.4 67.9,668.4 68.1,668.5 68.3,668.0 68.5,667.4 68.7,667.5 69.0,667.4 69.2,668.7 69.4,668.6 69.6,666.8 69.8,667.1 70.0,666.4 70.2,666.9 70.4,668.1 70.6,666.8 70.8,667.1 71.0,667.3 71.2,667.8 71.4,667.3 71.6,667.4 71.8,666.7 72.0,667.1 72.2,666.2 72.4,667.5 72.6,666.7 72.8,666.7 73.1,667.4 73.3,667.5 73.5,666.2 73.7,666.4 73.9,666.8 74.1,666.4 74.3,666.9 74.5,666.3 74.7,666.7 74.9,666.1 75.1,665.6 75.3,666.2 75.5,665.5 75.7,666.4 75.9,665.9 76.1,666.4 76.3,665.6 76.5,665.3 76.7,665.4 76.9,665.3 77.1,664.2 77.4,664.1 77.6,665.4 77.8,663.9 78.0,665.4 78.2,664.7 78.4,664.3 78.6,663.9 78.8,664.4 79.0,664.1 79.2,663.4 79.4,663.7 79.6,663.4 79.8,662.5 80.0,662.1 80.2,662.4 80.4,662.1 80.6,661.9 80.8,661.8 81.0,661.5 81.2,661.5 81.4,660.1 81.7,660.0 81.9,659.5 82.1,658.8 82.3,658.0 82.5,656.9 82.7,657.2 82.9,656.6 83.1,655.5 83.3,655.4 83.5,653.5 83.7,653.0 83.9,652.4 84.1,652.1 84.3,650.9 84.5,650.0 84.7,649.6 84.9,649.2 85.1,649.2 85.3,646.9 85.5,646.8 85.8,646.2 86.0,644.3 86.2,643.7 86.4,643.8 86.6,642.1 86.8,641.3 87.0,639.7 87.2,640.4 87.4,638.6 87.6,637.5 87.8,635.6 88.0,636.1 88.2,636.1 88.4,634.1 88.6,632.1 88.8,630.7 89.0,629.0 89.2,628.6 89.4,628.2 89.6,626.1 89.8,625.5 90.1,624.5 90.3,623.2 90.5,621.4 90.7,621.6 90.9,620.6 91.1,619.1 91.3,618.2 91.5,617.7 91.7,616.8 91.9,615.3 92.1,614.0 92.3,613.7 92.5,613.1 92.7,612.1 92.9,613.3 93.1,612.4 93.3,611.3 93.5,611.0 93.7,610.3 93.9,609.2 94.1,609.4 94.4,608.4 94.6,608.8 94.8,607.7 95.0,606.0 95.2,606.7 95.4,605.8 95.6,605.2 95.8,605.6 96.0,604.7 96.2,604.7 96.4,604.2 96.6,604.7 96.8,604.9 97.0,604.5 97.2,604.0 97.4,603.2 97.6,603.5 97.8,603.4 98.0,603.1 98.2,602.2 98.5,603.0 98.7,601.7 98.9,603.1 99.1,602.6 99.3,601.7 99.5,601.8 99.7,602.5 99.9,602.1 100.1,602.4 100.3,601.5 100.5,601.7 100.7,602.4 100.9,601.9 101.1,602.4 101.3,602.3 101.5,602.4 101.7,602.9 101.9,602.5 102.1,602.7 102.3,602.9 102.5,602.7 102.8,603.8 103.0,604.7 103.2,604.4 103.4,604.2 103.6,604.6 103.8,604.5 104.0,604.7 104.2,605.5 104.4,605.7 104.6,606.5 104.8,605.6 105.0,606.6 105.2,607.4 105.4,607.7 105.6,607.6 105.8,606.8 106.0,607.6 106.2,609.4 106.4,608.9 106.6,609.0 106.9,609.2 107.1,609.8 107.3,610.8 107.5,610.6 107.7,611.6 107.9,613.0 108.1,612.5 108.3,613.0 108.5,612.5 108.7,612.9 108.9,614.5 109.1,614.3 109.3,614.8 109.5,616.1 109.7,616.9 109.9,616.3 110.1,616.6 110.3,617.5 110.5,619.2 110.7,618.2 110.9,619.0 111.2,619.7 111.4,619.9 111.6,620.9 111.8,620.5 112.0,621.3 112.2,622.2 112.4,622.2 112.6,622.9 112.8,624.3 113.0,624.1 113.2,624.8 113.4,626.1 113.6,626.1 113.8,626.0 114.0,627.2 114.2,626.6 114.4,627.0 114.6,628.7 114.8,628.8 115.0,628.5 115.2,630.4 115.5,631.3 115.7,631.6 115.9,632.7 116.1,633.3 116.3,632.9 116.5,633.9 116.7,634.0 116.9,634.5 117.1,635.7 117.3,635.9 117.5,636.5 117.7,637.3 117.9,637.9 118.1,637.8 118.3,638.6 118.5,638.9 118.7,639.1 118.9,639.6 119.1,641.4 119.3,641.8 119.6,642.0 119.8,642.4 120.0,642.5 120.2,644.1 120.4,644.4 120.6,644.5 120.8,644.5 121.0,645.0 121.2,646.9 121.4,647.0 121.6,647.9 121.8,647.5 122.0,648.2 122.2,649.2 122.4,649.8 122.6,649.8 122.8,649.9 123.0,651.3 123.2,651.5 123.4,651.7 123.6,652.2 123.9,652.5 124.1,653.7 124.3,653.9 124.5,655.2 124.7,654.4 124.9,654.3 125.1,656.5 125.3,656.1 125.5,655.7 125.7,656.7 125.9,658.1 126.1,656.7 126.3,658.6 126.5,657.4 126.7,658.9 126.9,659.3 127.1,659.2 127.3,659.6 127.5,659.6 127.7,659.9 128.0,660.6 128.2,660.1 128.4,660.7 128.6,661.1 128.8,661.4 129.0,661.8 129.2,662.0 129.4,661.8 129.6,662.1 129.8,662.5 130.0,662.1 130.2,663.1 130.4,662.8 130.6,662.8 130.8,664.1 131.0,663.8 131.2,662.8 131.4,664.5 131.6,663.4 131.8,664.8 132.0,664.2 132.3,665.1 132.5,665.0 132.7,665.0 132.9,665.2 133.1,664.4 133.3,664.6 133.5,664.7 133.7,665.1 133.9,664.4 134.1,664.8 134.3,665.2 134.5,666.1 134.7,665.1 134.9,665.2 135.1,665.6 135.3,665.2 135.5,665.3 135.7,665.9 135.9,665.5 136.1,665.6 136.3,665.7 136.6,666.1 136.8,666.2 137.0,665.9 137.2,665.2 137.4,664.7 137.6,666.3 137.8,666.7 138.0,666.3 138.2,666.6 138.4,666.4 138.6,665.9 138.8,666.7 139.0,665.9 139.2,665.8 139.4,665.4 139.6,665.2 139.8,665.7 140.0,665.0 140.2,666.5 140.4,666.1 140.7,666.2 140.9,666.0 141.1,665.7 141.3,666.4 141.5,665.3 141.7,665.5 141.9,666.1 142.1,666.0 142.3,666.8 142.5,667.7 142.7,666.3 142.9,666.1 143.1,666.1 143.3,666.9 143.5,666.5 143.7,665.3 143.9,665.8 144.1,665.9 144.3,666.4 144.5,665.8 144.7,665.5 145.0,665.8 145.2,666.5 145.4,666.1 145.6,666.7 145.8,666.4 146.0,665.9 146.2,666.5 146.4,666.4 146.6,665.4 146.8,666.3 147.0,665.8 147.2,666.4 147.4,666.9 147.6,666.2 147.8,666.4 148.0,667.3 148.2,666.9 148.4,666.4 148.6,665.4 148.8,666.5 149.0,666.2 149.3,665.8 149.5,666.0 149.7,666.4 149.9,665.2 150.1,665.4 150.3,667.5 150.5,665.6 150.7,665.8 150.9,665.6 151.1,666.1 151.3,665.7 151.5,665.0 151.7,665.1 151.9,665.1 152.1,665.5 152.3,665.6 152.5,665.5 152.7,666.7 152.9,664.7 153.1,665.9 153.4,665.8 153.6,665.9 153.8,665.6 154.0,667.0 154.2,665.7 154.4,666.4 154.6,666.2 154.8,666.6 155.0,666.4 155.2,664.9 155.4,665.3 155.6,664.8 155.8,664.3 156.0,664.0 156.2,662.2 156.4,660.2 156.6,656.3 156.8,653.1 157.0,648.0 157.2,645.4 157.4,647.1 157.7,651.2 157.9,655.8 158.1,660.1 158.3,661.3 158.5,663.0 158.7,664.0 158.9,665.4 159.1,664.8 159.3,664.4 159.5,665.0 159.7,665.7 159.9,665.3 160.1,665.7 160.3,665.7 160.5,665.4 160.7,665.7 160.9,665.9 161.1,665.7 161.3,666.4 161.5,666.5 161.8,665.7 162.0,666.3 162.2,665.7 162.4,667.1 162.6,665.4 162.8,666.1 163.0,665.1 163.2,667.4 163.4,667.0 163.6,665.2 163.8,665.9 164.0,665.8 164.2,665.9 164.4,665.9 164.6,665.7 164.8,666.5 165.0,666.0 165.2,665.1 165.4,665.7 165.6,666.1 165.8,665.7 166.1,665.0 166.3,665.6 166.5,665.4 166.7,664.8 166.9,664.2 167.1,663.3 167.3,663.1 167.5,661.1 167.7,658.3 167.9,656.9 168.1,652.8 168.3,651.3 168.5,652.9 168.7,656.3 168.9,658.5 169.1,660.6 169.3,663.0 169.5,664.3 169.7,664.8 169.9,664.1 170.1,664.5 170.4,665.3 170.6,666.1 170.8,666.2 171.0,665.8 171.2,665.8 171.4,665.5 171.6,666.3 171.8,665.7 172.0,665.3 172.2,666.5 172.4,664.2 172.6,665.1 172.8,665.0 173.0,665.9 173.2,665.5 173.4,664.1 173.6,663.9 173.8,665.2 174.0,662.4 174.2,661.3 174.5,659.1 174.7,656.4 174.9,650.4 175.1,644.3 175.3,637.3 175.5,633.7 175.7,637.2 175.9,643.4 176.1,650.7 176.3,656.4 176.5,659.5 176.7,661.2 176.9,662.3 177.1,664.0 177.3,664.3 177.5,665.0 177.7,666.0 177.9,665.2 178.1,665.2 178.3,665.8 178.5,665.8 178.8,666.8 179.0,665.8 179.2,665.1 179.4,666.0 179.6,665.7 179.8,665.8 180.0,666.5 180.2,666.0 180.4,666.6 180.6,664.5 180.8,666.1 181.0,666.8 181.2,667.1 181.4,665.4 181.6,665.9 181.8,666.1 182.0,667.1 182.2,666.6 182.4,667.0 182.6,665.7 182.8,666.6 183.1,665.3 183.3,666.1 183.5,666.5 183.7,665.6 183.9,667.6 184.1,666.9 184.3,666.6 184.5,665.8 184.7,665.8 184.9,666.2 185.1,667.4 185.3,666.7 185.5,667.0 185.7,665.7 185.9,666.7 186.1,666.1 186.3,665.4 186.5,666.5 186.7,666.1 186.9,666.7 187.2,666.4 187.4,666.4 187.6,666.5 187.8,666.4 188.0,666.7 188.2,665.4 188.4,666.8 188.6,666.3 188.8,666.6 189.0,667.8 189.2,665.9 189.4,666.4 189.6,667.3 189.8,666.9 190.0,667.4 190.2,666.3 190.4,665.6 190.6,665.8 190.8,667.2 191.0,667.5 191.2,666.2 191.5,665.6 191.7,666.5 191.9,665.9 192.1,667.3 192.3,666.6 192.5,666.3 192.7,666.8 192.9,666.7 193.1,666.2 193.3,666.9 193.5,667.1 193.7,666.1 193.9,666.4 194.1,667.1 194.3,666.3 194.5,666.9 194.7,666.2 194.9,666.6 195.1,666.7 195.3,667.0 195.6,666.5 195.8,666.6 196.0,665.5 196.2,666.6 196.4,667.3 196.6,665.4 196.8,667.7 197.0,665.6 197.2,667.1 197.4,665.8 197.6,666.7 197.8,666.3 198.0,666.6 198.2,666.7 198.4,666.3 198.6,667.0 198.8,666.3 199.0,667.2 199.2,667.0 199.4,666.9 199.6,666.7 199.9,665.9 200.1,667.1 200.3,667.1 200.5,667.2 200.7,666.8 200.9,666.3 201.1,667.0 201.3,666.8 201.5,667.0 201.7,666.6 201.9,667.8 202.1,666.3 202.3,666.1 202.5,667.1 202.7,666.7 202.9,667.1 203.1,666.1 203.3,666.3 203.5,665.0 203.7,666.8 203.9,667.1 204.2,666.9 204.4,667.4 204.6,666.5 204.8,666.5 205.0,666.1 205.2,666.4 205.4,666.9 205.6,665.9 205.8,666.3 206.0,666.2 206.2,667.3 206.4,667.1 206.6,667.0 206.8,666.9 207.0,667.9 207.2,666.0 207.4,666.8 207.6,666.2 207.8,666.2 208.0,665.8 208.3,666.3 208.5,666.4 208.7,667.1 208.9,666.6 209.1,665.7 209.3,667.6 209.5,667.1 209.7,666.5 209.9,665.7 210.1,667.3 210.3,666.9 210.5,666.6 210.7,664.9 210.9,667.1 211.1,666.7 211.3,666.2 211.5,667.0 211.7,666.4 211.9,666.4 212.1,666.8 212.3,666.4 212.6,665.7 212.8,666.6 213.0,666.9 213.2,667.1 213.4,666.5 213.6,666.1 213.8,666.6 214.0,666.5 214.2,665.1 214.4,667.1 214.6,667.2 214.8,666.5 215.0,666.8 215.2,666.3 215.4,665.9 215.6,666.4 215.8,666.7 216.0,666.3 216.2,666.3 216.4,666.7 216.7,666.9 216.9,666.2 217.1,666.7 217.3,667.2 217.5,666.2 217.7,666.9 217.9,666.9 218.1,666.2 218.3,667.0 218.5,666.6 218.7,667.0 218.9,667.3 219.1,666.3 219.3,665.5 219.5,666.8 219.7,665.6 219.9,665.5 220.1,665.1 220.3,666.2 220.5,665.6 220.7,663.7 221.0,663.9 221.2,663.0 221.4,661.7 221.6,661.0 221.8,661.4 222.0,661.5 222.2,661.8 222.4,662.9 222.6,664.3 222.8,663.9 223.0,664.7 223.2,665.8 223.4,666.2 223.6,665.6 223.8,667.6 224.0,666.3 224.2,666.7 224.4,666.8 224.6,666.0 224.8,666.3 225.0,664.8 225.3,666.7 225.5,666.4 225.7,667.4 225.9,666.0 226.1,667.0 226.3,666.5 226.5,665.9 226.7,666.0 226.9,666.4 227.1,666.0 227.3,666.9 227.5,667.2 227.7,667.5 227.9,666.4 228.1,665.6 228.3,666.9 228.5,666.7 228.7,666.9 228.9,666.4 229.1,667.7 229.4,666.2 229.6,666.1 229.8,667.1 230.0,667.3 230.2,667.2 230.4,666.4 230.6,665.9 230.8,667.3 231.0,667.6 231.2,666.7 231.4,666.6 231.6,666.4 231.8,667.2 232.0,666.4 232.2,666.2 232.4,667.7 232.6,666.9 232.8,666.4 233.0,666.4 233.2,667.1 233.4,667.9 233.7,667.2 233.9,667.6 234.1,667.1 234.3,666.2 234.5,667.2 234.7,666.8 234.9,667.5 235.1,666.3 235.3,667.2 235.5,667.4 235.7,665.8 235.9,666.6 236.1,666.4 236.3,668.0 236.5,666.0 236.7,665.9 236.9,666.9 237.1,667.0 237.3,667.2 237.5,666.2 237.7,667.7 238.0,666.7 238.2,665.7 238.4,666.8 238.6,665.7 238.8,666.8 239.0,667.0 239.2,666.3 239.4,666.9 239.6,666.8 239.8,667.1 240.0,667.6 240.2,667.0 240.4,666.5 240.6,666.3 240.8,666.9 241.0,666.7 241.2,667.4 241.4,667.0 241.6,667.0 241.8,667.0 242.1,666.9 242.3,666.7 242.5,666.2 242.7,666.5 242.9,666.6 243.1,667.6 243.3,667.4 243.5,666.9 243.7,666.8 243.9,666.5 244.1,667.9 244.3,666.8 244.5,666.8 244.7,667.1 244.9,667.4 245.1,666.8 245.3,667.0 245.5,666.6 245.7,668.0 245.9,667.4 246.1,666.1 246.4,666.8 246.6,667.4 246.8,667.1 247.0,667.6 247.2,666.1 247.4,666.1 247.6,666.4 247.8,666.2 248.0,666.7 248.2,666.2 248.4,666.6 248.6,666.1 248.8,666.9 249.0,667.0 249.2,667.2 249.4,667.2 249.6,667.8 249.8,666.2 250.0,666.1 250.2,666.5 250.5,666.4 250.7,666.8 250.9,666.6 251.1,667.7 251.3,667.0 251.5,667.9 251.7,667.3 251.9,667.1 252.1,667.1 252.3,667.5 252.5,666.2 252.7,666.4 252.9,667.2 253.1,667.6 253.3,667.2 253.5,666.4 253.7,668.0 253.9,666.4 254.1,667.0 254.3,667.1 254.5,666.3 254.8,666.8 255.0,667.0 255.2,666.1 255.4,667.7 255.6,665.9 255.8,667.2 256.0,667.2 256.2,665.8 256.4,664.8 256.6,665.9 256.8,666.9 257.0,667.5 257.2,665.9 257.4,665.7 257.6,665.6 257.8,664.7 258.0,664.2 258.2,662.3 258.4,661.8 258.6,661.0 258.8,661.8 259.1,660.7 259.3,662.5 259.5,662.4 259.7,663.8 259.9,665.8 260.1,665.5 260.3,666.4 260.5,665.8 260.7,666.1 260.9,665.9 261.1,667.0 261.3,666.4 261.5,667.5 261.7,666.6 261.9,666.9 262.1,666.7 262.3,666.9 262.5,666.3 262.7,667.1 262.9,667.0 263.2,666.1 263.4,667.0 263.6,667.2 263.8,667.5 264.0,667.0 264.2,667.0 264.4,666.6 264.6,667.1 264.8,666.6 265.0,667.1 265.2,666.1 265.4,667.0 265.6,666.6 265.8,666.8 266.0,667.8 266.2,666.4 266.4,667.3 266.6,666.5 266.8,668.2 267.0,668.1 267.2,668.2 267.5,668.0 267.7,667.3 267.9,667.1 268.1,667.6 268.3,667.2 268.5,667.4 268.7,666.6 268.9,666.7 269.1,666.9 269.3,666.7 269.5,666.1 269.7,666.7 269.9,667.9 270.1,667.2 270.3,667.2 270.5,666.6 270.7,666.8 270.9,666.6 271.1,667.9 271.3,666.3 271.6,667.2 271.8,666.5 272.0,666.8 272.2,667.6 272.4,667.5 272.6,666.7 272.8,666.4 273.0,667.6 273.2,667.7 273.4,668.2 273.6,667.6 273.8,667.5 274.0,667.3 274.2,666.8 274.4,667.4 274.6,667.7 274.8,667.3 275.0,667.1 275.2,667.0 275.4,667.0 275.6,667.2 275.9,666.8 276.1,667.3 276.3,667.7 276.5,667.2 276.7,666.1 276.9,667.5 277.1,665.7 277.3,667.4 277.5,666.7 277.7,668.0 277.9,667.1 278.1,666.3 278.3,667.7 278.5,667.5 278.7,666.9 278.9,666.9 279.1,667.9 279.3,667.8 279.5,666.9 279.7,666.9 279.9,666.6 280.2,667.1 280.4,666.7 280.6,666.3 280.8,667.7 281.0,666.4 281.2,666.5 281.4,666.2 281.6,667.1 281.8,666.9 282.0,666.8 282.2,667.1 282.4,666.2 282.6,666.5 282.8,667.1 283.0,666.2 283.2,666.7 283.4,666.6 283.6,665.8 283.8,664.6 284.0,663.7 284.3,663.0 284.5,662.0 284.7,661.0 284.9,662.9 285.1,662.7 285.3,663.6 285.5,665.2 285.7,665.5 285.9,665.6 286.1,666.1 286.3,666.8 286.5,666.1 286.7,666.5 286.9,666.4 287.1,665.9 287.3,667.6 287.5,666.3 287.7,666.7 287.9,667.4 288.1,667.0 288.3,667.2 288.6,667.6 288.8,666.6 289.0,667.4 289.2,668.1 289.4,666.6 289.6,667.3 289.8,666.8 290.0,666.9 290.2,667.2 290.4,667.3 290.6,668.5 290.8,667.3 291.0,667.7 291.2,666.8 291.4,667.5 291.6,667.4 291.8,667.0 292.0,667.7 292.2,667.5 292.4,667.4 292.6,666.9 292.9,667.9 293.1,666.7 293.3,667.2 293.5,667.4 293.7,666.9 293.9,666.5 294.1,666.5 294.3,667.7 294.5,666.4 294.7,667.1 294.9,666.4 295.1,667.7 295.3,667.2 295.5,667.2 295.7,667.8 295.9,667.3 296.1,666.6 296.3,666.5 296.5,666.7 296.7,666.9 297.0,667.3 297.2,666.0 297.4,667.8 297.6,667.8 297.8,667.5 298.0,667.0 298.2,667.3 298.4,666.7 298.6,667.9 298.8,666.6 299.0,666.1 299.2,666.6 299.4,667.2 299.6,667.4 299.8,666.5 300.0,668.0 300.2,667.5 300.4,668.0 300.6,667.1 300.8,666.0 301.0,667.3 301.3,666.4 301.5,667.6 301.7,667.3 301.9,667.3 302.1,666.4 302.3,667.4 302.5,667.3 302.7,666.9 302.9,666.0 303.1,666.8 303.3,665.7 303.5,666.4 303.7,666.5 303.9,665.5 304.1,666.1 304.3,665.8 304.5,664.6 304.7,664.9 304.9,664.3 305.1,663.9 305.4,663.6 305.6,663.5 305.8,664.0 306.0,665.3 306.2,665.6 306.4,666.2 306.6,667.1 306.8,666.2 307.0,667.0 307.2,666.2 307.4,666.9 307.6,667.1 307.8,666.3 308.0,666.7 308.2,666.9 308.4,665.3 308.6,665.4 308.8,665.0 309.0,664.9 309.2,665.1 309.4,666.5 309.7,665.5 309.9,665.8 310.1,665.7 310.3,667.0 310.5,666.2 310.7,666.6 310.9,666.0 311.1,667.2 311.3,666.9 311.5,666.8 311.7,666.6 311.9,666.3 312.1,666.7 312.3,667.8 312.5,666.1"/>
<polyline fill="none" stroke="#3a3a3a" stroke-width="0.8" stroke-linejoin="round" points="66.7,777.3 66.9,776.8 67.1,776.4 67.3,775.7 67.5,774.5 67.7,775.1 67.9,773.7 68.1,773.0 68.3,773.0 68.5,772.5 68.7,771.5 69.0,770.7 69.2,769.7 69.4,769.5 69.6,768.6 69.8,768.7 70.0,768.1 70.2,767.7 70.4,766.8 70.6,765.9 70.8,765.0 71.0,764.7 71.2,763.2 71.4,762.7 71.6,762.1 71.8,761.3 72.0,759.5 72.2,759.2 72.4,758.6 72.6,757.7 72.8,755.7 73.1,755.5 73.3,753.8 73.5,752.6 73.7,752.5 73.9,749.8 74.1,748.7 74.3,747.4 74.5,745.4 74.7,743.2 74.9,741.4 75.1,739.5 75.3,738.0 75.5,735.5 75.7,733.6 75.9,731.8 76.1,730.4 76.3,728.6 76.5,727.1 76.7,726.3 76.9,725.1 77.1,724.2 77.4,723.2 77.6,722.2 77.8,722.1 78.0,720.8 78.2,719.7 78.4,719.7 78.6,718.7 78.8,716.9 79.0,717.1 79.2,716.1 79.4,715.1 79.6,714.7 79.8,714.1 80.0,713.2 80.2,712.4 80.4,711.7 80.6,710.7 80.8,709.5 81.0,709.2 81.2,708.0 81.4,707.6 81.7,706.8 81.9,706.2 82.1,705.8 82.3,704.8 82.5,704.2 82.7,703.9 82.9,702.6 83.1,702.0 83.3,701.4 83.5,701.1 83.7,701.2 83.9,699.2 84.1,699.1 84.3,699.2 84.5,697.7 84.7,697.6 84.9,696.6 85.1,696.3 85.3,695.3 85.5,695.1 85.8,694.5 86.0,694.1 86.2,693.2 86.4,693.5 86.6,692.2 86.8,691.9 87.0,691.8 87.2,691.2 87.4,690.9 87.6,690.2 87.8,689.5 88.0,689.6 88.2,688.7 88.4,688.2 88.6,687.9 88.8,687.2 89.0,687.4 89.2,686.7 89.4,685.7 89.6,686.1 89.8,685.7 90.1,685.3 90.3,684.6 90.5,684.6 90.7,684.1 90.9,684.2 91.1,683.5 91.3,683.1 91.5,682.7 91.7,682.1 91.9,681.3 92.1,681.3 92.3,681.3 92.5,680.4 92.7,680.1 92.9,680.4 93.1,679.6 93.3,679.7 93.5,679.3 93.7,679.2 93.9,678.5 94.1,678.9 94.4,678.6 94.6,678.3 94.8,677.9 95.0,677.9 95.2,678.6 95.4,677.9 95.6,678.2 95.8,678.0 96.0,678.1 96.2,678.8 96.4,678.7 96.6,678.9 96.8,678.8 97.0,678.5 97.2,679.2 97.4,679.7 97.6,678.8 97.8,680.2 98.0,680.0 98.2,680.3 98.5,680.9 98.7,680.5 98.9,680.6 99.1,681.3 99.3,681.5 99.5,681.8 99.7,682.7 99.9,682.3 100.1,683.1 100.3,683.3 100.5,683.1 100.7,683.4 100.9,684.4 101.1,684.3 101.3,684.7 101.5,685.9 101.7,686.7 101.9,687.3 102.1,688.3 102.3,689.3 102.5,689.6 102.8,690.4 103.0,691.7 103.2,692.5 103.4,693.5 103.6,694.4 103.8,695.3 104.0,696.3 104.2,696.3 104.4,697.5 104.6,698.1 104.8,698.3 105.0,699.8 105.2,700.2 105.4,701.6 105.6,702.1 105.8,702.4 106.0,703.5 106.2,704.6 106.4,705.4 106.6,705.5 106.9,706.7 107.1,706.9 107.3,707.8 107.5,708.7 107.7,709.4 107.9,709.8 108.1,710.8 108.3,711.9 108.5,712.3 108.7,713.2 108.9,714.0 109.1,714.5 109.3,715.3 109.5,715.8 109.7,717.0 109.9,717.9 110.1,718.6 110.3,719.2 110.5,720.3 110.7,721.0 110.9,721.9 111.2,722.7 111.4,723.3 111.6,723.2 111.8,724.9 112.0,725.5 112.2,726.4 112.4,727.3 112.6,728.0 112.8,728.2 113.0,729.8 113.2,730.0 113.4,731.2 113.6,732.6 113.8,733.4 114.0,734.2 114.2,735.3 114.4,735.4 114.6,736.5 114.8,737.4 115.0,738.8 115.2,739.2 115.5,740.4 115.7,740.3 115.9,742.0 116.1,742.8 116.3,743.6 116.5,744.8 116.7,745.6 116.9,746.5 117.1,746.9 117.3,748.3 117.5,748.9 117.7,749.6 117.9,750.7 118.1,751.8 118.3,752.5 118.5,753.1 118.7,754.0 118.9,754.2 119.1,755.3 119.3,756.1 119.6,757.2 119.8,757.5 120.0,758.6 120.2,759.6 120.4,760.3 120.6,760.1 120.8,761.9 121.0,762.8 121.2,762.9 121.4,763.8 121.6,764.9 121.8,765.1 122.0,766.7 122.2,767.1 122.4,768.1 122.6,767.7 122.8,768.7 123.0,768.4 123.2,769.6 123.4,770.1 123.6,771.0 123.9,771.4 124.1,771.6 124.3,771.5 124.5,772.6 124.7,773.4 124.9,772.7 125.1,773.1 125.3,774.0 125.5,774.0 125.7,774.1 125.9,774.4 126.1,775.6 126.3,775.4 126.5,775.9 126.7,775.6 126.9,776.2 127.1,776.8 127.3,776.6 127.5,776.6 127.7,777.4 128.0,777.5 128.2,777.3 128.4,777.3 128.6,777.4 128.8,777.8 129.0,777.7 129.2,777.2 129.4,777.0 129.6,777.5 129.8,777.1 130.0,776.5 130.2,777.2 130.4,777.3 130.6,777.4 130.8,777.0 131.0,777.1 131.2,777.0 131.4,777.2 131.6,777.0 131.8,777.0 132.0,777.1 132.3,776.7 132.5,777.6 132.7,776.8 132.9,777.1 133.1,776.8 133.3,776.4 133.5,777.0 133.7,777.1 133.9,777.0 134.1,776.5 134.3,776.4 134.5,776.9 134.7,776.7 134.9,776.3 135.1,776.7 135.3,777.4 135.5,777.1 135.7,777.0 135.9,776.6 136.1,776.9 136.3,776.1 136.6,776.6 136.8,775.8 137.0,776.3 137.2,775.5 137.4,775.7 137.6,775.1 137.8,774.7 138.0,774.6 138.2,774.6 138.4,775.0 138.6,774.8 138.8,775.4 139.0,773.7 139.2,773.6 139.4,773.5 139.6,774.1 139.8,772.7 140.0,773.7 140.2,773.1 140.4,773.8 140.7,773.3 140.9,772.6 141.1,772.6 141.3,773.2 141.5,772.7 141.7,772.2 141.9,773.1 142.1,772.1 142.3,772.8 142.5,772.0 142.7,772.2 142.9,771.7 143.1,772.1 143.3,772.0 143.5,771.9 143.7,772.0 143.9,771.7 144.1,771.9 144.3,771.7 144.5,771.2 144.7,771.5 145.0,771.0 145.2,771.1 145.4,771.0 145.6,771.6 145.8,771.0 146.0,770.6 146.2,770.7 146.4,770.6 146.6,770.4 146.8,771.4 147.0,770.6 147.2,770.6 147.4,770.8 147.6,771.1 147.8,770.6 148.0,770.7 148.2,769.9 148.4,770.1 148.6,770.6 148.8,770.8 149.0,770.7 149.3,770.4 149.5,770.5 149.7,769.6 149.9,770.6 150.1,770.2 150.3,770.1 150.5,770.0 150.7,770.4 150.9,770.1 151.1,769.9 151.3,769.8 151.5,770.1 151.7,770.0 151.9,769.8 152.1,769.2 152.3,770.2 152.5,769.5 152.7,769.1 152.9,770.1 153.1,769.0 153.4,769.0 153.6,769.4 153.8,769.0 154.0,768.6 154.2,769.0 154.4,768.6 154.6,768.6 154.8,767.7 155.0,766.1 155.2,764.0 155.4,760.2 155.6,756.7 155.8,753.2 156.0,750.8 156.2,752.7 156.4,756.9 156.6,761.4 156.8,765.0 157.0,767.4 157.2,768.2 157.4,769.4 157.7,770.2 157.9,770.6 158.1,771.2 158.3,771.6 158.5,771.7 158.7,771.8 158.9,772.5 159.1,772.6 159.3,772.9 159.5,772.6 159.7,772.4 159.9,773.1 160.1,773.2 160.3,773.5 160.5,773.2 160.7,773.5 160.9,773.5 161.1,773.6 161.3,772.5 161.5,773.4 161.8,773.6 162.0,773.6 162.2,773.2 162.4,773.3 162.6,773.5 162.8,774.3 163.0,773.4 163.2,773.4 163.4,773.5 163.6,773.7 163.8,773.8 164.0,773.5 164.2,774.0 164.4,773.5 164.6,774.0 164.8,773.9 165.0,773.8 165.2,773.7 165.4,773.4 165.6,772.4 165.8,771.2 166.1,770.3 166.3,768.2 166.5,764.5 166.7,762.2 166.9,760.8 167.1,762.2 167.3,764.8 167.5,768.4 167.7,770.1 167.9,771.9 168.1,774.0 168.3,773.9 168.5,774.4 168.7,774.4 168.9,774.8 169.1,775.2 169.3,775.1 169.5,775.0 169.7,775.2 169.9,775.3 170.1,774.6 170.4,775.2 170.6,775.8 170.8,775.4 171.0,775.3 171.2,775.8 171.4,775.4 171.6,775.7 171.8,776.1 172.0,775.1 172.2,774.9 172.4,774.7 172.6,774.7 172.8,774.4 173.0,773.5 173.2,772.3 173.4,770.1 173.6,766.7 173.8,762.2 174.0,756.8 174.2,751.0 174.5,749.0 174.7,750.8 174.9,756.6 175.1,762.3 175.3,767.3 175.5,770.2 175.7,773.0 175.9,773.9 176.1,774.8 176.3,775.3 176.5,776.2 176.7,776.1 176.9,776.7 177.1,776.3 177.3,776.5 177.5,776.4 177.7,777.1 177.9,776.7 178.1,776.7 178.3,777.5 178.5,776.2 178.8,776.6 179.0,777.1 179.2,776.2 179.4,776.4 179.6,777.7 179.8,777.0 180.0,777.1 180.2,776.9 180.4,777.2 180.6,777.0 180.8,776.9 181.0,777.7 181.2,776.8 181.4,776.4 181.6,776.8 181.8,776.4 182.0,776.3 182.2,776.7 182.4,776.6 182.6,776.6 182.8,776.8 183.1,775.9 183.3,776.5 183.5,776.4 183.7,776.2 183.9,776.0 184.1,776.9 184.3,776.7 184.5,776.3 184.7,776.1 184.9,776.7 185.1,776.7 185.3,775.9 185.5,775.9 185.7,776.1 185.9,776.1 186.1,776.2 186.3,776.3 186.5,776.2 186.7,775.8 186.9,775.8 187.2,775.4 187.4,776.1 187.6,776.2 187.8,775.4 188.0,775.8 188.2,775.6 188.4,775.4 188.6,775.8 188.8,775.8 189.0,775.2 189.2,776.2 189.4,775.0 189.6,775.8 189.8,774.9 190.0,775.0 190.2,775.0 190.4,774.8 190.6,774.9 190.8,775.4 191.0,774.6 191.2,774.7 191.5,774.6 191.7,774.7 191.9,774.7 192.1,774.3 192.3,774.2 192.5,774.4 192.7,774.8 192.9,774.7 193.1,774.6 193.3,773.9 193.5,774.0 193.7,774.1 193.9,774.1 194.1,774.2 194.3,773.7 194.5,774.2 194.7,774.1 194.9,773.5 195.1,773.5 195.3,773.7 195.6,774.1 195.8,774.0 196.0,773.3 196.2,773.4 196.4,773.0 196.6,773.6 196.8,773.4 197.0,773.7 197.2,772.8 197.4,773.9 197.6,773.1 197.8,772.7 198.0,773.5 198.2,773.7 198.4,773.5 198.6,773.7 198.8,773.1 199.0,773.2 199.2,773.5 199.4,773.3 199.6,772.7 199.9,773.3 200.1,773.4 200.3,772.6 200.5,773.6 200.7,773.5 200.9,772.9 201.1,773.4 201.3,774.1 201.5,773.8 201.7,774.3 201.9,773.8 202.1,773.5 202.3,774.3 202.5,773.2 202.7,773.4 202.9,773.6 203.1,774.2 203.3,774.0 203.5,773.9 203.7,773.8 203.9,773.8 204.2,775.0 204.4,774.6 204.6,774.8 204.8,774.6 205.0,774.5 205.2,773.9 205.4,774.8 205.6,774.5 205.8,774.8 206.0,775.0 206.2,774.4 206.4,775.5 206.6,774.9 206.8,774.5 207.0,774.1 207.2,775.5 207.4,775.7 207.6,775.9 207.8,775.7 208.0,775.6 208.3,775.6 208.5,775.3 208.7,775.9 208.9,775.7 209.1,776.4 209.3,776.1 209.5,776.0 209.7,776.8 209.9,775.9 210.1,775.7 210.3,776.0 210.5,776.0 210.7,776.1 210.9,776.5 211.1,776.1 211.3,776.3 211.5,776.1 211.7,776.2 211.9,776.2 212.1,776.7 212.3,776.3 212.6,775.7 212.8,776.0 213.0,776.4 213.2,776.6 213.4,776.0 213.6,776.4 213.8,777.0 214.0,776.6 214.2,775.9 214.4,777.0 214.6,776.5 214.8,776.7 215.0,776.5 215.2,776.7 215.4,776.8 215.6,777.4 215.8,776.6 216.0,776.6 216.2,776.6 216.4,777.0 216.7,776.8 216.9,775.9 217.1,777.0 217.3,776.7 217.5,777.1 217.7,776.7 217.9,776.5 218.1,776.2 218.3,776.5 218.5,776.5 218.7,776.4 218.9,776.2 219.1,776.3 219.3,776.0 219.5,775.3 219.7,775.5 219.9,774.6 220.1,774.2 220.3,773.3 220.5,772.0 220.7,772.5 221.0,772.4 221.2,772.5 221.4,773.8 221.6,774.8 221.8,775.6 222.0,776.7 222.2,776.6 222.4,776.8 222.6,776.3 222.8,776.6 223.0,777.3 223.2,776.7 223.4,777.2 223.6,776.4 223.8,776.6 224.0,776.9 224.2,777.3 224.4,776.6 224.6,776.9 224.8,776.8 225.0,777.0 225.3,777.3 225.5,777.0 225.7,777.5 225.9,777.0 226.1,777.2 226.3,777.8 226.5,777.1 226.7,777.3 226.9,777.5 227.1,777.4 227.3,777.1 227.5,777.7 227.7,777.7 227.9,777.1 228.1,777.3 228.3,778.0 228.5,777.3 228.7,778.0 228.9,777.2 229.1,777.3 229.4,777.2 229.6,777.9 229.8,777.7 230.0,777.1 230.2,777.9 230.4,777.3 230.6,777.5 230.8,777.4 231.0,777.7 231.2,777.2 231.4,777.3 231.6,777.1 231.8,776.6 232.0,777.5 232.2,777.4 232.4,777.8 232.6,776.8 232.8,777.5 233.0,777.2 233.2,777.8 233.4,777.5 233.7,777.2 233.9,777.3 234.1,777.5 234.3,777.1 234.5,777.4 234.7,777.1 234.9,777.5 235.1,777.2 235.3,777.6 235.5,777.0 235.7,777.4 235.9,777.4 236.1,777.6 236.3,777.1 236.5,777.4 236.7,777.5 236.9,777.0 237.1,777.7 237.3,777.1 237.5,776.9 237.7,778.0 238.0,777.1 238.2,777.2 238.4,777.3 238.6,777.3 238.8,777.8 239.0,777.2 239.2,777.3 239.4,777.9 239.6,777.5 239.8,777.8 240.0,777.4 240.2,777.7 240.4,777.4 240.6,777.9 240.8,777.6 241.0,777.6 241.2,777.5 241.4,777.0 241.6,776.7 241.8,777.9 242.1,777.1 242.3,777.5 242.5,777.5 242.7,777.5 242.9,777.5 243.1,777.4 243.3,777.1 243.5,777.0 243.7,777.3 243.9,777.4 244.1,777.2 244.3,777.3 244.5,776.8 244.7,777.7 244.9,777.9 245.1,777.5 245.3,777.3 245.5,777.5 245.7,777.3 245.9,778.3 246.1,777.7 246.4,777.6 246.6,777.9 246.8,777.6 247.0,777.5 247.2,777.3 247.4,777.7 247.6,778.0 247.8,777.3 248.0,776.8 248.2,777.4 248.4,777.4 248.6,777.8 248.8,777.4 249.0,776.9 249.2,778.1 249.4,777.1 249.6,778.1 249.8,776.9 250.0,777.1 250.2,777.5 250.5,777.3 250.7,776.8 250.9,777.8 251.1,777.0 251.3,777.2 251.5,777.4 251.7,776.9 251.9,777.9 252.1,777.4 252.3,777.8 252.5,777.4 252.7,777.2 252.9,777.9 253.1,777.2 253.3,777.2 253.5,777.5 253.7,777.3 253.9,776.9 254.1,777.1 254.3,776.7 254.5,777.5 254.8,777.6 255.0,776.7 255.2,777.5 255.4,776.6 255.6,776.9 255.8,776.5 256.0,776.6 256.2,775.8 256.4,775.2 256.6,774.5 256.8,773.9 257.0,773.4 257.2,771.6 257.4,771.0 257.6,770.2 257.8,771.5 258.0,771.8 258.2,773.1 258.4,774.1 258.6,774.6 258.8,775.3 259.1,775.6 259.3,776.3 259.5,776.5 259.7,776.7 259.9,777.3 260.1,776.7 260.3,777.3 260.5,777.3 260.7,777.0 260.9,777.4 261.1,777.4 261.3,778.1 261.5,777.5 261.7,777.6 261.9,777.5 262.1,777.1 262.3,777.4 262.5,777.4 262.7,777.3 262.9,777.0 263.2,777.0 263.4,777.2 263.6,777.4 263.8,777.1 264.0,777.5 264.2,777.4 264.4,777.3 264.6,777.5 264.8,777.7 265.0,777.8 265.2,777.5 265.4,777.3 265.6,777.2 265.8,777.6 266.0,777.3 266.2,777.4 266.4,777.5 266.6,776.5 266.8,777.6 267.0,777.7 267.2,777.3 267.5,776.9 267.7,777.5 267.9,776.9 268.1,777.7 268.3,777.5 268.5,777.4 268.7,777.5 268.9,777.4 269.1,777.4 269.3,777.4 269.5,777.7 269.7,777.2 269.9,777.3 270.1,777.3 270.3,777.0 270.5,777.2 270.7,777.3 270.9,776.9 271.1,777.5 271.3,777.9 271.6,777.5 271.8,777.7 272.0,777.4 272.2,777.4 272.4,777.4 272.6,777.3 272.8,777.1 273.0,777.2 273.2,777.3 273.4,777.4 273.6,777.5 273.8,777.4 274.0,777.4 274.2,777.7 274.4,777.5 274.6,777.1 274.8,777.3 275.0,777.6 275.2,777.3 275.4,777.2 275.6,777.7 275.9,776.8 276.1,777.0 276.3,777.4 276.5,777.0 276.7,777.3 276.9,777.1 277.1,777.6 277.3,777.5 277.5,777.4 277.7,777.4 277.9,777.5 278.1,777.8 278.3,777.7 278.5,777.2 278.7,777.4 278.9,776.8 279.1,776.9 279.3,777.4 279.5,777.2 279.7,777.8 279.9,777.0 280.2,776.9 280.4,777.5 280.6,777.4 280.8,777.3 281.0,776.9 281.2,776.7 281.4,777.3 281.6,777.0 281.8,776.5 282.0,776.4 282.2,776.2 282.4,775.5 282.6,775.3 282.8,774.7 283.0,773.3 283.2,772.6 283.4,772.2 283.6,773.0 283.8,773.8 284.0,774.3 284.3,775.0 284.5,775.6 284.7,776.2 284.9,776.1 285.1,776.6 285.3,776.5 285.5,777.2 285.7,777.4 285.9,776.8 286.1,777.6 286.3,777.6 286.5,777.6 286.7,777.8 286.9,777.1 287.1,776.8 287.3,777.1 287.5,777.1 287.7,777.5 287.9,777.7 288.1,777.2 288.3,777.7 288.6,777.9 288.8,777.7 289.0,777.1 289.2,777.3 289.4,777.5 289.6,777.8 289.8,777.7 290.0,777.3 290.2,777.5 290.4,777.7 290.6,777.1 290.8,777.7 291.0,778.0 291.2,777.5 291.4,777.1 291.6,777.2 291.8,777.2 292.0,777.7 292.2,777.3 292.4,777.4 292.6,777.6 292.9,777.8 293.1,777.1 293.3,777.4 293.5,777.7 293.7,777.3 293.9,776.7 294.1,778.0 294.3,777.4 294.5,776.9 294.7,776.9 294.9,777.8 295.1,777.7 295.3,778.2 295.5,777.5 295.7,778.0 295.9,777.9 296.1,777.1 296.3,777.9 296.5,778.1 296.7,777.5 297.0,777.5 297.2,777.4 297.4,777.1 297.6,777.7 297.8,777.5 298.0,777.3 298.2,777.6 298.4,777.0 298.6,777.2 298.8,777.5 299.0,777.5 299.2,777.5 299.4,777.4 299.6,778.1 299.8,777.9 300.0,777.7 300.2,777.7 300.4,777.6 300.6,777.6 300.8,777.4 301.0,777.5 301.3,777.3 301.5,777.2 301.7,777.3 301.9,777.4 302.1,777.5 302.3,776.9 302.5,777.2 302.7,776.8 302.9,776.3 303.1,776.1 303.3,776.2 303.5,775.2 303.7,773.5 303.9,773.8 304.1,772.1 304.3,772.6 304.5,772.5 304.7,772.9 304.9,774.5 305.1,774.6 305.4,776.4 305.6,776.2 305.8,776.8 306.0,776.7 306.2,776.8 306.4,776.8 306.6,776.9 306.8,777.4 307.0,777.6 307.2,777.2 307.4,777.5 307.6,778.0 307.8,778.0 308.0,777.4 308.2,777.2 308.4,776.9 308.6,776.6 308.8,776.9 309.0,775.9 309.2,776.0 309.4,775.1 309.7,775.2 309.9,774.8 310.1,775.5 310.3,776.2 310.5,776.5 310.7,776.8 310.9,776.9 311.1,777.0 311.3,777.7 311.5,777.8 311.7,777.3 311.9,777.6 312.1,777.2 312.3,777.5 312.5,777.1"/>
<text transform="translate(13.8,690.5) rotate(-90)" text-anchor="middle" font-size="10.2">Intensity (a.u.)</text>
<text x="179.6" y="818.2" text-anchor="middle" font-size="10.1">2 Theta (degrees)</text>
<line x1="145.5" y1="601.7" x2="174.3" y2="601.7" stroke="#666" stroke-width="1.5"/>
<text x="178.1" y="605.5" font-size="12.9">As Prepared (ESZ-2)</text>
<line x1="145.5" y1="617.9" x2="174.3" y2="617.9" stroke="#f09494" stroke-width="2.0"/>
<text x="178.1" y="622" font-size="12.9">After Exposure (ESZ-2)</text>
<text x="162" y="846.6" text-anchor="middle" class="cap" font-size="14.5">(e)</text>
<line x1="378.5" y1="593.5" x2="378.5" y2="794" stroke="#444" stroke-width="1.1"/>
<line x1="376.5" y1="792.5" x2="647.8" y2="792.5" stroke="#444" stroke-width="1.1"/>
<line x1="374.5" y1="777.5" x2="378.5" y2="777.5" stroke="#111" stroke-width="1"/>
<text transform="translate(371.4,780.2) scale(1,1.12)" text-anchor="end" font-size="8">2000</text>
<line x1="374.5" y1="746.5" x2="378.5" y2="746.5" stroke="#111" stroke-width="1"/>
<text transform="translate(371.4,749.6) scale(1,1.12)" text-anchor="end" font-size="8">3000</text>
<line x1="374.5" y1="715.5" x2="378.5" y2="715.5" stroke="#111" stroke-width="1"/>
<text transform="translate(371.4,719) scale(1,1.12)" text-anchor="end" font-size="8">4000</text>
<line x1="374.5" y1="685.5" x2="378.5" y2="685.5" stroke="#111" stroke-width="1"/>
<text transform="translate(371.4,688.3) scale(1,1.12)" text-anchor="end" font-size="8">5000</text>
<line x1="374.5" y1="654.5" x2="378.5" y2="654.5" stroke="#111" stroke-width="1"/>
<text transform="translate(371.4,657.7) scale(1,1.12)" text-anchor="end" font-size="8">6000</text>
<line x1="374.5" y1="624.5" x2="378.5" y2="624.5" stroke="#111" stroke-width="1"/>
<text transform="translate(371.4,627.1) scale(1,1.12)" text-anchor="end" font-size="8">7000</text>
<line x1="374.5" y1="593.5" x2="378.5" y2="593.5" stroke="#111" stroke-width="1"/>
<text transform="translate(371.4,596.5) scale(1,1.12)" text-anchor="end" font-size="8">8000</text>
<line x1="376.5" y1="792.5" x2="378.5" y2="792.5" stroke="#111" stroke-width="1"/>
<line x1="376.5" y1="761.5" x2="378.5" y2="761.5" stroke="#111" stroke-width="1"/>
<line x1="376.5" y1="731.5" x2="378.5" y2="731.5" stroke="#111" stroke-width="1"/>
<line x1="376.5" y1="700.5" x2="378.5" y2="700.5" stroke="#111" stroke-width="1"/>
<line x1="376.5" y1="670.5" x2="378.5" y2="670.5" stroke="#111" stroke-width="1"/>
<line x1="376.5" y1="639.5" x2="378.5" y2="639.5" stroke="#111" stroke-width="1"/>
<line x1="376.5" y1="608.5" x2="378.5" y2="608.5" stroke="#111" stroke-width="1"/>
<line x1="399.5" y1="792.5" x2="399.5" y2="796.5" stroke="#111" stroke-width="1"/>
<text transform="translate(399,805.7) scale(1,1.12)" text-anchor="middle" font-size="8">10</text>
<line x1="440.5" y1="792.5" x2="440.5" y2="796.5" stroke="#111" stroke-width="1"/>
<text transform="translate(440.4,805.7) scale(1,1.12)" text-anchor="middle" font-size="8">20</text>
<line x1="481.5" y1="792.5" x2="481.5" y2="796.5" stroke="#111" stroke-width="1"/>
<text transform="translate(481.8,805.7) scale(1,1.12)" text-anchor="middle" font-size="8">30</text>
<line x1="523.5" y1="792.5" x2="523.5" y2="796.5" stroke="#111" stroke-width="1"/>
<text transform="translate(523.1,805.7) scale(1,1.12)" text-anchor="middle" font-size="8">40</text>
<line x1="564.5" y1="792.5" x2="564.5" y2="796.5" stroke="#111" stroke-width="1"/>
<text transform="translate(564.5,805.7) scale(1,1.12)" text-anchor="middle" font-size="8">50</text>
<line x1="605.5" y1="792.5" x2="605.5" y2="796.5" stroke="#111" stroke-width="1"/>
<text transform="translate(605.9,805.7) scale(1,1.12)" text-anchor="middle" font-size="8">60</text>
<line x1="647.5" y1="792.5" x2="647.5" y2="796.5" stroke="#111" stroke-width="1"/>
<text transform="translate(647.3,805.7) scale(1,1.12)" text-anchor="middle" font-size="8">70</text>
<line x1="378.5" y1="792.5" x2="378.5" y2="794.5" stroke="#111" stroke-width="1"/>
<line x1="419.5" y1="792.5" x2="419.5" y2="794.5" stroke="#111" stroke-width="1"/>
<line x1="461.5" y1="792.5" x2="461.5" y2="794.5" stroke="#111" stroke-width="1"/>
<line x1="502.5" y1="792.5" x2="502.5" y2="794.5" stroke="#111" stroke-width="1"/>
<line x1="543.5" y1="792.5" x2="543.5" y2="794.5" stroke="#111" stroke-width="1"/>
<line x1="585.5" y1="792.5" x2="585.5" y2="794.5" stroke="#111" stroke-width="1"/>
<line x1="626.5" y1="792.5" x2="626.5" y2="794.5" stroke="#111" stroke-width="1"/>
<polyline fill="none" stroke="#e03535" stroke-width="0.8" stroke-linejoin="round" points="399.0,695.1 399.2,694.7 399.4,694.5 399.6,695.4 399.8,694.4 400.0,694.7 400.2,694.4 400.4,694.7 400.7,694.1 400.9,695.4 401.1,693.7 401.3,694.1 401.5,695.2 401.7,694.4 401.9,694.6 402.1,695.9 402.3,694.5 402.5,695.2 402.7,695.0 402.9,695.2 403.1,695.1 403.3,694.8 403.6,694.8 403.8,695.8 404.0,695.0 404.2,695.7 404.4,695.6 404.6,695.0 404.8,694.3 405.0,694.4 405.2,695.2 405.4,695.3 405.6,695.3 405.8,694.7 406.0,694.3 406.2,694.8 406.4,694.4 406.7,694.6 406.9,693.8 407.1,696.0 407.3,696.0 407.5,694.8 407.7,694.2 407.9,694.8 408.1,694.2 408.3,695.1 408.5,695.1 408.7,694.6 408.9,693.6 409.1,693.6 409.3,694.4 409.6,693.7 409.8,694.0 410.0,693.4 410.2,693.8 410.4,692.9 410.6,692.9 410.8,692.1 411.0,692.1 411.2,691.8 411.4,690.8 411.6,690.6 411.8,689.9 412.0,689.6 412.2,688.5 412.4,688.9 412.7,687.4 412.9,686.6 413.1,687.0 413.3,685.3 413.5,684.6 413.7,685.1 413.9,685.6 414.1,685.2 414.3,683.8 414.5,682.0 414.7,682.1 414.9,681.4 415.1,681.4 415.3,681.0 415.6,679.7 415.8,679.9 416.0,678.6 416.2,677.5 416.4,677.0 416.6,676.0 416.8,675.8 417.0,674.3 417.2,673.6 417.4,674.0 417.6,672.7 417.8,671.6 418.0,669.8 418.2,668.9 418.4,667.7 418.7,666.5 418.9,664.9 419.1,663.4 419.3,662.9 419.5,662.1 419.7,659.3 419.9,658.4 420.1,656.8 420.3,655.5 420.5,654.6 420.7,653.5 420.9,650.6 421.1,649.3 421.3,648.2 421.6,647.5 421.8,646.3 422.0,645.6 422.2,644.2 422.4,643.4 422.6,642.4 422.8,640.9 423.0,638.9 423.2,640.1 423.4,637.5 423.6,636.5 423.8,636.6 424.0,634.7 424.2,633.8 424.4,633.2 424.7,632.3 424.9,631.9 425.1,629.1 425.3,627.8 425.5,627.4 425.7,627.8 425.9,626.6 426.1,625.7 426.3,625.7 426.5,624.6 426.7,623.4 426.9,623.3 427.1,623.4 427.3,622.3 427.6,620.7 427.8,620.3 428.0,619.6 428.2,618.0 428.4,618.1 428.6,618.0 428.8,617.1 429.0,615.3 429.2,616.9 429.4,614.7 429.6,614.7 429.8,615.4 430.0,615.3 430.2,614.0 430.4,614.5 430.7,614.8 430.9,613.1 431.1,614.0 431.3,613.7 431.5,613.7 431.7,613.8 431.9,613.4 432.1,613.6 432.3,613.0 432.5,612.6 432.7,612.5 432.9,612.5 433.1,612.3 433.3,612.8 433.6,613.7 433.8,612.8 434.0,614.6 434.2,614.1 434.4,613.7 434.6,615.1 434.8,613.4 435.0,615.2 435.2,615.8 435.4,615.6 435.6,615.9 435.8,615.7 436.0,616.1 436.2,615.6 436.4,616.6 436.7,616.7 436.9,617.7 437.1,617.1 437.3,618.1 437.5,619.1 437.7,617.4 437.9,619.1 438.1,619.4 438.3,619.6 438.5,619.0 438.7,620.6 438.9,620.3 439.1,620.0 439.3,619.6 439.6,621.3 439.8,621.4 440.0,622.4 440.2,621.0 440.4,622.7 440.6,623.1 440.8,623.3 441.0,624.4 441.2,624.3 441.4,625.5 441.6,624.3 441.8,625.9 442.0,626.4 442.2,626.1 442.4,628.1 442.7,627.1 442.9,627.6 443.1,629.6 443.3,629.4 443.5,630.5 443.7,630.5 443.9,631.7 444.1,633.0 444.3,632.7 444.5,633.9 444.7,634.3 444.9,634.6 445.1,635.1 445.3,636.2 445.6,638.2 445.8,637.6 446.0,638.9 446.2,638.8 446.4,640.3 446.6,640.1 446.8,641.3 447.0,642.4 447.2,642.9 447.4,644.9 447.6,644.2 447.8,645.2 448.0,646.7 448.2,646.4 448.4,647.2 448.7,647.9 448.9,648.8 449.1,649.0 449.3,649.7 449.5,650.9 449.7,651.7 449.9,652.7 450.1,653.5 450.3,653.5 450.5,655.0 450.7,656.3 450.9,656.0 451.1,656.3 451.3,657.9 451.6,657.9 451.8,658.9 452.0,660.6 452.2,660.6 452.4,661.6 452.6,661.9 452.8,664.7 453.0,663.3 453.2,664.1 453.4,665.8 453.6,665.3 453.8,666.8 454.0,667.3 454.2,667.6 454.4,667.9 454.7,669.3 454.9,669.7 455.1,670.5 455.3,671.8 455.5,671.0 455.7,672.1 455.9,673.1 456.1,673.2 456.3,674.1 456.5,675.4 456.7,675.0 456.9,676.2 457.1,676.5 457.3,676.9 457.6,677.5 457.8,677.5 458.0,679.1 458.2,679.8 458.4,680.7 458.6,681.2 458.8,680.9 459.0,681.6 459.2,682.9 459.4,683.2 459.6,683.6 459.8,682.8 460.0,684.7 460.2,684.3 460.4,685.9 460.7,685.4 460.9,684.8 461.1,686.8 461.3,685.6 461.5,687.8 461.7,686.9 461.9,688.0 462.1,687.6 462.3,688.1 462.5,687.7 462.7,688.4 462.9,688.7 463.1,689.4 463.3,689.1 463.6,690.1 463.8,690.3 464.0,690.5 464.2,690.0 464.4,689.2 464.6,690.8 464.8,689.8 465.0,691.8 465.2,691.8 465.4,691.2 465.6,691.4 465.8,691.4 466.0,691.1 466.2,692.3 466.4,691.6 466.7,692.3 466.9,694.3 467.1,693.3 467.3,693.2 467.5,692.9 467.7,692.8 467.9,693.4 468.1,692.5 468.3,694.0 468.5,693.6 468.7,693.1 468.9,694.4 469.1,693.1 469.3,693.4 469.6,694.1 469.8,694.1 470.0,694.2 470.2,694.2 470.4,693.5 470.6,694.0 470.8,695.2 471.0,695.4 471.2,694.1 471.4,696.1 471.6,695.4 471.8,694.8 472.0,694.5 472.2,693.7 472.4,694.4 472.7,692.4 472.9,694.4 473.1,694.0 473.3,693.9 473.5,694.6 473.7,694.0 473.9,694.2 474.1,694.4 474.3,695.0 474.5,694.8 474.7,694.1 474.9,694.6 475.1,694.3 475.3,694.3 475.6,694.4 475.8,694.6 476.0,694.2 476.2,694.1 476.4,693.8 476.6,694.3 476.8,695.0 477.0,695.0 477.2,694.2 477.4,695.6 477.6,695.0 477.8,694.0 478.0,694.8 478.2,695.0 478.4,693.9 478.7,696.3 478.9,694.7 479.1,694.9 479.3,694.9 479.5,694.1 479.7,693.7 479.9,694.0 480.1,694.3 480.3,694.4 480.5,694.8 480.7,694.6 480.9,695.6 481.1,695.0 481.3,694.3 481.6,694.7 481.8,694.1 482.0,695.6 482.2,695.0 482.4,695.2 482.6,694.0 482.8,694.7 483.0,694.8 483.2,695.3 483.4,694.9 483.6,695.2 483.8,694.9 484.0,693.2 484.2,695.2 484.4,694.6 484.7,695.0 484.9,693.6 485.1,695.0 485.3,694.9 485.5,694.1 485.7,693.3 485.9,694.1 486.1,694.6 486.3,695.7 486.5,696.3 486.7,694.1 486.9,693.9 487.1,693.1 487.3,693.4 487.6,693.7 487.8,692.6 488.0,692.1 488.2,693.3 488.4,692.0 488.6,691.3 488.8,691.8 489.0,689.8 489.2,688.3 489.4,684.4 489.6,679.3 489.8,673.8 490.0,663.3 490.2,653.4 490.4,650.0 490.7,654.9 490.9,663.5 491.1,673.1 491.3,679.7 491.5,685.8 491.7,687.5 491.9,689.6 492.1,690.2 492.3,691.3 492.5,691.8 492.7,692.2 492.9,692.7 493.1,694.4 493.3,693.1 493.6,694.0 493.8,695.1 494.0,692.8 494.2,693.8 494.4,694.8 494.6,693.7 494.8,693.7 495.0,693.8 495.2,693.1 495.4,694.7 495.6,693.5 495.8,694.6 496.0,693.7 496.2,693.6 496.4,694.3 496.7,692.4 496.9,695.1 497.1,694.8 497.3,694.2 497.5,694.4 497.7,693.1 497.9,694.1 498.1,692.9 498.3,693.9 498.5,693.0 498.7,692.9 498.9,693.1 499.1,692.6 499.3,692.5 499.6,691.1 499.8,690.4 500.0,691.3 500.2,689.5 500.4,686.9 500.6,683.7 500.8,677.7 501.0,670.8 501.2,667.5 501.4,663.9 501.6,665.4 501.8,672.1 502.0,679.2 502.2,684.0 502.5,687.3 502.7,688.5 502.9,691.4 503.1,691.4 503.3,691.1 503.5,691.7 503.7,692.6 503.9,692.8 504.1,693.8 504.3,693.8 504.5,693.4 504.7,692.3 504.9,692.3 505.1,691.9 505.3,692.1 505.6,692.1 505.8,692.3 506.0,692.7 506.2,691.2 506.4,691.8 506.6,692.3 506.8,690.4 507.0,689.8 507.2,687.3 507.4,687.2 507.6,683.9 507.8,679.8 508.0,670.8 508.2,659.5 508.5,645.7 508.7,631.3 508.9,626.0 509.1,631.0 509.3,645.5 509.5,659.5 509.7,671.8 509.9,679.6 510.1,684.2 510.3,686.6 510.5,688.7 510.7,691.4 510.9,690.3 511.1,691.3 511.3,691.3 511.6,691.3 511.8,691.8 512.0,692.9 512.2,692.9 512.4,692.5 512.6,692.3 512.8,693.5 513.0,693.5 513.2,693.8 513.4,693.1 513.6,693.8 513.8,692.0 514.0,692.9 514.2,692.8 514.5,693.2 514.7,693.9 514.9,695.2 515.1,692.7 515.3,693.4 515.5,694.8 515.7,691.9 515.9,693.2 516.1,692.7 516.3,693.9 516.5,694.8 516.7,694.2 516.9,693.3 517.1,695.0 517.3,694.1 517.6,693.1 517.8,693.1 518.0,693.7 518.2,695.4 518.4,693.9 518.6,693.0 518.8,693.2 519.0,694.0 519.2,693.6 519.4,693.4 519.6,694.0 519.8,694.2 520.0,694.2 520.2,694.3 520.5,693.8 520.7,693.8 520.9,693.4 521.1,693.4 521.3,693.9 521.5,695.1 521.7,693.5 521.9,694.4 522.1,692.7 522.3,694.0 522.5,692.4 522.7,693.4 522.9,692.8 523.1,693.7 523.3,693.5 523.6,694.1 523.8,694.1 524.0,694.1 524.2,693.3 524.4,694.5 524.6,693.2 524.8,694.0 525.0,693.4 525.2,694.4 525.4,693.8 525.6,694.8 525.8,694.2 526.0,693.9 526.2,694.4 526.5,693.9 526.7,693.7 526.9,693.7 527.1,695.1 527.3,694.0 527.5,693.9 527.7,694.3 527.9,694.4 528.1,692.6 528.3,693.3 528.5,693.2 528.7,693.1 528.9,694.4 529.1,693.9 529.3,694.9 529.6,693.7 529.8,695.0 530.0,694.2 530.2,693.3 530.4,693.4 530.6,694.4 530.8,694.3 531.0,693.0 531.2,693.5 531.4,694.1 531.6,693.7 531.8,693.7 532.0,694.4 532.2,694.1 532.5,695.1 532.7,693.6 532.9,693.7 533.1,693.1 533.3,693.1 533.5,694.0 533.7,692.8 533.9,694.2 534.1,693.2 534.3,694.1 534.5,694.1 534.7,694.5 534.9,693.8 535.1,692.4 535.3,693.6 535.6,693.4 535.8,693.9 536.0,693.4 536.2,693.3 536.4,693.4 536.6,692.9 536.8,693.7 537.0,693.5 537.2,692.8 537.4,693.3 537.6,694.2 537.8,692.9 538.0,693.3 538.2,694.2 538.5,694.2 538.7,693.9 538.9,693.2 539.1,693.5 539.3,693.1 539.5,692.2 539.7,692.6 539.9,693.6 540.1,694.1 540.3,692.8 540.5,694.1 540.7,694.2 540.9,693.7 541.1,693.5 541.3,693.8 541.6,693.5 541.8,695.3 542.0,693.9 542.2,693.6 542.4,693.2 542.6,693.4 542.8,693.8 543.0,692.1 543.2,693.1 543.4,693.3 543.6,693.5 543.8,693.4 544.0,694.1 544.2,694.3 544.5,693.5 544.7,694.6 544.9,693.3 545.1,693.9 545.3,693.2 545.5,693.6 545.7,694.1 545.9,694.1 546.1,693.9 546.3,692.8 546.5,692.8 546.7,693.7 546.9,693.5 547.1,694.1 547.3,692.7 547.6,693.4 547.8,694.0 548.0,694.4 548.2,693.3 548.4,692.4 548.6,693.5 548.8,694.1 549.0,694.1 549.2,693.9 549.4,694.9 549.6,693.0 549.8,693.9 550.0,694.6 550.2,695.3 550.5,693.3 550.7,693.4 550.9,692.6 551.1,692.9 551.3,693.7 551.5,694.5 551.7,693.3 551.9,693.7 552.1,693.3 552.3,694.3 552.5,693.5 552.7,693.4 552.9,694.0 553.1,694.2 553.3,694.4 553.6,692.9 553.8,692.1 554.0,692.6 554.2,693.9 554.4,691.9 554.6,692.2 554.8,690.1 555.0,688.0 555.2,687.4 555.4,687.7 555.6,684.3 555.8,684.2 556.0,683.8 556.2,685.8 556.5,687.2 556.7,690.1 556.9,689.3 557.1,691.9 557.3,693.0 557.5,692.0 557.7,692.1 557.9,691.9 558.1,692.2 558.3,692.8 558.5,692.9 558.7,692.7 558.9,693.0 559.1,693.0 559.3,694.6 559.6,693.4 559.8,693.6 560.0,693.1 560.2,693.9 560.4,692.8 560.6,693.0 560.8,694.1 561.0,693.4 561.2,693.1 561.4,694.1 561.6,695.0 561.8,693.6 562.0,693.4 562.2,693.5 562.5,692.8 562.7,693.3 562.9,692.5 563.1,693.9 563.3,692.5 563.5,693.7 563.7,693.2 563.9,694.7 564.1,694.0 564.3,692.8 564.5,693.5 564.7,693.5 564.9,694.3 565.1,693.1 565.3,694.2 565.6,692.7 565.8,693.2 566.0,693.9 566.2,694.1 566.4,693.9 566.6,693.3 566.8,693.4 567.0,694.6 567.2,693.4 567.4,694.2 567.6,692.4 567.8,694.7 568.0,693.0 568.2,694.3 568.5,693.3 568.7,692.8 568.9,693.3 569.1,694.3 569.3,694.5 569.5,692.7 569.7,694.1 569.9,693.1 570.1,692.8 570.3,694.6 570.5,692.4 570.7,693.7 570.9,693.7 571.1,694.2 571.3,693.4 571.6,693.3 571.8,692.9 572.0,692.9 572.2,692.9 572.4,693.6 572.6,693.6 572.8,693.5 573.0,693.5 573.2,692.8 573.4,693.0 573.6,693.7 573.8,694.1 574.0,694.7 574.2,693.7 574.5,693.6 574.7,694.7 574.9,693.8 575.1,693.4 575.3,693.4 575.5,694.4 575.7,694.0 575.9,694.5 576.1,693.0 576.3,693.4 576.5,692.0 576.7,693.9 576.9,692.6 577.1,693.5 577.3,693.5 577.6,692.9 577.8,694.8 578.0,694.3 578.2,692.6 578.4,692.9 578.6,692.4 578.8,693.2 579.0,693.9 579.2,693.0 579.4,693.8 579.6,693.6 579.8,693.6 580.0,694.1 580.2,692.3 580.5,693.1 580.7,693.5 580.9,693.3 581.1,693.9 581.3,693.8 581.5,693.5 581.7,693.3 581.9,694.9 582.1,692.7 582.3,694.8 582.5,694.1 582.7,694.4 582.9,693.5 583.1,694.6 583.3,692.9 583.6,693.1 583.8,693.0 584.0,693.0 584.2,693.7 584.4,693.4 584.6,694.1 584.8,693.8 585.0,693.2 585.2,694.3 585.4,693.7 585.6,693.8 585.8,692.9 586.0,693.2 586.2,693.7 586.5,693.0 586.7,692.3 586.9,692.8 587.1,693.4 587.3,693.3 587.5,694.0 587.7,693.7 587.9,693.2 588.1,693.1 588.3,694.2 588.5,694.1 588.7,694.0 588.9,694.0 589.1,693.6 589.3,693.3 589.6,693.9 589.8,693.5 590.0,694.3 590.2,693.1 590.4,692.7 590.6,693.1 590.8,693.6 591.0,691.0 591.2,692.7 591.4,691.6 591.6,692.7 591.8,691.0 592.0,689.3 592.2,687.8 592.5,685.6 592.7,683.2 592.9,681.1 593.1,679.1 593.3,677.8 593.5,678.9 593.7,681.0 593.9,683.0 594.1,685.5 594.3,688.0 594.5,688.7 594.7,690.6 594.9,691.5 595.1,691.4 595.3,692.1 595.6,693.5 595.8,692.4 596.0,693.8 596.2,693.1 596.4,692.8 596.6,692.7 596.8,693.7 597.0,693.4 597.2,692.8 597.4,692.0 597.6,692.1 597.8,692.8 598.0,692.3 598.2,693.7 598.5,693.5 598.7,692.9 598.9,692.9 599.1,694.4 599.3,692.7 599.5,694.0 599.7,693.5 599.9,694.2 600.1,693.7 600.3,692.8 600.5,694.3 600.7,693.9 600.9,693.5 601.1,693.1 601.3,692.5 601.6,693.4 601.8,692.9 602.0,694.5 602.2,693.9 602.4,695.0 602.6,692.8 602.8,693.9 603.0,693.2 603.2,694.2 603.4,694.2 603.6,694.2 603.8,694.0 604.0,693.7 604.2,694.6 604.5,693.5 604.7,693.2 604.9,694.7 605.1,694.5 605.3,694.3 605.5,694.1 605.7,692.5 605.9,693.1 606.1,694.3 606.3,691.9 606.5,693.1 606.7,694.3 606.9,694.6 607.1,693.3 607.3,694.6 607.6,693.5 607.8,693.0 608.0,694.1 608.2,694.0 608.4,694.1 608.6,692.8 608.8,693.2 609.0,693.3 609.2,693.0 609.4,693.6 609.6,694.0 609.8,693.4 610.0,693.0 610.2,693.6 610.5,693.7 610.7,694.1 610.9,692.7 611.1,693.1 611.3,693.4 611.5,693.4 611.7,693.3 611.9,693.5 612.1,692.9 612.3,693.4 612.5,693.0 612.7,693.4 612.9,693.8 613.1,692.8 613.3,692.7 613.6,692.5 613.8,693.7 614.0,693.8 614.2,694.5 614.4,693.3 614.6,693.9 614.8,692.6 615.0,694.0 615.2,692.7 615.4,694.0 615.6,693.3 615.8,692.4 616.0,693.4 616.2,692.8 616.5,692.5 616.7,693.7 616.9,691.3 617.1,693.3 617.3,692.4 617.5,691.7 617.7,690.9 617.9,689.7 618.1,688.3 618.3,688.3 618.5,685.7 618.7,684.9 618.9,681.8 619.1,681.8 619.3,681.8 619.6,684.6 619.8,686.3 620.0,687.2 620.2,688.6 620.4,690.5 620.6,691.5 620.8,692.2 621.0,692.6 621.2,692.9 621.4,691.1 621.6,692.4 621.8,693.9 622.0,693.3 622.2,693.7 622.5,693.1 622.7,691.9 622.9,692.5 623.1,693.2 623.3,693.1 623.5,693.4 623.7,694.0 623.9,693.7 624.1,692.7 624.3,694.4 624.5,692.6 624.7,692.0 624.9,693.4 625.1,692.7 625.3,693.3 625.6,693.6 625.8,694.7 626.0,693.9 626.2,692.5 626.4,693.4 626.6,693.7 626.8,692.5 627.0,693.5 627.2,694.7 627.4,693.8 627.6,692.6 627.8,692.8 628.0,693.7 628.2,693.0 628.5,693.6 628.7,692.0 628.9,693.0 629.1,692.8 629.3,693.2 629.5,692.8 629.7,693.1 629.9,693.4 630.1,693.7 630.3,693.7 630.5,693.5 630.7,693.0 630.9,693.1 631.1,692.6 631.3,693.6 631.6,693.3 631.8,694.7 632.0,693.9 632.2,693.9 632.4,693.5 632.6,693.4 632.8,693.7 633.0,693.2 633.2,693.7 633.4,693.4 633.6,693.8 633.8,693.3 634.0,693.8 634.2,693.6 634.5,693.9 634.7,694.2 634.9,692.6 635.1,693.8 635.3,692.7 635.5,693.5 635.7,693.3 635.9,693.2 636.1,693.8 636.3,694.3 636.5,692.7 636.7,693.0 636.9,694.1 637.1,693.4 637.3,693.3 637.6,692.1 637.8,692.2 638.0,692.2 638.2,691.1 638.4,690.8 638.6,690.6 638.8,689.8 639.0,686.9 639.2,687.1 639.4,684.1 639.6,685.4 639.8,685.2 640.0,685.2 640.2,686.9 640.5,688.2 640.7,691.0 640.9,691.2 641.1,691.7 641.3,692.3 641.5,692.7 641.7,692.3 641.9,692.6 642.1,693.2 642.3,692.9 642.5,692.6 642.7,692.3 642.9,692.1 643.1,692.5 643.3,690.9 643.6,689.9 643.8,688.4 644.0,689.1 644.2,688.0 644.4,689.1 644.6,688.7 644.8,690.3 645.0,691.0 645.2,691.8 645.4,692.1 645.6,692.4 645.8,693.6 646.0,692.6 646.2,693.7 646.5,693.3 646.7,692.6 646.9,693.4 647.1,693.7 647.3,692.3"/>
<polyline fill="none" stroke="#3a3a3a" stroke-width="0.8" stroke-linejoin="round" points="399.0,782.7 399.2,782.3 399.4,782.1 399.6,781.4 399.8,781.3 400.0,781.1 400.2,779.1 400.4,778.9 400.7,779.0 400.9,777.9 401.1,776.9 401.3,775.7 401.5,774.4 401.7,773.8 401.9,773.1 402.1,771.8 402.3,771.0 402.5,769.8 402.7,769.1 402.9,768.2 403.1,766.1 403.3,765.6 403.6,764.3 403.8,763.4 404.0,762.2 404.2,760.9 404.4,759.1 404.6,757.3 404.8,755.8 405.0,754.4 405.2,751.3 405.4,750.1 405.6,748.2 405.8,746.8 406.0,744.8 406.2,742.8 406.4,742.0 406.7,740.1 406.9,738.3 407.1,736.5 407.3,736.1 407.5,735.7 407.7,734.8 407.9,733.1 408.1,732.9 408.3,731.9 408.5,730.3 408.7,730.2 408.9,729.6 409.1,729.0 409.3,727.5 409.6,726.8 409.8,726.7 410.0,726.2 410.2,725.0 410.4,723.6 410.6,723.1 410.8,722.9 411.0,721.6 411.2,720.6 411.4,720.2 411.6,719.4 411.8,718.8 412.0,718.3 412.2,717.8 412.4,717.6 412.7,717.0 412.9,716.6 413.1,715.3 413.3,714.9 413.5,714.6 413.7,714.1 413.9,714.0 414.1,714.2 414.3,713.8 414.5,713.9 414.7,713.8 414.9,714.5 415.1,713.9 415.3,713.5 415.6,713.7 415.8,713.9 416.0,714.2 416.2,713.8 416.4,713.0 416.6,713.7 416.8,713.1 417.0,713.6 417.2,713.0 417.4,713.6 417.6,713.2 417.8,713.0 418.0,713.0 418.2,713.5 418.4,713.2 418.7,713.3 418.9,712.9 419.1,712.9 419.3,712.8 419.5,712.4 419.7,712.9 419.9,712.7 420.1,712.5 420.3,712.2 420.5,712.3 420.7,711.7 420.9,712.1 421.1,711.0 421.3,711.4 421.6,710.9 421.8,711.5 422.0,711.0 422.2,710.7 422.4,709.9 422.6,710.2 422.8,709.5 423.0,710.0 423.2,709.0 423.4,709.5 423.6,709.7 423.8,709.5 424.0,708.4 424.2,708.3 424.4,707.9 424.7,707.8 424.9,707.4 425.1,706.8 425.3,707.2 425.5,706.8 425.7,706.9 425.9,707.1 426.1,706.4 426.3,705.5 426.5,706.1 426.7,704.7 426.9,705.2 427.1,705.1 427.3,704.8 427.6,705.0 427.8,705.0 428.0,704.5 428.2,705.2 428.4,705.1 428.6,705.5 428.8,705.1 429.0,704.0 429.2,704.8 429.4,705.7 429.6,706.1 429.8,705.3 430.0,705.4 430.2,706.0 430.4,705.4 430.7,705.9 430.9,705.9 431.1,706.0 431.3,706.1 431.5,706.8 431.7,707.1 431.9,706.5 432.1,707.3 432.3,707.9 432.5,707.5 432.7,708.0 432.9,707.9 433.1,707.1 433.3,707.8 433.6,708.9 433.8,709.6 434.0,709.5 434.2,710.3 434.4,710.3 434.6,710.8 434.8,711.2 435.0,712.0 435.2,713.1 435.4,713.2 435.6,713.6 435.8,714.1 436.0,714.3 436.2,715.6 436.4,715.8 436.7,716.6 436.9,717.2 437.1,717.2 437.3,718.3 437.5,717.9 437.7,720.1 437.9,719.3 438.1,720.5 438.3,721.5 438.5,721.6 438.7,722.3 438.9,722.6 439.1,723.2 439.3,724.6 439.6,725.0 439.8,725.6 440.0,726.4 440.2,727.3 440.4,727.5 440.6,728.7 440.8,730.1 441.0,730.4 441.2,731.4 441.4,732.3 441.6,732.8 441.8,733.7 442.0,734.7 442.2,735.5 442.4,736.2 442.7,737.5 442.9,738.0 443.1,738.4 443.3,739.8 443.5,740.5 443.7,741.3 443.9,741.5 444.1,742.8 444.3,742.9 444.5,744.2 444.7,744.7 444.9,745.4 445.1,746.5 445.3,747.4 445.6,747.3 445.8,748.6 446.0,748.9 446.2,749.6 446.4,751.1 446.6,750.8 446.8,751.9 447.0,752.7 447.2,753.4 447.4,754.1 447.6,754.5 447.8,754.5 448.0,756.0 448.2,757.0 448.4,757.3 448.7,757.1 448.9,758.4 449.1,758.4 449.3,760.0 449.5,760.6 449.7,761.3 449.9,761.9 450.1,762.1 450.3,762.6 450.5,763.9 450.7,764.2 450.9,764.7 451.1,765.2 451.3,765.1 451.6,765.6 451.8,766.6 452.0,767.0 452.2,768.2 452.4,768.3 452.6,769.6 452.8,769.5 453.0,769.9 453.2,770.2 453.4,771.0 453.6,771.5 453.8,772.3 454.0,773.2 454.2,773.0 454.4,773.9 454.7,773.7 454.9,774.0 455.1,774.7 455.3,775.2 455.5,774.9 455.7,775.4 455.9,775.3 456.1,775.4 456.3,775.4 456.5,775.9 456.7,776.9 456.9,776.8 457.1,776.3 457.3,777.6 457.6,777.7 457.8,777.3 458.0,777.8 458.2,778.5 458.4,778.4 458.6,779.0 458.8,778.8 459.0,779.4 459.2,779.7 459.4,779.9 459.6,781.0 459.8,780.7 460.0,780.7 460.2,781.2 460.4,781.7 460.7,781.8 460.9,781.5 461.1,782.0 461.3,782.7 461.5,782.2 461.7,782.7 461.9,783.1 462.1,783.6 462.3,782.8 462.5,783.4 462.7,782.9 462.9,782.7 463.1,782.8 463.3,783.5 463.6,783.4 463.8,782.9 464.0,782.7 464.2,783.1 464.4,783.2 464.6,782.5 464.8,782.6 465.0,783.1 465.2,783.3 465.4,783.0 465.6,783.7 465.8,783.1 466.0,783.1 466.2,782.8 466.4,783.0 466.7,783.9 466.9,782.6 467.1,783.0 467.3,784.0 467.5,783.8 467.7,783.0 467.9,783.7 468.1,783.0 468.3,783.7 468.5,783.9 468.7,782.7 468.9,782.6 469.1,783.4 469.3,782.7 469.6,783.1 469.8,783.0 470.0,783.2 470.2,782.8 470.4,782.4 470.6,782.3 470.8,782.0 471.0,781.9 471.2,782.2 471.4,782.5 471.6,781.8 471.8,781.7 472.0,782.0 472.2,782.1 472.4,781.8 472.7,781.9 472.9,781.5 473.1,780.9 473.3,780.4 473.5,780.7 473.7,780.8 473.9,780.7 474.1,780.4 474.3,779.8 474.5,780.0 474.7,780.6 474.9,779.8 475.1,780.3 475.3,779.8 475.6,779.3 475.8,779.6 476.0,779.1 476.2,778.5 476.4,779.1 476.6,778.3 476.8,778.2 477.0,778.2 477.2,778.6 477.4,777.8 477.6,778.0 477.8,777.7 478.0,777.9 478.2,777.4 478.4,778.3 478.7,777.6 478.9,777.3 479.1,776.6 479.3,778.1 479.5,777.9 479.7,777.5 479.9,777.2 480.1,777.6 480.3,776.9 480.5,777.2 480.7,777.1 480.9,777.5 481.1,776.8 481.3,776.9 481.6,776.3 481.8,776.5 482.0,776.2 482.2,776.6 482.4,776.9 482.6,776.4 482.8,777.1 483.0,777.0 483.2,776.7 483.4,776.1 483.6,776.0 483.8,777.0 484.0,776.4 484.2,775.8 484.4,776.4 484.7,776.8 484.9,776.1 485.1,775.6 485.3,776.3 485.5,776.2 485.7,775.2 485.9,775.6 486.1,776.3 486.3,775.5 486.5,775.3 486.7,775.8 486.9,775.6 487.1,775.2 487.3,775.4 487.6,774.8 487.8,774.9 488.0,774.9 488.2,774.6 488.4,775.2 488.6,775.2 488.8,775.2 489.0,774.6 489.2,774.3 489.4,773.0 489.6,771.0 489.8,768.1 490.0,764.0 490.2,757.5 490.4,749.4 490.7,741.5 490.9,738.5 491.1,742.2 491.3,750.6 491.5,758.8 491.7,765.4 491.9,770.3 492.1,773.2 492.3,774.4 492.5,776.1 492.7,776.8 492.9,777.6 493.1,777.8 493.3,778.7 493.6,778.4 493.8,778.6 494.0,778.7 494.2,779.8 494.4,779.4 494.6,779.0 494.8,779.3 495.0,780.2 495.2,780.1 495.4,780.2 495.6,779.8 495.8,779.6 496.0,780.1 496.2,780.7 496.4,780.1 496.7,780.9 496.9,779.8 497.1,780.6 497.3,780.6 497.5,780.7 497.7,780.3 497.9,780.3 498.1,780.2 498.3,780.4 498.5,780.3 498.7,779.9 498.9,779.7 499.1,780.0 499.3,779.8 499.6,779.6 499.8,779.7 500.0,779.6 500.2,779.5 500.4,778.5 500.6,776.6 500.8,775.4 501.0,772.5 501.2,767.5 501.4,761.6 501.6,756.0 501.8,754.1 502.0,756.1 502.2,761.9 502.5,767.7 502.7,772.3 502.9,775.7 503.1,777.6 503.3,778.3 503.5,779.6 503.7,779.8 503.9,779.8 504.1,780.1 504.3,780.3 504.5,780.9 504.7,781.1 504.9,780.7 505.1,780.9 505.3,781.3 505.6,780.7 505.8,780.5 506.0,780.1 506.2,780.6 506.4,780.5 506.6,780.6 506.8,780.0 507.0,779.9 507.2,778.8 507.4,779.3 507.6,778.0 507.8,777.6 508.0,776.5 508.2,773.5 508.5,769.3 508.7,762.2 508.9,752.7 509.1,740.8 509.3,729.3 509.5,724.2 509.7,729.2 509.9,740.8 510.1,753.4 510.3,763.1 510.5,769.5 510.7,774.1 510.9,776.3 511.1,777.9 511.3,779.0 511.6,778.9 511.8,779.5 512.0,780.2 512.2,781.0 512.4,780.7 512.6,781.0 512.8,781.1 513.0,781.2 513.2,781.5 513.4,780.6 513.6,781.3 513.8,781.6 514.0,781.5 514.2,781.8 514.5,781.9 514.7,782.0 514.9,781.5 515.1,781.3 515.3,781.2 515.5,781.6 515.7,781.5 515.9,782.2 516.1,782.3 516.3,781.7 516.5,781.2 516.7,781.1 516.9,781.6 517.1,781.9 517.3,781.5 517.6,781.4 517.8,781.7 518.0,781.4 518.2,781.0 518.4,781.4 518.6,781.2 518.8,780.5 519.0,780.9 519.2,780.8 519.4,781.1 519.6,780.6 519.8,781.4 520.0,780.3 520.2,780.8 520.5,781.0 520.7,780.9 520.9,780.7 521.1,781.4 521.3,780.7 521.5,780.5 521.7,781.0 521.9,780.4 522.1,780.0 522.3,780.9 522.5,780.6 522.7,780.1 522.9,779.5 523.1,780.4 523.3,780.1 523.6,780.4 523.8,780.0 524.0,779.8 524.2,780.2 524.4,779.7 524.6,778.7 524.8,779.3 525.0,779.8 525.2,779.7 525.4,780.2 525.6,779.8 525.8,779.8 526.0,780.0 526.2,780.3 526.5,779.0 526.7,779.3 526.9,779.9 527.1,779.2 527.3,779.1 527.5,779.8 527.7,778.8 527.9,780.1 528.1,778.9 528.3,779.6 528.5,779.0 528.7,779.8 528.9,779.0 529.1,778.6 529.3,778.6 529.6,778.9 529.8,778.9 530.0,779.2 530.2,779.1 530.4,778.9 530.6,779.3 530.8,778.7 531.0,778.9 531.2,778.6 531.4,778.5 531.6,778.8 531.8,779.1 532.0,778.6 532.2,779.0 532.5,778.7 532.7,778.7 532.9,779.1 533.1,778.5 533.3,779.2 533.5,778.8 533.7,778.4 533.9,778.5 534.1,778.6 534.3,778.1 534.5,778.8 534.7,778.7 534.9,778.4 535.1,779.5 535.3,779.0 535.6,778.6 535.8,778.8 536.0,779.2 536.2,778.9 536.4,778.9 536.6,779.1 536.8,778.8 537.0,779.7 537.2,779.1 537.4,779.4 537.6,779.5 537.8,780.1 538.0,778.7 538.2,780.5 538.5,779.6 538.7,779.8 538.9,779.1 539.1,780.0 539.3,779.9 539.5,779.9 539.7,779.7 539.9,779.6 540.1,779.8 540.3,780.9 540.5,780.4 540.7,780.0 540.9,780.0 541.1,779.9 541.3,780.6 541.6,780.5 541.8,780.4 542.0,780.2 542.2,780.1 542.4,780.6 542.6,780.1 542.8,780.6 543.0,780.4 543.2,781.2 543.4,781.1 543.6,780.3 543.8,781.0 544.0,780.2 544.2,780.4 544.5,781.3 544.7,780.9 544.9,780.9 545.1,781.1 545.3,781.8 545.5,780.9 545.7,781.1 545.9,781.6 546.1,781.2 546.3,781.3 546.5,780.4 546.7,781.0 546.9,781.5 547.1,781.2 547.3,781.9 547.6,781.0 547.8,781.3 548.0,780.8 548.2,781.3 548.4,780.8 548.6,780.8 548.8,781.8 549.0,781.5 549.2,781.3 549.4,781.4 549.6,781.7 549.8,781.5 550.0,781.5 550.2,781.1 550.5,781.5 550.7,781.4 550.9,781.0 551.1,781.3 551.3,781.7 551.5,781.9 551.7,781.5 551.9,781.9 552.1,781.3 552.3,781.7 552.5,782.1 552.7,781.3 552.9,781.8 553.1,781.3 553.3,781.4 553.6,781.3 553.8,782.0 554.0,781.5 554.2,781.2 554.4,780.1 554.6,780.4 554.8,780.1 555.0,779.2 555.2,778.8 555.4,777.7 555.6,776.7 555.8,774.9 556.0,774.7 556.2,774.1 556.5,773.6 556.7,774.7 556.9,776.4 557.1,778.0 557.3,778.4 557.5,779.5 557.7,780.9 557.9,780.8 558.1,780.9 558.3,781.6 558.5,782.3 558.7,781.8 558.9,781.6 559.1,781.6 559.3,782.1 559.6,781.8 559.8,782.0 560.0,781.8 560.2,782.5 560.4,782.4 560.6,781.9 560.8,781.8 561.0,782.1 561.2,781.9 561.4,782.1 561.6,782.5 561.8,781.6 562.0,782.5 562.2,782.6 562.5,782.2 562.7,782.0 562.9,782.2 563.1,782.6 563.3,782.8 563.5,782.1 563.7,782.2 563.9,782.7 564.1,782.5 564.3,781.9 564.5,782.0 564.7,783.2 564.9,782.6 565.1,781.9 565.3,782.5 565.6,783.1 565.8,782.8 566.0,782.0 566.2,782.7 566.4,782.1 566.6,782.8 566.8,782.0 567.0,782.5 567.2,782.3 567.4,782.4 567.6,782.6 567.8,783.4 568.0,782.0 568.2,782.0 568.5,782.2 568.7,782.0 568.9,782.6 569.1,782.2 569.3,783.0 569.5,783.0 569.7,782.4 569.9,783.2 570.1,782.1 570.3,782.5 570.5,782.4 570.7,782.7 570.9,782.3 571.1,782.1 571.3,782.9 571.6,782.7 571.8,782.2 572.0,782.9 572.2,782.2 572.4,782.8 572.6,782.6 572.8,782.2 573.0,782.2 573.2,782.8 573.4,781.8 573.6,782.6 573.8,782.7 574.0,782.1 574.2,782.4 574.5,781.7 574.7,782.6 574.9,783.1 575.1,783.3 575.3,782.6 575.5,782.4 575.7,782.2 575.9,782.1 576.1,782.0 576.3,782.5 576.5,782.6 576.7,781.3 576.9,781.4 577.1,782.5 577.3,782.3 577.6,782.5 577.8,781.6 578.0,781.9 578.2,783.1 578.4,782.3 578.6,782.6 578.8,782.2 579.0,782.6 579.2,782.3 579.4,782.7 579.6,782.0 579.8,782.5 580.0,781.9 580.2,782.8 580.5,782.1 580.7,782.1 580.9,782.2 581.1,782.4 581.3,782.7 581.5,782.5 581.7,782.7 581.9,782.0 582.1,782.2 582.3,782.1 582.5,782.0 582.7,782.7 582.9,782.5 583.1,782.5 583.3,782.6 583.6,782.7 583.8,782.8 584.0,782.5 584.2,781.5 584.4,782.2 584.6,782.2 584.8,782.2 585.0,782.8 585.2,782.2 585.4,782.4 585.6,782.3 585.8,782.5 586.0,781.6 586.2,782.9 586.5,782.4 586.7,782.6 586.9,782.5 587.1,781.8 587.3,781.7 587.5,782.1 587.7,782.7 587.9,781.9 588.1,782.3 588.3,782.9 588.5,782.0 588.7,782.3 588.9,782.2 589.1,781.8 589.3,781.6 589.6,782.5 589.8,781.9 590.0,781.8 590.2,781.8 590.4,781.9 590.6,781.2 590.8,781.9 591.0,781.6 591.2,780.6 591.4,781.0 591.6,780.4 591.8,779.5 592.0,779.7 592.2,778.9 592.5,777.8 592.7,774.8 592.9,772.4 593.1,770.1 593.3,767.7 593.5,766.6 593.7,767.7 593.9,770.1 594.1,773.0 594.3,774.8 594.5,776.7 594.7,777.8 594.9,779.9 595.1,780.6 595.3,781.6 595.6,781.3 595.8,781.0 596.0,781.1 596.2,781.7 596.4,782.2 596.6,781.7 596.8,782.2 597.0,782.2 597.2,781.1 597.4,782.4 597.6,782.1 597.8,782.2 598.0,781.9 598.2,782.5 598.5,782.3 598.7,781.8 598.9,782.5 599.1,782.5 599.3,782.6 599.5,782.9 599.7,783.0 599.9,782.1 600.1,782.8 600.3,782.6 600.5,782.0 600.7,782.2 600.9,782.8 601.1,782.1 601.3,782.3 601.6,782.6 601.8,781.6 602.0,782.5 602.2,782.5 602.4,782.2 602.6,782.3 602.8,782.3 603.0,782.5 603.2,782.4 603.4,782.2 603.6,782.5 603.8,782.4 604.0,782.0 604.2,782.1 604.5,782.4 604.7,782.6 604.9,781.8 605.1,782.9 605.3,782.2 605.5,782.2 605.7,782.9 605.9,782.8 606.1,781.8 606.3,782.1 606.5,782.5 606.7,782.4 606.9,782.2 607.1,782.9 607.3,782.0 607.6,783.1 607.8,782.3 608.0,782.6 608.2,782.7 608.4,782.2 608.6,782.6 608.8,781.9 609.0,781.9 609.2,781.8 609.4,782.1 609.6,782.6 609.8,782.1 610.0,783.0 610.2,781.5 610.5,782.0 610.7,782.2 610.9,783.1 611.1,781.9 611.3,782.4 611.5,782.3 611.7,782.7 611.9,783.4 612.1,782.5 612.3,782.2 612.5,782.5 612.7,782.0 612.9,781.8 613.1,782.4 613.3,781.9 613.6,782.5 613.8,782.5 614.0,782.5 614.2,782.4 614.4,781.8 614.6,782.3 614.8,782.5 615.0,782.1 615.2,782.7 615.4,782.5 615.6,781.8 615.8,781.6 616.0,781.5 616.2,782.3 616.5,781.9 616.7,781.9 616.9,781.4 617.1,781.5 617.3,781.8 617.5,782.0 617.7,781.1 617.9,781.2 618.1,779.5 618.3,779.2 618.5,777.4 618.7,776.4 618.9,775.2 619.1,773.4 619.3,772.5 619.6,770.9 619.8,770.9 620.0,773.3 620.2,775.0 620.4,777.1 620.6,778.5 620.8,779.1 621.0,779.7 621.2,781.1 621.4,781.1 621.6,782.4 621.8,781.9 622.0,781.8 622.2,781.4 622.5,782.0 622.7,781.2 622.9,782.1 623.1,782.1 623.3,782.2 623.5,782.2 623.7,782.8 623.9,782.3 624.1,782.1 624.3,781.8 624.5,782.0 624.7,782.4 624.9,781.9 625.1,783.0 625.3,782.4 625.6,782.1 625.8,782.3 626.0,782.3 626.2,782.7 626.4,782.9 626.6,782.4 626.8,782.0 627.0,782.6 627.2,782.3 627.4,782.1 627.6,782.9 627.8,782.1 628.0,782.4 628.2,782.8 628.5,782.3 628.7,782.3 628.9,782.8 629.1,782.4 629.3,782.8 629.5,782.2 629.7,782.7 629.9,782.7 630.1,782.6 630.3,782.9 630.5,782.4 630.7,782.7 630.9,781.9 631.1,782.4 631.3,782.5 631.6,782.7 631.8,782.6 632.0,782.5 632.2,782.9 632.4,782.4 632.6,782.2 632.8,782.8 633.0,782.3 633.2,782.3 633.4,782.6 633.6,783.1 633.8,782.6 634.0,782.7 634.2,782.8 634.5,782.9 634.7,781.9 634.9,782.6 635.1,782.6 635.3,782.8 635.5,782.3 635.7,782.3 635.9,782.6 636.1,782.4 636.3,782.9 636.5,782.3 636.7,782.3 636.9,782.2 637.1,782.5 637.3,782.4 637.6,782.1 637.8,782.2 638.0,782.7 638.2,782.2 638.4,781.3 638.6,781.9 638.8,781.7 639.0,781.6 639.2,781.5 639.4,781.2 639.6,780.9 639.8,779.9 640.0,779.2 640.2,778.0 640.5,776.2 640.7,775.2 640.9,774.1 641.1,773.6 641.3,774.5 641.5,774.8 641.7,776.5 641.9,778.4 642.1,778.8 642.3,780.1 642.5,781.0 642.7,780.9 642.9,781.8 643.1,781.4 643.3,781.7 643.6,781.5 643.8,781.7 644.0,781.6 644.2,781.5 644.4,781.0 644.6,780.5 644.8,780.2 645.0,779.6 645.2,778.4 645.4,778.5 645.6,778.5 645.8,778.4 646.0,779.0 646.2,778.7 646.5,780.2 646.7,780.5 646.9,780.8 647.1,781.3 647.3,781.3"/>
<text transform="translate(347.5,692.7) rotate(-90)" text-anchor="middle" font-size="10.45">Intensity (a.u.)</text>
<text x="516.9" y="819" text-anchor="middle" font-size="10.3">2 Theta (degrees)</text>
<line x1="477.5" y1="601.9" x2="506.8" y2="601.9" stroke="#9c9c9c" stroke-width="1.6"/>
<text x="510.3" y="605.8" font-size="13.1">As Prepared (ESZ-3)</text>
<line x1="477.5" y1="617.8" x2="506.8" y2="617.8" stroke="#e6a0a0" stroke-width="2.0"/>
<text x="510.3" y="622.2" font-size="13.1">After Exposure (ESZ-3)</text>
<text x="495.7" y="846.8" text-anchor="middle" class="cap" font-size="14.5">(f)</text>
</svg></body></html>
